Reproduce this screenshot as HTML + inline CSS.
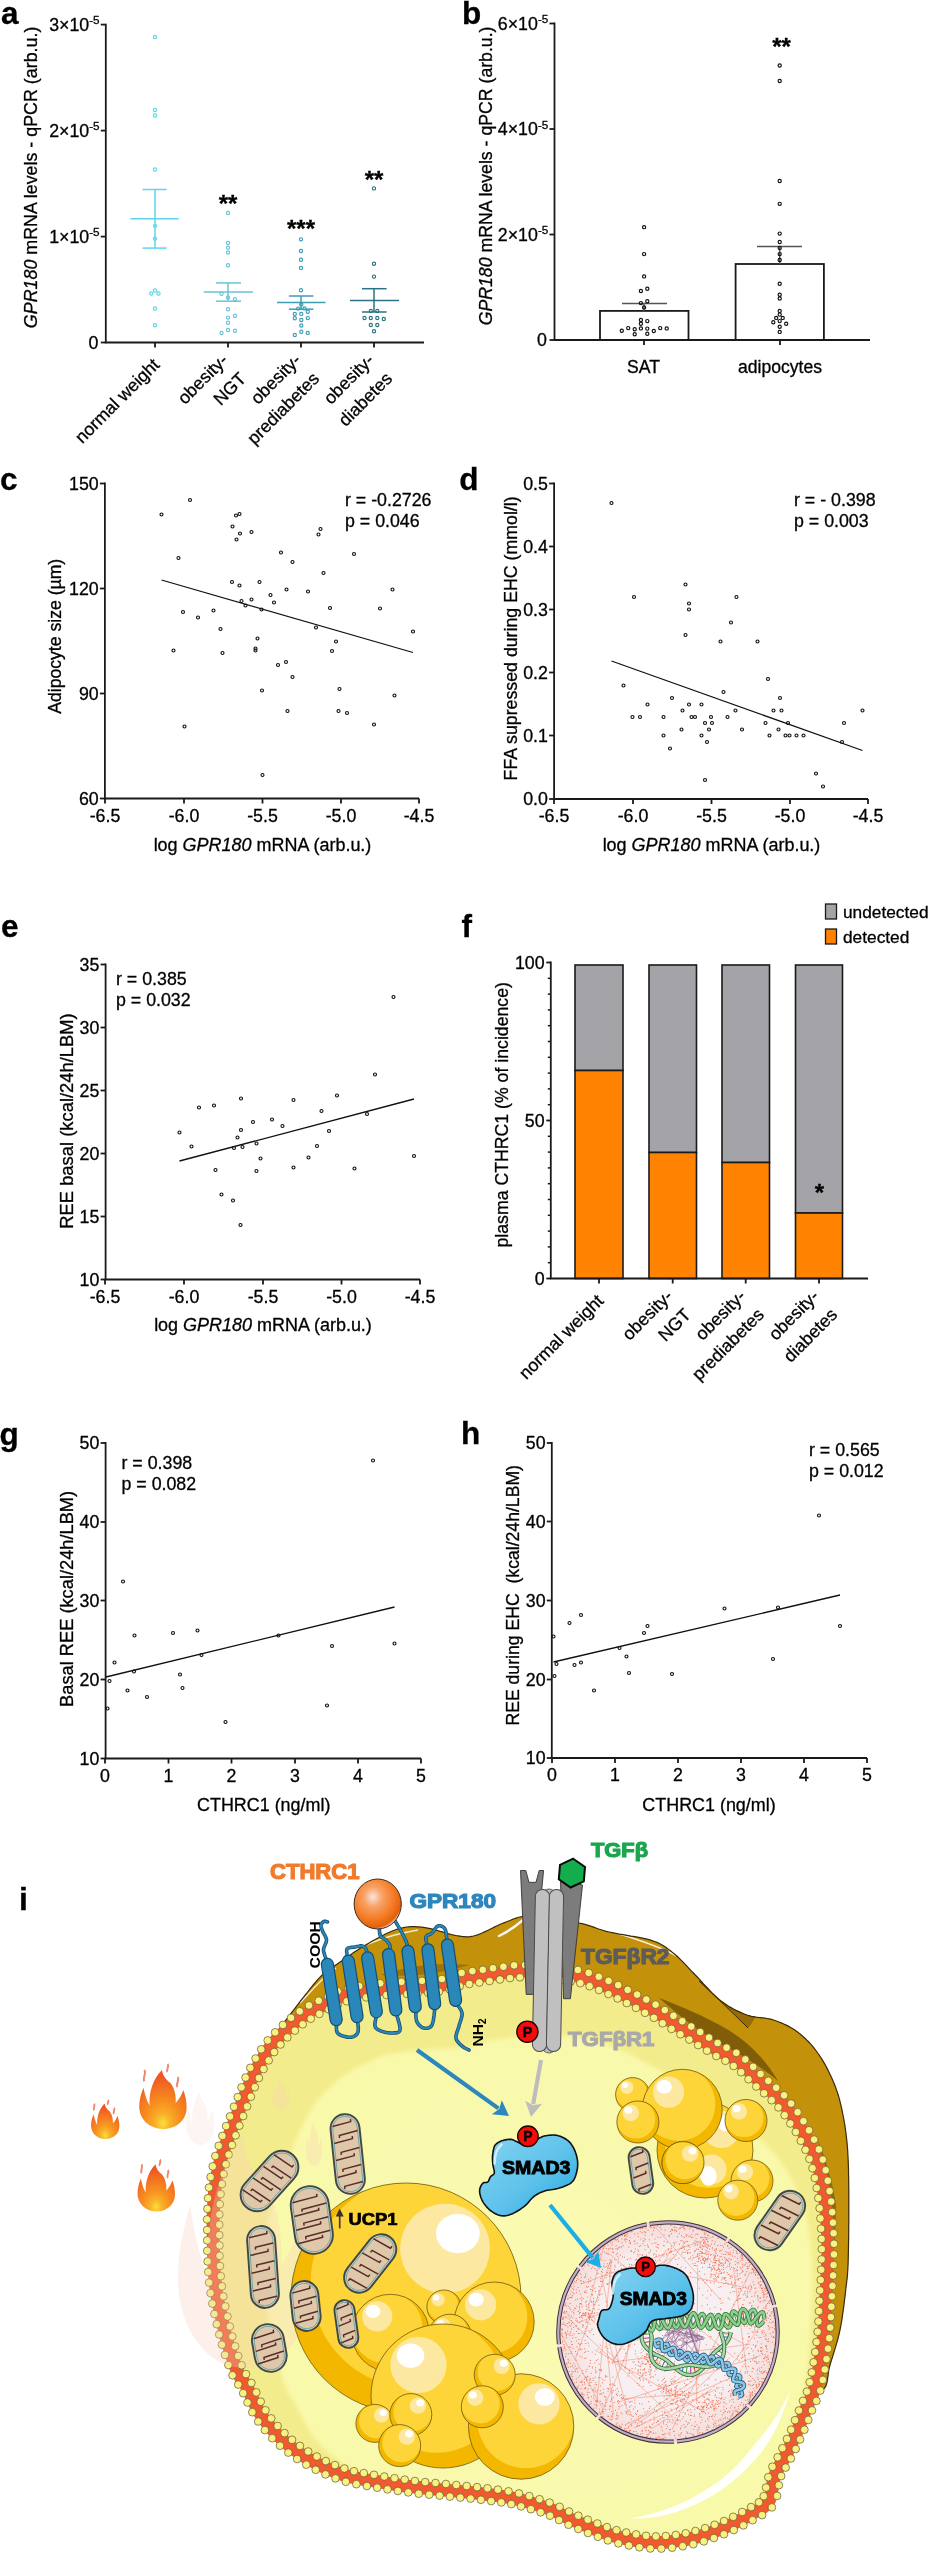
<!DOCTYPE html>
<html><head><meta charset="utf-8"><style>
html,body{margin:0;padding:0;background:#fff;}
svg{display:block;filter:blur(0.35px);}
svg text{font-family:"Liberation Sans", sans-serif;}
.ch text{stroke:#000;stroke-width:0.3px;}
</style></head><body>
<svg width="929" height="2556" viewBox="0 0 929 2556">
<defs>
<radialGradient id="cyto" cx="540" cy="2290" r="330" gradientUnits="userSpaceOnUse">
<stop offset="0" stop-color="#fafab2"/><stop offset="0.7" stop-color="#f9f9ac"/><stop offset="1" stop-color="#f9f9a8"/></radialGradient>
<radialGradient id="flg" cx="0.5" cy="0.9" r="0.8"><stop offset="0" stop-color="#f8e03a"/><stop offset="0.2" stop-color="#f9b02a"/><stop offset="0.45" stop-color="#f7901f"/><stop offset="0.8" stop-color="#f26c22"/><stop offset="1" stop-color="#ee5522"/></radialGradient>
<radialGradient id="ballg" cx="0.4" cy="0.36" r="0.66"><stop offset="0" stop-color="#fbe2dc"/><stop offset="0.3" stop-color="#f8a266"/><stop offset="0.7" stop-color="#f47820"/><stop offset="0.93" stop-color="#e0600c"/><stop offset="1" stop-color="#f6c8a0"/></radialGradient>
<radialGradient id="nucg" cx="0.5" cy="0.5" r="0.5"><stop offset="0" stop-color="#f8f3f5"/><stop offset="0.7" stop-color="#f7eef0"/><stop offset="1" stop-color="#f4dcd8"/></radialGradient>
<linearGradient id="smadg" x1="0" y1="0" x2="1" y2="1"><stop offset="0" stop-color="#84d3f1"/><stop offset="0.55" stop-color="#5ec2eb"/><stop offset="1" stop-color="#1fa5dc"/></linearGradient>
<radialGradient id="glow" cx="0.5" cy="0.5" r="0.5"><stop offset="0" stop-color="#f8c8a8" stop-opacity="0.35"/><stop offset="0.75" stop-color="#f8c8a8" stop-opacity="0.18"/><stop offset="1" stop-color="#f8c8a8" stop-opacity="0"/></radialGradient>
<linearGradient id="gry" x1="0" y1="0" x2="1" y2="0"><stop offset="0" stop-color="#a3a3a3"/><stop offset="0.45" stop-color="#d4d4d4"/><stop offset="1" stop-color="#a0a0a0"/></linearGradient>
<filter id="blur6" x="-20%" y="-20%" width="140%" height="140%"><feGaussianBlur stdDeviation="6"/></filter><filter id="blur2" x="-5%" y="-5%" width="110%" height="110%"><feGaussianBlur stdDeviation="2"/></filter>
</defs>
<g transform="translate(186,2092) scale(28,53)" opacity="0.2"><path d="M0.5,1 C0.2,1 0,0.82 0,0.62 C0,0.5 0.04,0.4 0.09,0.3 C0.12,0.42 0.16,0.52 0.22,0.6 C0.2,0.4 0.28,0.16 0.48,0 C0.5,0.1 0.56,0.16 0.66,0.22 C0.74,0.3 0.78,0.42 0.77,0.56 C0.84,0.5 0.9,0.42 0.93,0.34 C0.98,0.44 1,0.54 1,0.64 C1,0.84 0.8,1 0.5,1 Z" fill="#f7cdb8"/></g>
<g transform="translate(91,2103.6) scale(28.400000000000006,35.5)"><path d="M0.5,1 C0.2,1 0,0.82 0,0.62 C0,0.5 0.04,0.4 0.09,0.3 C0.12,0.42 0.16,0.52 0.22,0.6 C0.2,0.4 0.28,0.16 0.48,0 C0.5,0.1 0.56,0.16 0.66,0.22 C0.74,0.3 0.78,0.42 0.77,0.56 C0.84,0.5 0.9,0.42 0.93,0.34 C0.98,0.44 1,0.54 1,0.64 C1,0.84 0.8,1 0.5,1 Z" fill="url(#flg)"/><path d="M0.11,0.19 C0.06,0.13 0.16,0.07 0.11,0.0 M0.6,0.03 C0.56,-0.01 0.64,-0.05 0.6,-0.1 M0.81,0.29 C0.76,0.23 0.86,0.18 0.81,0.12" stroke="#e8603a" stroke-width="0.068" fill="none" opacity="0.75"/></g>
<g transform="translate(139.2,2070) scale(47.400000000000006,59)"><path d="M0.5,1 C0.2,1 0,0.82 0,0.62 C0,0.5 0.04,0.4 0.09,0.3 C0.12,0.42 0.16,0.52 0.22,0.6 C0.2,0.4 0.28,0.16 0.48,0 C0.5,0.1 0.56,0.16 0.66,0.22 C0.74,0.3 0.78,0.42 0.77,0.56 C0.84,0.5 0.9,0.42 0.93,0.34 C0.98,0.44 1,0.54 1,0.64 C1,0.84 0.8,1 0.5,1 Z" fill="url(#flg)"/><path d="M0.11,0.19 C0.06,0.13 0.16,0.07 0.11,0.0 M0.6,0.03 C0.56,-0.01 0.64,-0.05 0.6,-0.1 M0.81,0.29 C0.76,0.23 0.86,0.18 0.81,0.12" stroke="#e8603a" stroke-width="0.041" fill="none" opacity="0.75"/></g>
<g transform="translate(137.5,2164.3) scale(37.5,47.19999999999982)"><path d="M0.5,1 C0.2,1 0,0.82 0,0.62 C0,0.5 0.04,0.4 0.09,0.3 C0.12,0.42 0.16,0.52 0.22,0.6 C0.2,0.4 0.28,0.16 0.48,0 C0.5,0.1 0.56,0.16 0.66,0.22 C0.74,0.3 0.78,0.42 0.77,0.56 C0.84,0.5 0.9,0.42 0.93,0.34 C0.98,0.44 1,0.54 1,0.64 C1,0.84 0.8,1 0.5,1 Z" fill="url(#flg)"/><path d="M0.11,0.19 C0.06,0.13 0.16,0.07 0.11,0.0 M0.6,0.03 C0.56,-0.01 0.64,-0.05 0.6,-0.1 M0.81,0.29 C0.76,0.23 0.86,0.18 0.81,0.12" stroke="#e8603a" stroke-width="0.051" fill="none" opacity="0.75"/></g>
<clipPath id="brownclip"><path d="M262.0,2058.0 L262.4,2057.2 L262.9,2056.2 L263.5,2055.0 L264.1,2053.6 L264.8,2052.1 L265.6,2050.6 L266.3,2049.0 L267.1,2047.5 L267.9,2045.9 L268.6,2044.5 L269.3,2043.2 L270.0,2042.0 L270.6,2041.0 L271.1,2040.1 L271.6,2039.3 L272.1,2038.6 L272.6,2037.9 L273.1,2037.3 L273.6,2036.6 L274.2,2035.9 L274.7,2035.2 L275.4,2034.3 L276.1,2033.4 L276.9,2032.3 L277.8,2031.1 L278.7,2029.8 L279.8,2028.4 L280.9,2026.9 L282.0,2025.4 L283.1,2023.9 L284.3,2022.3 L285.5,2020.6 L286.8,2019.0 L288.0,2017.4 L289.2,2015.8 L290.4,2014.2 L291.6,2012.6 L292.8,2011.0 L294.1,2009.4 L295.3,2007.8 L296.6,2006.1 L297.8,2004.5 L299.1,2002.8 L300.4,2001.1 L301.7,1999.5 L303.0,1997.9 L304.2,1996.3 L305.5,1994.7 L306.8,1993.1 L308.0,1991.5 L309.3,1989.9 L310.6,1988.2 L311.9,1986.6 L313.2,1985.0 L314.5,1983.5 L315.8,1982.0 L317.0,1980.5 L318.2,1979.1 L319.4,1977.8 L320.6,1976.6 L321.7,1975.5 L322.6,1974.7 L323.4,1973.9 L324.2,1973.2 L324.9,1972.6 L325.7,1972.0 L326.5,1971.4 L327.5,1970.8 L328.5,1970.1 L329.8,1969.2 L331.3,1968.2 L333.0,1967.0 L335.0,1965.6 L337.3,1964.0 L339.7,1962.2 L342.4,1960.4 L345.2,1958.4 L348.1,1956.4 L351.0,1954.4 L354.0,1952.3 L357.0,1950.4 L359.9,1948.5 L362.8,1946.7 L365.6,1945.0 L368.3,1943.4 L371.1,1941.8 L373.9,1940.2 L376.7,1938.7 L379.5,1937.2 L382.2,1935.7 L385.0,1934.3 L387.7,1933.0 L390.4,1931.8 L393.0,1930.8 L395.5,1929.8 L398.0,1929.0 L400.4,1928.3 L402.6,1927.8 L404.7,1927.4 L406.8,1927.0 L408.8,1926.8 L410.9,1926.7 L412.9,1926.6 L414.9,1926.7 L417.0,1926.8 L419.1,1926.9 L421.3,1927.1 L423.7,1927.4 L426.2,1927.8 L428.9,1928.3 L431.6,1928.9 L434.5,1929.7 L437.3,1930.5 L440.2,1931.4 L443.1,1932.2 L445.9,1933.0 L448.7,1933.8 L451.3,1934.5 L453.7,1935.1 L456.0,1935.5 L458.0,1935.8 L459.9,1936.1 L461.5,1936.4 L463.1,1936.6 L464.5,1936.7 L465.9,1936.8 L467.3,1936.8 L468.7,1936.8 L470.2,1936.6 L471.8,1936.3 L473.5,1936.0 L475.4,1935.5 L477.5,1934.9 L479.7,1934.0 L482.1,1933.0 L484.5,1931.9 L487.0,1930.7 L489.6,1929.5 L492.1,1928.2 L494.7,1926.9 L497.3,1925.7 L499.7,1924.5 L502.2,1923.5 L504.5,1922.6 L506.7,1921.8 L508.7,1921.0 L510.6,1920.2 L512.4,1919.4 L514.2,1918.7 L516.0,1918.1 L517.9,1917.5 L519.9,1917.0 L522.1,1916.5 L524.4,1916.2 L527.1,1916.1 L530.0,1916.0 L533.3,1916.1 L537.0,1916.4 L541.0,1916.7 L545.3,1917.3 L549.7,1917.9 L554.2,1918.5 L558.7,1919.3 L563.2,1920.0 L567.5,1920.8 L571.7,1921.6 L575.5,1922.3 L579.0,1923.0 L582.1,1923.7 L584.9,1924.4 L587.5,1925.1 L589.9,1925.9 L592.2,1926.6 L594.4,1927.4 L596.5,1928.2 L598.7,1929.0 L601.0,1929.7 L603.5,1930.5 L606.1,1931.3 L609.0,1932.0 L612.2,1932.7 L615.7,1933.4 L619.3,1934.1 L623.2,1934.7 L627.1,1935.4 L631.0,1936.1 L634.9,1936.7 L638.8,1937.4 L642.4,1938.2 L645.9,1938.9 L649.1,1939.7 L652.0,1940.6 L654.6,1941.5 L656.9,1942.4 L658.9,1943.3 L660.8,1944.3 L662.6,1945.2 L664.2,1946.2 L665.8,1947.3 L667.3,1948.4 L668.9,1949.6 L670.4,1950.8 L672.1,1952.1 L673.8,1953.5 L675.6,1955.0 L677.4,1956.5 L679.1,1958.2 L680.8,1959.9 L682.6,1961.6 L684.3,1963.4 L686.1,1965.3 L687.8,1967.2 L689.6,1969.1 L691.5,1971.1 L693.4,1973.0 L695.3,1975.0 L697.3,1977.0 L699.3,1979.2 L701.4,1981.5 L703.5,1983.8 L705.7,1986.1 L707.9,1988.5 L710.1,1990.8 L712.3,1993.1 L714.5,1995.2 L716.7,1997.3 L718.8,1999.2 L721.0,2001.0 L723.2,2002.6 L725.3,2004.1 L727.5,2005.6 L729.6,2006.9 L731.8,2008.1 L733.9,2009.3 L736.1,2010.4 L738.3,2011.4 L740.5,2012.4 L742.6,2013.3 L744.8,2014.2 L747.0,2015.0 L749.2,2015.7 L751.4,2016.3 L753.7,2016.7 L755.9,2017.1 L758.2,2017.4 L760.5,2017.6 L762.7,2017.9 L765.0,2018.2 L767.2,2018.5 L769.4,2018.9 L771.5,2019.4 L773.6,2020.0 L775.7,2020.7 L777.7,2021.5 L779.7,2022.3 L781.8,2023.1 L783.7,2024.0 L785.7,2024.9 L787.6,2025.9 L789.5,2026.9 L791.4,2028.0 L793.3,2029.1 L795.1,2030.3 L796.9,2031.6 L798.7,2032.9 L800.4,2034.3 L802.1,2035.7 L803.8,2037.2 L805.5,2038.7 L807.1,2040.3 L808.7,2042.0 L810.3,2043.7 L811.8,2045.4 L813.3,2047.2 L814.8,2049.1 L816.3,2051.0 L817.7,2053.0 L819.2,2055.0 L820.6,2057.2 L822.0,2059.4 L823.3,2061.6 L824.7,2063.9 L826.0,2066.3 L827.2,2068.6 L828.4,2071.0 L829.6,2073.4 L830.7,2075.7 L831.8,2078.1 L832.8,2080.4 L833.8,2082.7 L834.7,2085.0 L835.6,2087.3 L836.4,2089.6 L837.2,2091.9 L838.0,2094.3 L838.7,2096.7 L839.4,2099.2 L840.1,2101.8 L840.7,2104.4 L841.4,2107.2 L842.0,2110.1 L842.6,2113.0 L843.2,2116.0 L843.8,2119.1 L844.3,2122.2 L844.9,2125.4 L845.3,2128.7 L845.8,2132.0 L846.2,2135.4 L846.6,2138.9 L847.0,2142.4 L847.3,2146.0 L847.6,2149.6 L847.8,2153.3 L848.0,2157.0 L848.2,2160.8 L848.3,2164.6 L848.5,2168.5 L848.5,2172.5 L848.6,2176.6 L848.7,2180.9 L848.7,2185.2 L848.8,2189.7 L848.8,2194.4 L848.8,2199.4 L848.8,2204.8 L848.8,2210.4 L848.8,2216.3 L848.8,2222.3 L848.7,2228.4 L848.7,2234.3 L848.6,2240.1 L848.5,2245.7 L848.4,2250.9 L848.3,2255.7 L848.2,2260.0 L848.1,2263.7 L847.9,2266.9 L847.8,2269.8 L847.6,2272.3 L847.5,2274.5 L847.3,2276.6 L847.1,2278.6 L846.8,2280.6 L846.6,2282.6 L846.3,2284.8 L846.0,2287.3 L845.7,2290.0 L845.4,2293.0 L845.0,2296.1 L844.6,2299.4 L844.2,2302.8 L843.8,2306.2 L843.3,2309.7 L842.8,2313.2 L842.3,2316.7 L841.8,2320.1 L841.2,2323.5 L840.6,2326.8 L840.0,2330.0 L839.3,2333.1 L838.6,2336.2 L837.8,2339.3 L836.9,2342.4 L836.0,2345.4 L835.1,2348.4 L834.2,2351.4 L833.3,2354.3 L832.5,2357.1 L831.6,2359.8 L830.8,2362.4 L830.0,2365.0 L829.3,2367.5 L828.8,2370.2 L828.4,2372.8 L828.1,2375.4 L827.7,2377.9 L827.4,2380.3 L826.9,2382.6 L826.4,2384.6 L825.6,2386.4 L824.7,2388.0 L823.5,2389.2 L822.0,2390.0 L820.4,2390.6 L818.7,2391.2 L817.0,2391.6 L815.3,2391.9 L813.3,2391.9 L811.1,2391.6 L808.7,2390.9 L805.9,2389.8 L802.6,2388.2 L799.0,2386.1 L794.8,2383.4 L790.0,2380.0 L784.9,2375.8 L779.6,2370.9 L774.2,2365.4 L768.4,2359.3 L762.2,2352.6 L755.5,2345.6 L748.2,2338.3 L740.3,2330.7 L731.6,2323.0 L722.0,2315.3 L711.5,2307.6 L700.0,2300.0 L687.2,2292.3 L673.0,2284.3 L657.7,2275.9 L641.5,2267.4 L624.5,2258.7 L606.9,2250.0 L588.9,2241.3 L570.7,2232.6 L552.6,2224.1 L534.6,2215.7 L517.0,2207.7 L500.0,2200.0 L482.7,2192.4 L464.4,2184.6 L445.3,2176.7 L425.9,2168.9 L406.5,2161.2 L387.5,2153.8 L369.2,2146.6 L351.9,2140.0 L335.9,2133.9 L321.8,2128.5 L309.7,2123.8 L300.0,2120.0 Z"/></clipPath>
<path d="M262.0,2058.0 L262.4,2057.2 L262.9,2056.2 L263.5,2055.0 L264.1,2053.6 L264.8,2052.1 L265.6,2050.6 L266.3,2049.0 L267.1,2047.5 L267.9,2045.9 L268.6,2044.5 L269.3,2043.2 L270.0,2042.0 L270.6,2041.0 L271.1,2040.1 L271.6,2039.3 L272.1,2038.6 L272.6,2037.9 L273.1,2037.3 L273.6,2036.6 L274.2,2035.9 L274.7,2035.2 L275.4,2034.3 L276.1,2033.4 L276.9,2032.3 L277.8,2031.1 L278.7,2029.8 L279.8,2028.4 L280.9,2026.9 L282.0,2025.4 L283.1,2023.9 L284.3,2022.3 L285.5,2020.6 L286.8,2019.0 L288.0,2017.4 L289.2,2015.8 L290.4,2014.2 L291.6,2012.6 L292.8,2011.0 L294.1,2009.4 L295.3,2007.8 L296.6,2006.1 L297.8,2004.5 L299.1,2002.8 L300.4,2001.1 L301.7,1999.5 L303.0,1997.9 L304.2,1996.3 L305.5,1994.7 L306.8,1993.1 L308.0,1991.5 L309.3,1989.9 L310.6,1988.2 L311.9,1986.6 L313.2,1985.0 L314.5,1983.5 L315.8,1982.0 L317.0,1980.5 L318.2,1979.1 L319.4,1977.8 L320.6,1976.6 L321.7,1975.5 L322.6,1974.7 L323.4,1973.9 L324.2,1973.2 L324.9,1972.6 L325.7,1972.0 L326.5,1971.4 L327.5,1970.8 L328.5,1970.1 L329.8,1969.2 L331.3,1968.2 L333.0,1967.0 L335.0,1965.6 L337.3,1964.0 L339.7,1962.2 L342.4,1960.4 L345.2,1958.4 L348.1,1956.4 L351.0,1954.4 L354.0,1952.3 L357.0,1950.4 L359.9,1948.5 L362.8,1946.7 L365.6,1945.0 L368.3,1943.4 L371.1,1941.8 L373.9,1940.2 L376.7,1938.7 L379.5,1937.2 L382.2,1935.7 L385.0,1934.3 L387.7,1933.0 L390.4,1931.8 L393.0,1930.8 L395.5,1929.8 L398.0,1929.0 L400.4,1928.3 L402.6,1927.8 L404.7,1927.4 L406.8,1927.0 L408.8,1926.8 L410.9,1926.7 L412.9,1926.6 L414.9,1926.7 L417.0,1926.8 L419.1,1926.9 L421.3,1927.1 L423.7,1927.4 L426.2,1927.8 L428.9,1928.3 L431.6,1928.9 L434.5,1929.7 L437.3,1930.5 L440.2,1931.4 L443.1,1932.2 L445.9,1933.0 L448.7,1933.8 L451.3,1934.5 L453.7,1935.1 L456.0,1935.5 L458.0,1935.8 L459.9,1936.1 L461.5,1936.4 L463.1,1936.6 L464.5,1936.7 L465.9,1936.8 L467.3,1936.8 L468.7,1936.8 L470.2,1936.6 L471.8,1936.3 L473.5,1936.0 L475.4,1935.5 L477.5,1934.9 L479.7,1934.0 L482.1,1933.0 L484.5,1931.9 L487.0,1930.7 L489.6,1929.5 L492.1,1928.2 L494.7,1926.9 L497.3,1925.7 L499.7,1924.5 L502.2,1923.5 L504.5,1922.6 L506.7,1921.8 L508.7,1921.0 L510.6,1920.2 L512.4,1919.4 L514.2,1918.7 L516.0,1918.1 L517.9,1917.5 L519.9,1917.0 L522.1,1916.5 L524.4,1916.2 L527.1,1916.1 L530.0,1916.0 L533.3,1916.1 L537.0,1916.4 L541.0,1916.7 L545.3,1917.3 L549.7,1917.9 L554.2,1918.5 L558.7,1919.3 L563.2,1920.0 L567.5,1920.8 L571.7,1921.6 L575.5,1922.3 L579.0,1923.0 L582.1,1923.7 L584.9,1924.4 L587.5,1925.1 L589.9,1925.9 L592.2,1926.6 L594.4,1927.4 L596.5,1928.2 L598.7,1929.0 L601.0,1929.7 L603.5,1930.5 L606.1,1931.3 L609.0,1932.0 L612.2,1932.7 L615.7,1933.4 L619.3,1934.1 L623.2,1934.7 L627.1,1935.4 L631.0,1936.1 L634.9,1936.7 L638.8,1937.4 L642.4,1938.2 L645.9,1938.9 L649.1,1939.7 L652.0,1940.6 L654.6,1941.5 L656.9,1942.4 L658.9,1943.3 L660.8,1944.3 L662.6,1945.2 L664.2,1946.2 L665.8,1947.3 L667.3,1948.4 L668.9,1949.6 L670.4,1950.8 L672.1,1952.1 L673.8,1953.5 L675.6,1955.0 L677.4,1956.5 L679.1,1958.2 L680.8,1959.9 L682.6,1961.6 L684.3,1963.4 L686.1,1965.3 L687.8,1967.2 L689.6,1969.1 L691.5,1971.1 L693.4,1973.0 L695.3,1975.0 L697.3,1977.0 L699.3,1979.2 L701.4,1981.5 L703.5,1983.8 L705.7,1986.1 L707.9,1988.5 L710.1,1990.8 L712.3,1993.1 L714.5,1995.2 L716.7,1997.3 L718.8,1999.2 L721.0,2001.0 L723.2,2002.6 L725.3,2004.1 L727.5,2005.6 L729.6,2006.9 L731.8,2008.1 L733.9,2009.3 L736.1,2010.4 L738.3,2011.4 L740.5,2012.4 L742.6,2013.3 L744.8,2014.2 L747.0,2015.0 L749.2,2015.7 L751.4,2016.3 L753.7,2016.7 L755.9,2017.1 L758.2,2017.4 L760.5,2017.6 L762.7,2017.9 L765.0,2018.2 L767.2,2018.5 L769.4,2018.9 L771.5,2019.4 L773.6,2020.0 L775.7,2020.7 L777.7,2021.5 L779.7,2022.3 L781.8,2023.1 L783.7,2024.0 L785.7,2024.9 L787.6,2025.9 L789.5,2026.9 L791.4,2028.0 L793.3,2029.1 L795.1,2030.3 L796.9,2031.6 L798.7,2032.9 L800.4,2034.3 L802.1,2035.7 L803.8,2037.2 L805.5,2038.7 L807.1,2040.3 L808.7,2042.0 L810.3,2043.7 L811.8,2045.4 L813.3,2047.2 L814.8,2049.1 L816.3,2051.0 L817.7,2053.0 L819.2,2055.0 L820.6,2057.2 L822.0,2059.4 L823.3,2061.6 L824.7,2063.9 L826.0,2066.3 L827.2,2068.6 L828.4,2071.0 L829.6,2073.4 L830.7,2075.7 L831.8,2078.1 L832.8,2080.4 L833.8,2082.7 L834.7,2085.0 L835.6,2087.3 L836.4,2089.6 L837.2,2091.9 L838.0,2094.3 L838.7,2096.7 L839.4,2099.2 L840.1,2101.8 L840.7,2104.4 L841.4,2107.2 L842.0,2110.1 L842.6,2113.0 L843.2,2116.0 L843.8,2119.1 L844.3,2122.2 L844.9,2125.4 L845.3,2128.7 L845.8,2132.0 L846.2,2135.4 L846.6,2138.9 L847.0,2142.4 L847.3,2146.0 L847.6,2149.6 L847.8,2153.3 L848.0,2157.0 L848.2,2160.8 L848.3,2164.6 L848.5,2168.5 L848.5,2172.5 L848.6,2176.6 L848.7,2180.9 L848.7,2185.2 L848.8,2189.7 L848.8,2194.4 L848.8,2199.4 L848.8,2204.8 L848.8,2210.4 L848.8,2216.3 L848.8,2222.3 L848.7,2228.4 L848.7,2234.3 L848.6,2240.1 L848.5,2245.7 L848.4,2250.9 L848.3,2255.7 L848.2,2260.0 L848.1,2263.7 L847.9,2266.9 L847.8,2269.8 L847.6,2272.3 L847.5,2274.5 L847.3,2276.6 L847.1,2278.6 L846.8,2280.6 L846.6,2282.6 L846.3,2284.8 L846.0,2287.3 L845.7,2290.0 L845.4,2293.0 L845.0,2296.1 L844.6,2299.4 L844.2,2302.8 L843.8,2306.2 L843.3,2309.7 L842.8,2313.2 L842.3,2316.7 L841.8,2320.1 L841.2,2323.5 L840.6,2326.8 L840.0,2330.0 L839.3,2333.1 L838.6,2336.2 L837.8,2339.3 L836.9,2342.4 L836.0,2345.4 L835.1,2348.4 L834.2,2351.4 L833.3,2354.3 L832.5,2357.1 L831.6,2359.8 L830.8,2362.4 L830.0,2365.0 L829.3,2367.5 L828.8,2370.2 L828.4,2372.8 L828.1,2375.4 L827.7,2377.9 L827.4,2380.3 L826.9,2382.6 L826.4,2384.6 L825.6,2386.4 L824.7,2388.0 L823.5,2389.2 L822.0,2390.0 L820.4,2390.6 L818.7,2391.2 L817.0,2391.6 L815.3,2391.9 L813.3,2391.9 L811.1,2391.6 L808.7,2390.9 L805.9,2389.8 L802.6,2388.2 L799.0,2386.1 L794.8,2383.4 L790.0,2380.0 L784.9,2375.8 L779.6,2370.9 L774.2,2365.4 L768.4,2359.3 L762.2,2352.6 L755.5,2345.6 L748.2,2338.3 L740.3,2330.7 L731.6,2323.0 L722.0,2315.3 L711.5,2307.6 L700.0,2300.0 L687.2,2292.3 L673.0,2284.3 L657.7,2275.9 L641.5,2267.4 L624.5,2258.7 L606.9,2250.0 L588.9,2241.3 L570.7,2232.6 L552.6,2224.1 L534.6,2215.7 L517.0,2207.7 L500.0,2200.0 L482.7,2192.4 L464.4,2184.6 L445.3,2176.7 L425.9,2168.9 L406.5,2161.2 L387.5,2153.8 L369.2,2146.6 L351.9,2140.0 L335.9,2133.9 L321.8,2128.5 L309.7,2123.8 L300.0,2120.0 Z" fill="#c4910a"/>
<g clip-path="url(#brownclip)">
<path d="M380,1975 C410,1965 440,1962 470,1965 C445,1972 415,1978 380,1975 Z" fill="#8f6508" opacity="0.7"/>
<path d="M659,1998 C680,2006 705,2016 730,2031 C750,2044 766,2060 778,2081 C760,2066 742,2055 722,2045 C700,2033 680,2016 659,1998 Z" fill="#6f5005" opacity="0.8"/>
<path d="M699,1981 C722,1990 742,2001 757,2013 C754,2020 751,2025 748,2028 C732,2012 715,1996 699,1981 Z" fill="#8a6208" opacity="0.75"/>
<path d="M699,1981 C715,1996 732,2012 748,2028" stroke="#3a2a05" stroke-width="1" fill="none"/>
<path d="M818,2140 C826,2160 832,2180 836,2205 C836,2230 834,2250 832,2265 C830,2240 828,2215 824,2190 C822,2170 820,2155 818,2140 Z" fill="#7d5806" opacity="0.7"/>
<path d="M300,2003 C312,1990 322,1978 336,1968" stroke="#fff" stroke-width="1.4" fill="none" opacity="0.85"/>
<path d="M605,1930 C620,1934 640,1940 660,1948 C668,1951 672,1953 676,1956" stroke="#fff" stroke-width="1.4" fill="none" opacity="0.85"/>
<path d="M368,1944 C385,1937 400,1933 418,1930" stroke="#fff" stroke-width="1.6" fill="none" opacity="0.8"/>
<path d="M499,1936 C507,1932 515,1927 523,1920" stroke="#f4f4f8" stroke-width="2.4" fill="none" stroke-linecap="round"/>
</g>
<path d="M262.0,2058.0 L262.4,2057.2 L262.9,2056.2 L263.5,2055.0 L264.1,2053.6 L264.8,2052.1 L265.6,2050.6 L266.3,2049.0 L267.1,2047.5 L267.9,2045.9 L268.6,2044.5 L269.3,2043.2 L270.0,2042.0 L270.6,2041.0 L271.1,2040.1 L271.6,2039.3 L272.1,2038.6 L272.6,2037.9 L273.1,2037.3 L273.6,2036.6 L274.2,2035.9 L274.7,2035.2 L275.4,2034.3 L276.1,2033.4 L276.9,2032.3 L277.8,2031.1 L278.7,2029.8 L279.8,2028.4 L280.9,2026.9 L282.0,2025.4 L283.1,2023.9 L284.3,2022.3 L285.5,2020.6 L286.8,2019.0 L288.0,2017.4 L289.2,2015.8 L290.4,2014.2 L291.6,2012.6 L292.8,2011.0 L294.1,2009.4 L295.3,2007.8 L296.6,2006.1 L297.8,2004.5 L299.1,2002.8 L300.4,2001.1 L301.7,1999.5 L303.0,1997.9 L304.2,1996.3 L305.5,1994.7 L306.8,1993.1 L308.0,1991.5 L309.3,1989.9 L310.6,1988.2 L311.9,1986.6 L313.2,1985.0 L314.5,1983.5 L315.8,1982.0 L317.0,1980.5 L318.2,1979.1 L319.4,1977.8 L320.6,1976.6 L321.7,1975.5 L322.6,1974.7 L323.4,1973.9 L324.2,1973.2 L324.9,1972.6 L325.7,1972.0 L326.5,1971.4 L327.5,1970.8 L328.5,1970.1 L329.8,1969.2 L331.3,1968.2 L333.0,1967.0 L335.0,1965.6 L337.3,1964.0 L339.7,1962.2 L342.4,1960.4 L345.2,1958.4 L348.1,1956.4 L351.0,1954.4 L354.0,1952.3 L357.0,1950.4 L359.9,1948.5 L362.8,1946.7 L365.6,1945.0 L368.3,1943.4 L371.1,1941.8 L373.9,1940.2 L376.7,1938.7 L379.5,1937.2 L382.2,1935.7 L385.0,1934.3 L387.7,1933.0 L390.4,1931.8 L393.0,1930.8 L395.5,1929.8 L398.0,1929.0 L400.4,1928.3 L402.6,1927.8 L404.7,1927.4 L406.8,1927.0 L408.8,1926.8 L410.9,1926.7 L412.9,1926.6 L414.9,1926.7 L417.0,1926.8 L419.1,1926.9 L421.3,1927.1 L423.7,1927.4 L426.2,1927.8 L428.9,1928.3 L431.6,1928.9 L434.5,1929.7 L437.3,1930.5 L440.2,1931.4 L443.1,1932.2 L445.9,1933.0 L448.7,1933.8 L451.3,1934.5 L453.7,1935.1 L456.0,1935.5 L458.0,1935.8 L459.9,1936.1 L461.5,1936.4 L463.1,1936.6 L464.5,1936.7 L465.9,1936.8 L467.3,1936.8 L468.7,1936.8 L470.2,1936.6 L471.8,1936.3 L473.5,1936.0 L475.4,1935.5 L477.5,1934.9 L479.7,1934.0 L482.1,1933.0 L484.5,1931.9 L487.0,1930.7 L489.6,1929.5 L492.1,1928.2 L494.7,1926.9 L497.3,1925.7 L499.7,1924.5 L502.2,1923.5 L504.5,1922.6 L506.7,1921.8 L508.7,1921.0 L510.6,1920.2 L512.4,1919.4 L514.2,1918.7 L516.0,1918.1 L517.9,1917.5 L519.9,1917.0 L522.1,1916.5 L524.4,1916.2 L527.1,1916.1 L530.0,1916.0 L533.3,1916.1 L537.0,1916.4 L541.0,1916.7 L545.3,1917.3 L549.7,1917.9 L554.2,1918.5 L558.7,1919.3 L563.2,1920.0 L567.5,1920.8 L571.7,1921.6 L575.5,1922.3 L579.0,1923.0 L582.1,1923.7 L584.9,1924.4 L587.5,1925.1 L589.9,1925.9 L592.2,1926.6 L594.4,1927.4 L596.5,1928.2 L598.7,1929.0 L601.0,1929.7 L603.5,1930.5 L606.1,1931.3 L609.0,1932.0 L612.2,1932.7 L615.7,1933.4 L619.3,1934.1 L623.2,1934.7 L627.1,1935.4 L631.0,1936.1 L634.9,1936.7 L638.8,1937.4 L642.4,1938.2 L645.9,1938.9 L649.1,1939.7 L652.0,1940.6 L654.6,1941.5 L656.9,1942.4 L658.9,1943.3 L660.8,1944.3 L662.6,1945.2 L664.2,1946.2 L665.8,1947.3 L667.3,1948.4 L668.9,1949.6 L670.4,1950.8 L672.1,1952.1 L673.8,1953.5 L675.6,1955.0 L677.4,1956.5 L679.1,1958.2 L680.8,1959.9 L682.6,1961.6 L684.3,1963.4 L686.1,1965.3 L687.8,1967.2 L689.6,1969.1 L691.5,1971.1 L693.4,1973.0 L695.3,1975.0 L697.3,1977.0 L699.3,1979.2 L701.4,1981.5 L703.5,1983.8 L705.7,1986.1 L707.9,1988.5 L710.1,1990.8 L712.3,1993.1 L714.5,1995.2 L716.7,1997.3 L718.8,1999.2 L721.0,2001.0 L723.2,2002.6 L725.3,2004.1 L727.5,2005.6 L729.6,2006.9 L731.8,2008.1 L733.9,2009.3 L736.1,2010.4 L738.3,2011.4 L740.5,2012.4 L742.6,2013.3 L744.8,2014.2 L747.0,2015.0 L749.2,2015.7 L751.4,2016.3 L753.7,2016.7 L755.9,2017.1 L758.2,2017.4 L760.5,2017.6 L762.7,2017.9 L765.0,2018.2 L767.2,2018.5 L769.4,2018.9 L771.5,2019.4 L773.6,2020.0 L775.7,2020.7 L777.7,2021.5 L779.7,2022.3 L781.8,2023.1 L783.7,2024.0 L785.7,2024.9 L787.6,2025.9 L789.5,2026.9 L791.4,2028.0 L793.3,2029.1 L795.1,2030.3 L796.9,2031.6 L798.7,2032.9 L800.4,2034.3 L802.1,2035.7 L803.8,2037.2 L805.5,2038.7 L807.1,2040.3 L808.7,2042.0 L810.3,2043.7 L811.8,2045.4 L813.3,2047.2 L814.8,2049.1 L816.3,2051.0 L817.7,2053.0 L819.2,2055.0 L820.6,2057.2 L822.0,2059.4 L823.3,2061.6 L824.7,2063.9 L826.0,2066.3 L827.2,2068.6 L828.4,2071.0 L829.6,2073.4 L830.7,2075.7 L831.8,2078.1 L832.8,2080.4 L833.8,2082.7 L834.7,2085.0 L835.6,2087.3 L836.4,2089.6 L837.2,2091.9 L838.0,2094.3 L838.7,2096.7 L839.4,2099.2 L840.1,2101.8 L840.7,2104.4 L841.4,2107.2 L842.0,2110.1 L842.6,2113.0 L843.2,2116.0 L843.8,2119.1 L844.3,2122.2 L844.9,2125.4 L845.3,2128.7 L845.8,2132.0 L846.2,2135.4 L846.6,2138.9 L847.0,2142.4 L847.3,2146.0 L847.6,2149.6 L847.8,2153.3 L848.0,2157.0 L848.2,2160.8 L848.3,2164.6 L848.5,2168.5 L848.5,2172.5 L848.6,2176.6 L848.7,2180.9 L848.7,2185.2 L848.8,2189.7 L848.8,2194.4 L848.8,2199.4 L848.8,2204.8 L848.8,2210.4 L848.8,2216.3 L848.8,2222.3 L848.7,2228.4 L848.7,2234.3 L848.6,2240.1 L848.5,2245.7 L848.4,2250.9 L848.3,2255.7 L848.2,2260.0 L848.1,2263.7 L847.9,2266.9 L847.8,2269.8 L847.6,2272.3 L847.5,2274.5 L847.3,2276.6 L847.1,2278.6 L846.8,2280.6 L846.6,2282.6 L846.3,2284.8 L846.0,2287.3 L845.7,2290.0 L845.4,2293.0 L845.0,2296.1 L844.6,2299.4 L844.2,2302.8 L843.8,2306.2 L843.3,2309.7 L842.8,2313.2 L842.3,2316.7 L841.8,2320.1 L841.2,2323.5 L840.6,2326.8 L840.0,2330.0 L839.3,2333.1 L838.6,2336.2 L837.8,2339.3 L836.9,2342.4 L836.0,2345.4 L835.1,2348.4 L834.2,2351.4 L833.3,2354.3 L832.5,2357.1 L831.6,2359.8 L830.8,2362.4 L830.0,2365.0 L829.3,2367.5 L828.8,2370.2 L828.4,2372.8 L828.1,2375.4 L827.7,2377.9 L827.4,2380.3 L826.9,2382.6 L826.4,2384.6 L825.6,2386.4 L824.7,2388.0 L823.5,2389.2 L822.0,2390.0 L820.4,2390.6 L818.7,2391.2 L817.0,2391.6 L815.3,2391.9 L813.3,2391.9 L811.1,2391.6 L808.7,2390.9 L805.9,2389.8 L802.6,2388.2 L799.0,2386.1 L794.8,2383.4 L790.0,2380.0 L784.9,2375.8 L779.6,2370.9 L774.2,2365.4 L768.4,2359.3 L762.2,2352.6 L755.5,2345.6 L748.2,2338.3 L740.3,2330.7 L731.6,2323.0 L722.0,2315.3 L711.5,2307.6 L700.0,2300.0 L687.2,2292.3 L673.0,2284.3 L657.7,2275.9 L641.5,2267.4 L624.5,2258.7 L606.9,2250.0 L588.9,2241.3 L570.7,2232.6 L552.6,2224.1 L534.6,2215.7 L517.0,2207.7 L500.0,2200.0 L482.7,2192.4 L464.4,2184.6 L445.3,2176.7 L425.9,2168.9 L406.5,2161.2 L387.5,2153.8 L369.2,2146.6 L351.9,2140.0 L335.9,2133.9 L321.8,2128.5 L309.7,2123.8 L300.0,2120.0 Z" fill="none" stroke="#3a2a05" stroke-width="1.2"/>
<path d="M251.2,2080.0 L251.8,2078.7 L252.4,2077.4 L252.9,2076.2 L253.5,2075.1 L254.0,2074.0 L254.5,2073.0 L255.0,2072.0 L255.5,2071.0 L256.0,2070.0 L256.5,2069.1 L257.1,2068.1 L257.6,2067.1 L258.2,2066.1 L258.7,2065.1 L259.4,2064.1 L260.0,2063.0 L260.7,2061.9 L261.3,2060.7 L262.0,2059.6 L262.7,2058.5 L263.4,2057.3 L264.1,2056.1 L264.8,2054.9 L265.6,2053.8 L266.3,2052.6 L267.1,2051.4 L267.9,2050.2 L268.7,2049.1 L269.6,2047.9 L270.5,2046.7 L271.4,2045.6 L272.3,2044.4 L273.3,2043.2 L274.3,2042.1 L275.3,2040.9 L276.4,2039.7 L277.5,2038.6 L278.7,2037.4 L279.8,2036.2 L281.0,2035.0 L282.2,2033.9 L283.4,2032.7 L284.5,2031.6 L285.7,2030.5 L286.9,2029.4 L288.1,2028.3 L289.3,2027.3 L290.4,2026.3 L291.5,2025.3 L292.7,2024.3 L293.8,2023.4 L295.0,2022.5 L296.1,2021.5 L297.3,2020.6 L298.4,2019.7 L299.5,2018.9 L300.7,2018.0 L301.8,2017.2 L303.0,2016.4 L304.1,2015.6 L305.2,2014.9 L306.3,2014.1 L307.4,2013.4 L308.5,2012.7 L309.6,2012.0 L310.6,2011.4 L311.7,2010.8 L312.7,2010.3 L313.7,2009.8 L314.7,2009.3 L315.7,2008.8 L316.7,2008.3 L317.7,2007.8 L318.7,2007.4 L319.7,2006.9 L320.8,2006.5 L321.8,2006.0 L322.8,2005.5 L323.9,2005.0 L325.0,2004.5 L326.1,2004.0 L327.2,2003.4 L328.3,2002.8 L329.4,2002.2 L330.5,2001.6 L331.6,2001.0 L332.8,2000.4 L333.9,1999.8 L335.1,1999.2 L336.2,1998.7 L337.4,1998.1 L338.6,1997.5 L339.9,1997.0 L341.1,1996.5 L342.4,1996.0 L343.7,1995.6 L345.0,1995.2 L346.4,1994.8 L347.8,1994.4 L349.3,1994.1 L350.7,1993.8 L352.2,1993.5 L353.7,1993.2 L355.2,1992.9 L356.8,1992.6 L358.3,1992.4 L359.8,1992.1 L361.4,1991.9 L362.9,1991.7 L364.4,1991.4 L365.9,1991.2 L367.4,1991.0 L368.9,1990.8 L370.4,1990.6 L371.8,1990.4 L373.3,1990.2 L374.8,1990.0 L376.3,1989.8 L377.7,1989.7 L379.2,1989.5 L380.7,1989.4 L382.1,1989.2 L383.6,1989.1 L385.1,1989.0 L386.6,1988.9 L388.0,1988.7 L389.5,1988.6 L391.0,1988.5 L392.5,1988.4 L393.9,1988.3 L395.4,1988.2 L396.8,1988.2 L398.2,1988.1 L399.7,1988.0 L401.1,1988.0 L402.6,1987.9 L404.0,1987.9 L405.5,1987.8 L407.0,1987.8 L408.4,1987.7 L410.0,1987.7 L411.5,1987.6 L413.1,1987.5 L414.7,1987.4 L416.4,1987.3 L418.1,1987.2 L419.9,1987.1 L421.7,1987.0 L423.5,1986.9 L425.4,1986.8 L427.3,1986.6 L429.1,1986.5 L431.0,1986.4 L432.9,1986.2 L434.7,1986.1 L436.5,1985.9 L438.2,1985.7 L439.9,1985.5 L441.5,1985.3 L443.0,1985.0 L444.4,1984.7 L445.8,1984.4 L447.1,1984.1 L448.3,1983.7 L449.5,1983.3 L450.6,1982.9 L451.7,1982.5 L452.8,1982.1 L453.9,1981.6 L454.9,1981.2 L456.0,1980.8 L457.1,1980.4 L458.3,1980.0 L459.5,1979.7 L460.7,1979.3 L462.0,1979.0 L463.4,1978.7 L464.7,1978.4 L466.2,1978.2 L467.6,1977.9 L469.1,1977.7 L470.6,1977.5 L472.1,1977.3 L473.6,1977.1 L475.1,1976.9 L476.7,1976.7 L478.2,1976.5 L479.8,1976.3 L481.3,1976.1 L482.8,1975.9 L484.3,1975.7 L485.8,1975.5 L487.3,1975.3 L488.8,1975.0 L490.4,1974.8 L491.9,1974.6 L493.5,1974.3 L495.1,1974.1 L496.6,1973.8 L498.2,1973.6 L499.7,1973.4 L501.2,1973.1 L502.7,1972.9 L504.2,1972.7 L505.6,1972.5 L506.9,1972.3 L508.2,1972.2 L509.4,1972.0 L510.5,1971.9 L511.5,1971.7 L512.5,1971.6 L513.3,1971.5 L514.1,1971.4 L514.9,1971.3 L515.6,1971.2 L516.3,1971.1 L517.0,1971.1 L517.8,1971.0 L518.6,1971.0 L519.4,1970.9 L520.3,1970.9 L521.3,1970.9 L522.4,1971.0 L523.6,1971.0 L524.9,1971.1 L526.3,1971.1 L527.8,1971.3 L529.3,1971.4 L531.0,1971.5 L532.6,1971.7 L534.3,1971.9 L536.1,1972.0 L537.8,1972.2 L539.6,1972.4 L541.4,1972.6 L543.1,1972.8 L544.9,1973.0 L546.6,1973.2 L548.3,1973.3 L550.0,1973.5 L551.7,1973.6 L553.3,1973.8 L555.1,1973.9 L556.8,1974.0 L558.5,1974.1 L560.2,1974.3 L562.0,1974.4 L563.7,1974.5 L565.4,1974.6 L567.1,1974.8 L568.7,1974.9 L570.3,1975.0 L571.8,1975.2 L573.3,1975.4 L574.7,1975.6 L576.1,1975.8 L577.4,1976.0 L578.6,1976.3 L579.7,1976.5 L580.7,1976.7 L581.7,1977.0 L582.7,1977.3 L583.6,1977.5 L584.5,1977.8 L585.4,1978.1 L586.3,1978.4 L587.2,1978.8 L588.1,1979.1 L589.1,1979.5 L590.1,1979.9 L591.2,1980.3 L592.3,1980.7 L593.5,1981.2 L594.7,1981.6 L596.0,1982.1 L597.3,1982.6 L598.6,1983.2 L600.0,1983.7 L601.3,1984.3 L602.7,1984.9 L604.1,1985.5 L605.5,1986.1 L606.9,1986.7 L608.3,1987.3 L609.7,1987.9 L611.1,1988.6 L612.4,1989.2 L613.8,1989.8 L615.1,1990.4 L616.5,1991.1 L617.8,1991.7 L619.2,1992.4 L620.5,1993.0 L621.9,1993.7 L623.2,1994.4 L624.5,1995.0 L625.9,1995.7 L627.2,1996.4 L628.6,1997.1 L629.9,1997.8 L631.3,1998.5 L632.6,1999.2 L634.0,1999.9 L635.3,2000.6 L636.7,2001.3 L638.0,2002.0 L639.4,2002.8 L640.8,2003.5 L642.3,2004.3 L643.7,2005.0 L645.1,2005.8 L646.5,2006.6 L647.9,2007.3 L649.2,2008.1 L650.6,2008.8 L651.9,2009.6 L653.2,2010.3 L654.5,2011.0 L655.7,2011.7 L656.9,2012.4 L658.0,2013.1 L659.1,2013.7 L660.1,2014.3 L661.0,2014.9 L662.0,2015.5 L662.9,2016.1 L663.7,2016.7 L664.6,2017.3 L665.5,2017.9 L666.4,2018.5 L667.2,2019.0 L668.2,2019.7 L669.1,2020.3 L670.1,2020.9 L671.2,2021.6 L672.3,2022.3 L673.5,2023.0 L674.7,2023.8 L676.0,2024.5 L677.2,2025.3 L678.6,2026.1 L679.9,2026.9 L681.3,2027.7 L682.7,2028.5 L684.1,2029.4 L685.5,2030.2 L686.9,2031.0 L688.3,2031.9 L689.7,2032.7 L691.1,2033.5 L692.4,2034.4 L693.8,2035.2 L695.1,2036.0 L696.5,2036.9 L697.8,2037.7 L699.2,2038.6 L700.5,2039.4 L701.9,2040.3 L703.2,2041.2 L704.5,2042.0 L705.9,2042.9 L707.2,2043.7 L708.6,2044.6 L709.9,2045.4 L711.3,2046.3 L712.6,2047.1 L714.0,2047.9 L715.3,2048.7 L716.6,2049.5 L718.0,2050.2 L719.3,2050.9 L720.7,2051.6 L722.1,2052.3 L723.4,2052.9 L724.8,2053.6 L726.1,2054.2 L727.5,2054.9 L728.8,2055.6 L730.2,2056.3 L731.5,2057.0 L732.9,2057.8 L734.2,2058.7 L735.6,2059.6 L736.9,2060.5 L738.2,2061.5 L739.6,2062.6 L740.9,2063.7 L742.2,2064.8 L743.5,2066.0 L744.8,2067.2 L746.1,2068.4 L747.4,2069.6 L748.7,2070.9 L750.0,2072.2 L751.3,2073.5 L752.7,2074.8 L754.0,2076.1 L755.4,2077.4 L756.7,2078.7 L758.1,2080.0 L759.5,2081.3 L760.9,2082.5 L762.4,2083.8 L763.9,2085.1 L765.4,2086.4 L766.9,2087.6 L768.4,2088.9 L769.9,2090.2 L771.4,2091.5 L772.9,2092.9 L774.3,2094.2 L775.8,2095.6 L777.2,2097.0 L778.7,2098.4 L780.0,2099.9 L781.4,2101.4 L782.7,2102.9 L784.0,2104.5 L785.3,2106.1 L786.6,2107.7 L787.9,2109.3 L789.1,2111.0 L790.4,2112.7 L791.6,2114.4 L792.8,2116.1 L794.0,2117.8 L795.2,2119.6 L796.3,2121.3 L797.5,2123.1 L798.6,2124.9 L799.7,2126.7 L800.8,2128.5 L801.9,2130.3 L803.0,2132.2 L804.1,2134.0 L805.1,2135.9 L806.2,2137.8 L807.2,2139.7 L808.3,2141.6 L809.3,2143.5 L810.3,2145.5 L811.2,2147.4 L812.2,2149.4 L813.1,2151.4 L813.9,2153.4 L814.8,2155.4 L815.6,2157.4 L816.3,2159.5 L817.0,2161.6 L817.7,2163.7 L818.3,2165.9 L818.9,2168.1 L819.4,2170.3 L820.0,2172.6 L820.5,2174.8 L820.9,2177.1 L821.4,2179.3 L821.8,2181.6 L822.2,2183.8 L822.6,2186.0 L823.0,2188.2 L823.3,2190.3 L823.7,2192.4 L824.0,2194.4 L824.3,2196.4 L824.6,2198.3 L824.9,2200.2 L825.1,2202.1 L825.3,2203.9 L825.5,2205.7 L825.7,2207.5 L825.9,2209.3 L826.0,2211.0 L826.2,2212.8 L826.3,2214.5 L826.4,2216.3 L826.5,2218.0 L826.7,2219.8 L826.8,2221.6 L826.9,2223.4 L827.0,2225.2 L827.1,2226.9 L827.2,2228.7 L827.4,2230.3 L827.5,2232.0 L827.5,2233.7 L827.6,2235.4 L827.7,2237.1 L827.8,2238.8 L827.8,2240.6 L827.9,2242.4 L827.9,2244.3 L827.9,2246.2 L827.9,2248.2 L827.9,2250.3 L827.9,2252.5 L827.9,2254.8 L827.8,2257.2 L827.7,2259.6 L827.6,2262.2 L827.5,2264.8 L827.4,2267.4 L827.3,2270.1 L827.1,2272.8 L827.0,2275.6 L826.9,2278.4 L826.7,2281.2 L826.5,2284.0 L826.4,2286.8 L826.2,2289.6 L826.1,2292.4 L825.9,2295.2 L825.7,2298.0 L825.6,2300.7 L825.5,2303.5 L825.3,2306.3 L825.2,2309.1 L825.1,2312.0 L824.9,2314.8 L824.8,2317.6 L824.6,2320.5 L824.4,2323.3 L824.2,2326.2 L824.0,2329.0 L823.8,2331.9 L823.5,2334.7 L823.2,2337.6 L822.9,2340.4 L822.6,2343.3 L822.2,2346.2 L821.8,2349.2 L821.4,2352.2 L820.9,2355.3 L820.4,2358.3 L820.0,2361.4 L819.5,2364.4 L819.0,2367.4 L818.5,2370.3 L817.9,2373.1 L817.4,2375.9 L816.9,2378.5 L816.3,2381.0 L815.8,2383.4 L815.3,2385.6 L814.8,2387.6 L814.2,2389.5 L813.7,2391.2 L813.1,2392.8 L812.6,2394.3 L812.0,2395.7 L811.5,2397.1 L810.9,2398.3 L810.3,2399.5 L809.7,2400.7 L809.2,2401.9 L808.6,2403.1 L808.0,2404.3 L807.4,2405.5 L806.9,2406.8 L806.3,2408.2 L805.7,2409.6 L805.2,2411.0 L804.6,2412.4 L804.1,2413.8 L803.5,2415.3 L803.0,2416.7 L802.4,2418.1 L801.9,2419.5 L801.3,2420.9 L800.8,2422.3 L800.2,2423.7 L799.7,2425.2 L799.1,2426.6 L798.5,2428.0 L797.9,2429.4 L797.3,2430.8 L796.7,2432.2 L796.1,2433.6 L795.4,2435.0 L794.8,2436.5 L794.2,2437.9 L793.5,2439.3 L792.8,2440.7 L792.2,2442.1 L791.5,2443.5 L790.8,2444.9 L790.2,2446.3 L789.5,2447.8 L788.8,2449.2 L788.1,2450.6 L787.4,2452.0 L786.7,2453.4 L786.0,2454.8 L785.2,2456.2 L784.5,2457.6 L783.7,2459.0 L782.9,2460.4 L782.0,2461.7 L781.2,2463.1 L780.4,2464.5 L779.6,2465.9 L778.8,2467.3 L778.1,2468.7 L777.3,2470.1 L776.6,2471.6 L775.9,2473.0 L775.3,2474.5 L774.7,2476.0 L774.2,2477.5 L773.7,2479.2 L773.4,2480.8 L773.0,2482.5 L772.8,2484.3 L772.5,2486.0 L772.3,2487.7 L772.0,2489.5 L771.8,2491.2 L771.5,2492.9 L771.2,2494.6 L770.8,2496.2 L770.4,2497.7 L769.8,2499.2 L769.2,2500.5 L768.5,2501.8 L767.7,2503.0 L766.8,2504.1 L765.8,2505.1 L764.7,2506.0 L763.6,2506.9 L762.5,2507.7 L761.3,2508.5 L760.0,2509.3 L758.7,2510.0 L757.4,2510.7 L756.1,2511.4 L754.8,2512.1 L753.5,2512.7 L752.2,2513.4 L750.9,2514.2 L749.6,2514.9 L748.3,2515.7 L747.1,2516.4 L745.8,2517.1 L744.5,2517.9 L743.2,2518.6 L741.9,2519.3 L740.6,2520.0 L739.2,2520.7 L737.9,2521.4 L736.5,2522.0 L735.2,2522.7 L733.8,2523.4 L732.3,2524.0 L730.9,2524.7 L729.5,2525.4 L728.0,2526.0 L726.5,2526.6 L725.0,2527.3 L723.4,2527.9 L721.8,2528.6 L720.1,2529.2 L718.5,2529.9 L716.8,2530.5 L715.1,2531.1 L713.5,2531.7 L711.8,2532.3 L710.1,2532.9 L708.5,2533.5 L706.9,2534.0 L705.3,2534.5 L703.7,2535.0 L702.2,2535.5 L700.7,2535.9 L699.3,2536.4 L697.9,2536.8 L696.5,2537.1 L695.1,2537.5 L693.7,2537.8 L692.4,2538.2 L691.1,2538.5 L689.7,2538.8 L688.4,2539.0 L687.0,2539.3 L685.7,2539.6 L684.3,2539.8 L682.9,2540.0 L681.5,2540.3 L680.0,2540.5 L678.5,2540.7 L677.0,2540.9 L675.5,2541.1 L673.9,2541.4 L672.3,2541.5 L670.8,2541.7 L669.2,2541.9 L667.6,2542.1 L666.0,2542.2 L664.4,2542.3 L662.7,2542.4 L661.1,2542.5 L659.5,2542.6 L658.0,2542.6 L656.4,2542.6 L654.8,2542.6 L653.2,2542.6 L651.7,2542.5 L650.1,2542.4 L648.5,2542.3 L646.9,2542.1 L645.4,2541.9 L643.8,2541.7 L642.2,2541.5 L640.7,2541.3 L639.1,2541.1 L637.6,2540.8 L636.0,2540.6 L634.5,2540.3 L633.0,2540.0 L631.5,2539.8 L630.0,2539.5 L628.6,2539.2 L627.2,2539.0 L625.8,2538.7 L624.5,2538.5 L623.2,2538.2 L621.9,2537.9 L620.7,2537.6 L619.4,2537.3 L618.1,2537.0 L616.7,2536.7 L615.3,2536.3 L613.9,2535.9 L612.4,2535.4 L610.8,2534.9 L609.2,2534.4 L607.4,2533.8 L605.5,2533.1 L603.5,2532.4 L601.3,2531.6 L599.1,2530.8 L596.8,2529.9 L594.4,2528.9 L592.0,2528.0 L589.5,2527.0 L587.1,2526.0 L584.7,2525.0 L582.3,2524.0 L580.0,2523.1 L577.8,2522.1 L575.7,2521.3 L573.7,2520.4 L571.8,2519.6 L570.1,2518.8 L568.5,2518.1 L567.0,2517.4 L565.7,2516.7 L564.4,2516.1 L563.2,2515.4 L562.0,2514.8 L560.8,2514.2 L559.7,2513.5 L558.5,2512.9 L557.3,2512.3 L556.0,2511.7 L554.7,2511.1 L553.2,2510.5 L551.7,2509.8 L550.0,2509.2 L548.2,2508.5 L546.3,2507.9 L544.3,2507.2 L542.3,2506.5 L540.2,2505.8 L538.0,2505.1 L535.8,2504.4 L533.6,2503.7 L531.3,2503.0 L529.1,2502.3 L526.8,2501.7 L524.5,2501.0 L522.2,2500.4 L520.0,2499.8 L517.8,2499.3 L515.6,2498.8 L513.4,2498.3 L511.3,2497.9 L509.1,2497.5 L507.0,2497.1 L504.8,2496.8 L502.7,2496.4 L500.5,2496.1 L498.4,2495.8 L496.2,2495.5 L494.0,2495.3 L491.9,2495.0 L489.7,2494.7 L487.6,2494.5 L485.4,2494.2 L483.3,2494.0 L481.1,2493.7 L478.9,2493.4 L476.8,2493.2 L474.6,2492.9 L472.5,2492.7 L470.3,2492.5 L468.2,2492.3 L466.0,2492.1 L463.9,2491.8 L461.8,2491.6 L459.6,2491.4 L457.5,2491.2 L455.3,2491.0 L453.2,2490.8 L451.0,2490.6 L448.9,2490.4 L446.7,2490.2 L444.5,2490.0 L442.4,2489.8 L440.2,2489.6 L438.1,2489.4 L435.9,2489.2 L433.8,2489.0 L431.6,2488.8 L429.4,2488.6 L427.3,2488.4 L425.1,2488.2 L423.0,2488.0 L420.8,2487.8 L418.7,2487.5 L416.5,2487.3 L414.4,2487.1 L412.2,2486.8 L410.0,2486.5 L407.9,2486.2 L405.7,2486.0 L403.6,2485.7 L401.4,2485.4 L399.3,2485.1 L397.1,2484.7 L395.0,2484.4 L392.9,2484.1 L390.7,2483.8 L388.6,2483.4 L386.4,2483.1 L384.3,2482.7 L382.1,2482.3 L380.0,2482.0 L377.8,2481.6 L375.6,2481.2 L373.5,2480.9 L371.3,2480.5 L369.2,2480.2 L367.0,2479.9 L364.9,2479.5 L362.7,2479.2 L360.6,2478.8 L358.4,2478.4 L356.2,2478.0 L354.1,2477.5 L351.9,2477.1 L349.8,2476.6 L347.6,2476.0 L345.5,2475.4 L343.3,2474.7 L341.1,2474.0 L338.9,2473.2 L336.7,2472.4 L334.5,2471.5 L332.3,2470.7 L330.1,2469.7 L327.9,2468.8 L325.7,2467.8 L323.5,2466.8 L321.3,2465.8 L319.1,2464.7 L317.0,2463.6 L314.9,2462.5 L312.9,2461.4 L310.9,2460.3 L308.9,2459.2 L307.0,2458.1 L305.1,2456.9 L303.2,2455.7 L301.4,2454.5 L299.5,2453.3 L297.7,2452.0 L296.0,2450.7 L294.2,2449.4 L292.5,2448.1 L290.8,2446.8 L289.2,2445.5 L287.5,2444.1 L285.9,2442.8 L284.4,2441.4 L282.8,2440.0 L281.3,2438.6 L279.8,2437.2 L278.3,2435.8 L276.9,2434.3 L275.5,2432.9 L274.1,2431.4 L272.8,2429.9 L271.4,2428.4 L270.1,2426.9 L268.9,2425.4 L267.6,2423.9 L266.4,2422.3 L265.2,2420.8 L264.0,2419.2 L262.9,2417.6 L261.8,2416.0 L260.7,2414.4 L259.6,2412.7 L258.6,2411.0 L257.6,2409.3 L256.7,2407.4 L255.7,2405.6 L254.8,2403.7 L253.9,2401.9 L253.1,2400.0 L252.2,2398.2 L251.4,2396.4 L250.6,2394.6 L249.9,2392.9 L249.1,2391.3 L248.3,2389.7 L247.6,2388.3 L246.9,2386.9 L246.2,2385.7 L245.5,2384.6 L244.9,2383.6 L244.3,2382.7 L243.7,2381.9 L243.2,2381.1 L242.6,2380.4 L242.1,2379.7 L241.6,2379.0 L241.1,2378.3 L240.6,2377.5 L240.1,2376.7 L239.5,2375.9 L239.0,2374.9 L238.5,2373.8 L237.9,2372.6 L237.3,2371.3 L236.7,2369.9 L236.1,2368.4 L235.5,2366.8 L234.9,2365.2 L234.3,2363.5 L233.7,2361.8 L233.1,2360.1 L232.5,2358.3 L231.9,2356.5 L231.3,2354.7 L230.7,2352.9 L230.2,2351.2 L229.6,2349.4 L229.1,2347.7 L228.6,2346.0 L228.1,2344.3 L227.6,2342.7 L227.2,2341.0 L226.7,2339.3 L226.3,2337.7 L225.8,2336.0 L225.4,2334.4 L225.0,2332.7 L224.6,2331.0 L224.2,2329.4 L223.8,2327.7 L223.4,2326.1 L223.0,2324.4 L222.7,2322.7 L222.3,2321.1 L221.9,2319.4 L221.5,2317.7 L221.2,2316.1 L220.8,2314.4 L220.4,2312.8 L220.1,2311.1 L219.7,2309.4 L219.3,2307.8 L219.0,2306.1 L218.7,2304.4 L218.3,2302.8 L218.0,2301.1 L217.7,2299.5 L217.4,2297.8 L217.1,2296.1 L216.9,2294.5 L216.6,2292.8 L216.4,2291.1 L216.1,2289.5 L215.9,2287.8 L215.7,2286.2 L215.5,2284.5 L215.3,2282.8 L215.1,2281.2 L215.0,2279.5 L214.8,2277.8 L214.6,2276.2 L214.5,2274.5 L214.4,2272.8 L214.2,2271.2 L214.1,2269.5 L214.0,2267.9 L213.9,2266.2 L213.8,2264.5 L213.7,2262.9 L213.6,2261.2 L213.6,2259.5 L213.5,2257.9 L213.5,2256.2 L213.5,2254.6 L213.4,2252.9 L213.4,2251.2 L213.4,2249.6 L213.4,2247.9 L213.4,2246.2 L213.3,2244.6 L213.3,2242.9 L213.3,2241.3 L213.3,2239.6 L213.3,2237.9 L213.3,2236.3 L213.2,2234.6 L213.2,2232.9 L213.2,2231.3 L213.2,2229.6 L213.2,2228.0 L213.1,2226.3 L213.1,2224.6 L213.1,2223.0 L213.1,2221.3 L213.1,2219.7 L213.2,2218.0 L213.2,2216.3 L213.2,2214.7 L213.3,2213.0 L213.4,2211.3 L213.4,2209.7 L213.5,2208.0 L213.6,2206.3 L213.7,2204.7 L213.8,2203.0 L213.9,2201.4 L214.0,2199.7 L214.1,2198.0 L214.2,2196.4 L214.4,2194.7 L214.5,2193.1 L214.7,2191.4 L214.9,2189.7 L215.1,2188.1 L215.3,2186.4 L215.5,2184.7 L215.8,2183.1 L216.0,2181.4 L216.3,2179.8 L216.6,2178.1 L216.9,2176.4 L217.2,2174.8 L217.5,2173.1 L217.8,2171.4 L218.2,2169.8 L218.5,2168.1 L218.9,2166.5 L219.3,2164.8 L219.7,2163.1 L220.2,2161.5 L220.6,2159.8 L221.1,2158.1 L221.6,2156.5 L222.1,2154.8 L222.6,2153.2 L223.2,2151.5 L223.7,2149.8 L224.3,2148.2 L224.9,2146.5 L225.5,2144.8 L226.1,2143.2 L226.8,2141.5 L227.4,2139.8 L228.0,2138.2 L228.6,2136.5 L229.3,2134.9 L229.9,2133.2 L230.5,2131.5 L231.2,2129.9 L231.8,2128.2 L232.5,2126.5 L233.1,2124.9 L233.8,2123.2 L234.4,2121.6 L235.1,2119.9 L235.8,2118.2 L236.5,2116.6 L237.1,2114.9 L237.8,2113.2 L238.5,2111.6 L239.2,2109.9 L239.8,2108.3 L240.5,2106.6 L241.2,2104.9 L241.8,2103.2 L242.5,2101.5 L243.2,2099.7 L243.9,2098.0 L244.6,2096.2 L245.3,2094.4 L246.0,2092.7 L246.6,2091.0 L247.3,2089.3 L248.0,2087.6 L248.7,2086.0 L249.3,2084.4 L250.0,2082.9 L250.6,2081.4 Z" fill="#f3ec8c"/>
<path d="M299.5,2131.2 L300.0,2130.0 L300.5,2128.9 L301.0,2127.8 L301.5,2126.8 L301.9,2125.8 L302.4,2124.9 L302.8,2124.0 L303.3,2123.1 L303.7,2122.3 L304.2,2121.4 L304.7,2120.6 L305.2,2119.7 L305.7,2118.8 L306.2,2117.9 L306.7,2117.0 L307.3,2116.0 L307.9,2115.0 L308.5,2114.0 L309.1,2113.0 L309.7,2112.0 L310.3,2110.9 L311.0,2109.9 L311.6,2108.9 L312.3,2107.8 L312.9,2106.8 L313.6,2105.7 L314.3,2104.7 L315.1,2103.6 L315.8,2102.6 L316.6,2101.5 L317.4,2100.5 L318.2,2099.5 L319.1,2098.4 L320.0,2097.4 L320.9,2096.4 L321.9,2095.3 L322.9,2094.3 L323.9,2093.2 L324.9,2092.2 L326.0,2091.1 L327.0,2090.1 L328.1,2089.1 L329.1,2088.1 L330.2,2087.1 L331.3,2086.1 L332.3,2085.2 L333.3,2084.3 L334.4,2083.4 L335.4,2082.5 L336.4,2081.6 L337.4,2080.8 L338.4,2079.9 L339.4,2079.1 L340.5,2078.3 L341.5,2077.5 L342.5,2076.8 L343.5,2076.0 L344.5,2075.3 L345.5,2074.5 L346.5,2073.8 L347.5,2073.2 L348.5,2072.5 L349.5,2071.9 L350.5,2071.3 L351.4,2070.7 L352.4,2070.1 L353.3,2069.6 L354.2,2069.1 L355.1,2068.6 L356.0,2068.2 L356.9,2067.8 L357.8,2067.3 L358.7,2066.9 L359.6,2066.5 L360.5,2066.1 L361.4,2065.7 L362.3,2065.3 L363.2,2064.9 L364.2,2064.4 L365.1,2064.0 L366.1,2063.5 L367.1,2063.0 L368.1,2062.5 L369.1,2061.9 L370.1,2061.4 L371.1,2060.9 L372.1,2060.3 L373.1,2059.8 L374.1,2059.3 L375.1,2058.8 L376.2,2058.2 L377.3,2057.8 L378.4,2057.3 L379.5,2056.8 L380.6,2056.4 L381.8,2056.0 L383.0,2055.7 L384.2,2055.3 L385.5,2055.0 L386.8,2054.7 L388.1,2054.4 L389.4,2054.1 L390.7,2053.9 L392.1,2053.6 L393.4,2053.4 L394.8,2053.2 L396.2,2053.0 L397.5,2052.7 L398.9,2052.5 L400.2,2052.3 L401.6,2052.1 L402.9,2051.9 L404.2,2051.7 L405.5,2051.6 L406.8,2051.4 L408.1,2051.2 L409.5,2051.1 L410.8,2050.9 L412.1,2050.8 L413.4,2050.6 L414.7,2050.5 L416.0,2050.4 L417.3,2050.3 L418.6,2050.1 L419.9,2050.0 L421.3,2049.9 L422.6,2049.8 L423.9,2049.7 L425.2,2049.6 L426.5,2049.5 L427.8,2049.5 L429.1,2049.4 L430.3,2049.4 L431.6,2049.3 L432.9,2049.3 L434.2,2049.2 L435.5,2049.2 L436.8,2049.1 L438.1,2049.1 L439.4,2049.0 L440.8,2049.0 L442.1,2048.9 L443.6,2048.8 L445.0,2048.7 L446.5,2048.6 L448.0,2048.5 L449.6,2048.5 L451.2,2048.4 L452.8,2048.3 L454.5,2048.2 L456.2,2048.1 L457.8,2047.9 L459.5,2047.8 L461.2,2047.7 L462.8,2047.5 L464.4,2047.4 L465.9,2047.2 L467.4,2047.0 L468.8,2046.8 L470.2,2046.6 L471.4,2046.4 L472.7,2046.1 L473.8,2045.8 L474.9,2045.4 L475.9,2045.1 L476.9,2044.7 L477.9,2044.4 L478.9,2044.0 L479.8,2043.6 L480.8,2043.2 L481.8,2042.9 L482.7,2042.5 L483.8,2042.2 L484.8,2041.8 L485.9,2041.5 L487.1,2041.3 L488.3,2041.0 L489.5,2040.8 L490.8,2040.5 L492.1,2040.3 L493.4,2040.1 L494.7,2039.9 L496.1,2039.7 L497.4,2039.6 L498.8,2039.4 L500.1,2039.2 L501.5,2039.0 L502.9,2038.9 L504.2,2038.7 L505.6,2038.5 L506.9,2038.3 L508.3,2038.1 L509.6,2037.9 L511.0,2037.7 L512.3,2037.5 L513.7,2037.3 L515.1,2037.1 L516.5,2036.9 L517.9,2036.7 L519.3,2036.4 L520.7,2036.2 L522.0,2036.0 L523.3,2035.8 L524.6,2035.7 L525.8,2035.5 L527.0,2035.3 L528.2,2035.2 L529.3,2035.0 L530.3,2034.9 L531.2,2034.8 L532.0,2034.7 L532.8,2034.6 L533.5,2034.5 L534.1,2034.4 L534.8,2034.3 L535.4,2034.3 L536.1,2034.2 L536.7,2034.1 L537.4,2034.1 L538.2,2034.1 L539.0,2034.1 L539.9,2034.1 L540.8,2034.1 L541.9,2034.1 L543.1,2034.2 L544.3,2034.3 L545.6,2034.4 L547.0,2034.5 L548.5,2034.6 L549.9,2034.8 L551.4,2034.9 L553.0,2035.1 L554.6,2035.2 L556.1,2035.4 L557.7,2035.6 L559.3,2035.7 L560.9,2035.9 L562.4,2036.1 L563.9,2036.2 L565.4,2036.4 L566.9,2036.5 L568.4,2036.6 L569.9,2036.7 L571.4,2036.8 L573.0,2036.9 L574.5,2037.0 L576.1,2037.1 L577.6,2037.3 L579.1,2037.4 L580.6,2037.5 L582.0,2037.6 L583.4,2037.7 L584.8,2037.9 L586.1,2038.0 L587.4,2038.2 L588.6,2038.4 L589.8,2038.6 L590.8,2038.8 L591.8,2039.0 L592.7,2039.3 L593.6,2039.5 L594.5,2039.7 L595.3,2040.0 L596.1,2040.2 L596.9,2040.5 L597.7,2040.8 L598.5,2041.1 L599.3,2041.4 L600.2,2041.7 L601.1,2042.0 L602.0,2042.4 L603.0,2042.8 L604.1,2043.2 L605.2,2043.6 L606.3,2044.0 L607.5,2044.5 L608.7,2045.0 L609.9,2045.5 L611.1,2046.0 L612.3,2046.5 L613.6,2047.0 L614.8,2047.6 L616.0,2048.1 L617.3,2048.7 L618.5,2049.2 L619.8,2049.8 L621.0,2050.3 L622.2,2050.9 L623.4,2051.4 L624.6,2052.0 L625.8,2052.6 L627.0,2053.1 L628.2,2053.7 L629.4,2054.3 L630.5,2054.9 L631.7,2055.5 L632.9,2056.1 L634.1,2056.7 L635.3,2057.4 L636.5,2058.0 L637.7,2058.6 L638.9,2059.2 L640.1,2059.9 L641.3,2060.5 L642.5,2061.1 L643.8,2061.8 L645.0,2062.4 L646.2,2063.1 L647.5,2063.8 L648.8,2064.4 L650.0,2065.1 L651.3,2065.8 L652.5,2066.5 L653.7,2067.1 L654.9,2067.8 L656.1,2068.5 L657.3,2069.1 L658.4,2069.7 L659.5,2070.4 L660.5,2071.0 L661.5,2071.6 L662.5,2072.2 L663.4,2072.7 L664.2,2073.2 L665.0,2073.8 L665.8,2074.3 L666.6,2074.8 L667.4,2075.3 L668.2,2075.8 L669.0,2076.4 L669.7,2076.9 L670.6,2077.4 L671.4,2078.0 L672.3,2078.6 L673.3,2079.2 L674.2,2079.8 L675.3,2080.4 L676.4,2081.1 L677.5,2081.8 L678.6,2082.5 L679.8,2083.2 L681.0,2083.9 L682.2,2084.6 L683.5,2085.3 L684.7,2086.1 L686.0,2086.8 L687.2,2087.6 L688.5,2088.3 L689.7,2089.1 L691.0,2089.8 L692.2,2090.5 L693.4,2091.3 L694.6,2092.0 L695.8,2092.8 L697.0,2093.5 L698.2,2094.3 L699.4,2095.0 L700.6,2095.8 L701.7,2096.6 L702.9,2097.3 L704.1,2098.1 L705.3,2098.9 L706.5,2099.6 L707.7,2100.4 L708.9,2101.1 L710.1,2101.9 L711.3,2102.6 L712.5,2103.3 L713.7,2104.0 L714.9,2104.6 L716.1,2105.3 L717.3,2105.9 L718.5,2106.5 L719.7,2107.0 L720.9,2107.6 L722.1,2108.2 L723.4,2108.8 L724.6,2109.4 L725.8,2110.1 L727.0,2110.7 L728.2,2111.4 L729.4,2112.2 L730.5,2113.0 L731.7,2113.8 L732.9,2114.7 L734.1,2115.6 L735.3,2116.6 L736.4,2117.6 L737.6,2118.7 L738.8,2119.7 L739.9,2120.8 L741.1,2121.9 L742.2,2123.1 L743.4,2124.2 L744.6,2125.4 L745.8,2126.5 L747.0,2127.7 L748.2,2128.9 L749.4,2130.0 L750.6,2131.2 L751.9,2132.3 L753.1,2133.4 L754.4,2134.5 L755.7,2135.7 L757.1,2136.8 L758.4,2137.9 L759.7,2139.1 L761.1,2140.3 L762.4,2141.4 L763.7,2142.6 L765.1,2143.8 L766.4,2145.0 L767.6,2146.3 L768.9,2147.6 L770.1,2148.9 L771.3,2150.2 L772.5,2151.6 L773.7,2152.9 L774.8,2154.4 L776.0,2155.8 L777.1,2157.2 L778.2,2158.7 L779.3,2160.2 L780.4,2161.7 L781.5,2163.2 L782.5,2164.8 L783.6,2166.4 L784.6,2167.9 L785.6,2169.5 L786.6,2171.1 L787.6,2172.7 L788.6,2174.3 L789.6,2175.9 L790.5,2177.6 L791.5,2179.2 L792.5,2180.9 L793.4,2182.6 L794.3,2184.3 L795.3,2186.0 L796.2,2187.7 L797.0,2189.4 L797.9,2191.2 L798.7,2192.9 L799.5,2194.7 L800.3,2196.5 L801.0,2198.3 L801.7,2200.1 L802.4,2201.9 L803.0,2203.8 L803.6,2205.7 L804.2,2207.6 L804.7,2209.5 L805.2,2211.5 L805.7,2213.5 L806.1,2215.5 L806.5,2217.5 L806.9,2219.6 L807.3,2221.6 L807.7,2223.5 L808.0,2225.5 L808.3,2227.4 L808.7,2229.3 L809.0,2231.2 L809.3,2233.0 L809.5,2234.7 L809.8,2236.4 L810.0,2238.1 L810.2,2239.8 L810.4,2241.4 L810.6,2243.0 L810.8,2244.6 L810.9,2246.2 L811.1,2247.8 L811.2,2249.3 L811.3,2250.9 L811.4,2252.4 L811.5,2254.0 L811.6,2255.6 L811.7,2257.2 L811.8,2258.8 L811.9,2260.4 L812.1,2261.9 L812.2,2263.5 L812.2,2265.0 L812.3,2266.5 L812.4,2267.9 L812.5,2269.4 L812.6,2271.0 L812.6,2272.5 L812.7,2274.1 L812.7,2275.7 L812.7,2277.3 L812.8,2279.1 L812.8,2280.9 L812.8,2282.7 L812.7,2284.7 L812.7,2286.7 L812.6,2288.8 L812.6,2291.0 L812.5,2293.3 L812.4,2295.6 L812.3,2297.9 L812.2,2300.3 L812.1,2302.8 L811.9,2305.2 L811.8,2307.7 L811.7,2310.2 L811.5,2312.7 L811.4,2315.2 L811.2,2317.7 L811.1,2320.2 L811.0,2322.7 L810.8,2325.1 L810.7,2327.6 L810.6,2330.1 L810.4,2332.6 L810.3,2335.1 L810.2,2337.6 L810.1,2340.1 L809.9,2342.7 L809.8,2345.2 L809.6,2347.7 L809.4,2350.3 L809.3,2352.8 L809.0,2355.3 L808.8,2357.9 L808.6,2360.4 L808.3,2362.9 L808.0,2365.5 L807.6,2368.1 L807.3,2370.7 L806.9,2373.4 L806.5,2376.2 L806.1,2378.9 L805.7,2381.6 L805.2,2384.3 L804.8,2386.9 L804.3,2389.5 L803.9,2392.0 L803.4,2394.5 L802.9,2396.8 L802.5,2399.1 L802.0,2401.2 L801.5,2403.1 L801.1,2404.9 L800.6,2406.6 L800.1,2408.2 L799.6,2409.6 L799.1,2410.9 L798.6,2412.1 L798.1,2413.3 L797.6,2414.4 L797.1,2415.5 L796.6,2416.6 L796.1,2417.6 L795.5,2418.7 L795.0,2419.8 L794.5,2420.9 L794.0,2422.0 L793.5,2423.2 L793.0,2424.5 L792.5,2425.8 L792.0,2427.0 L791.5,2428.3 L791.1,2429.5 L790.6,2430.8 L790.1,2432.0 L789.6,2433.3 L789.1,2434.6 L788.6,2435.8 L788.1,2437.1 L787.6,2438.3 L787.1,2439.6 L786.6,2440.8 L786.0,2442.1 L785.5,2443.4 L784.9,2444.6 L784.4,2445.9 L783.8,2447.1 L783.3,2448.4 L782.7,2449.6 L782.1,2450.9 L781.5,2452.2 L780.9,2453.4 L780.4,2454.7 L779.8,2455.9 L779.2,2457.2 L778.5,2458.4 L777.9,2459.7 L777.3,2461.0 L776.7,2462.2 L776.1,2463.5 L775.4,2464.7 L774.8,2466.0 L774.1,2467.2 L773.4,2468.4 L772.6,2469.7 L771.9,2470.9 L771.2,2472.1 L770.5,2473.4 L769.8,2474.6 L769.1,2475.8 L768.4,2477.1 L767.7,2478.4 L767.1,2479.6 L766.5,2480.9 L765.9,2482.3 L765.4,2483.6 L764.9,2485.0 L764.5,2486.4 L764.2,2487.9 L763.9,2489.4 L763.7,2490.9 L763.4,2492.5 L763.2,2494.0 L763.0,2495.6 L762.8,2497.1 L762.5,2498.6 L762.3,2500.1 L761.9,2501.5 L761.5,2502.9 L761.1,2504.2 L760.5,2505.4 L759.9,2506.6 L759.1,2507.6 L758.3,2508.6 L757.4,2509.5 L756.5,2510.3 L755.5,2511.1 L754.5,2511.8 L753.4,2512.5 L752.3,2513.2 L751.2,2513.8 L750.0,2514.5 L748.9,2515.1 L747.7,2515.7 L746.5,2516.3 L745.3,2516.9 L744.2,2517.6 L743.0,2518.2 L741.9,2518.9 L740.8,2519.5 L739.6,2520.2 L738.5,2520.8 L737.3,2521.5 L736.2,2522.1 L735.0,2522.7 L733.8,2523.4 L732.6,2524.0 L731.4,2524.6 L730.2,2525.2 L728.9,2525.8 L727.7,2526.4 L726.4,2526.9 L725.1,2527.5 L723.8,2528.1 L722.5,2528.7 L721.1,2529.2 L719.7,2529.8 L718.3,2530.4 L716.8,2531.0 L715.3,2531.5 L713.9,2532.1 L712.4,2532.7 L710.9,2533.2 L709.4,2533.7 L707.9,2534.2 L706.5,2534.7 L705.0,2535.2 L703.6,2535.7 L702.2,2536.1 L700.9,2536.5 L699.5,2536.9 L698.3,2537.3 L697.0,2537.7 L695.8,2538.0 L694.5,2538.3 L693.3,2538.6 L692.1,2538.9 L690.9,2539.2 L689.8,2539.4 L688.6,2539.7 L687.4,2539.9 L686.2,2540.2 L684.9,2540.4 L683.7,2540.6 L682.4,2540.8 L681.1,2541.0 L679.8,2541.2 L678.4,2541.4 L677.1,2541.6 L675.7,2541.8 L674.3,2541.9 L672.9,2542.1 L671.5,2542.2 L670.0,2542.4 L668.6,2542.5 L667.2,2542.6 L665.7,2542.7 L664.3,2542.8 L662.9,2542.8 L661.5,2542.9 L660.1,2542.9 L658.7,2542.9 L657.3,2542.8 L655.9,2542.8 L654.5,2542.7 L653.1,2542.6 L651.7,2542.4 L650.3,2542.3 L648.9,2542.1 L647.5,2541.9 L646.1,2541.7 L644.7,2541.5 L643.3,2541.3 L642.0,2541.1 L640.6,2540.8 L639.3,2540.6 L637.9,2540.3 L636.6,2540.1 L635.3,2539.9 L634.1,2539.6 L632.9,2539.4 L631.7,2539.2 L630.6,2538.9 L629.4,2538.7 L628.3,2538.5 L627.1,2538.2 L626.0,2537.9 L624.8,2537.6 L623.6,2537.3 L622.3,2536.9 L620.9,2536.5 L619.5,2536.0 L618.1,2535.6 L616.5,2535.0 L614.8,2534.4 L613.0,2533.8 L611.1,2533.1 L609.1,2532.3 L607.0,2531.5 L604.9,2530.7 L602.8,2529.8 L600.6,2529.0 L598.4,2528.1 L596.3,2527.2 L594.2,2526.3 L592.1,2525.5 L590.1,2524.7 L588.3,2523.9 L586.5,2523.1 L584.8,2522.4 L583.3,2521.7 L581.9,2521.1 L580.6,2520.4 L579.4,2519.8 L578.2,2519.3 L577.1,2518.7 L576.1,2518.1 L575.0,2517.6 L574.0,2517.0 L573.0,2516.5 L571.9,2515.9 L570.8,2515.4 L569.6,2514.8 L568.3,2514.3 L566.9,2513.7 L565.4,2513.1 L563.8,2512.6 L562.1,2511.9 L560.4,2511.3 L558.5,2510.7 L556.7,2510.1 L554.7,2509.5 L552.8,2508.8 L550.8,2508.2 L548.8,2507.6 L546.8,2507.0 L544.7,2506.4 L542.7,2505.9 L540.7,2505.3 L538.7,2504.8 L536.7,2504.3 L534.8,2503.9 L532.9,2503.5 L530.9,2503.1 L529.0,2502.7 L527.1,2502.4 L525.2,2502.1 L523.3,2501.8 L521.4,2501.5 L519.4,2501.2 L517.5,2501.0 L515.6,2500.7 L513.7,2500.5 L511.8,2500.3 L509.8,2500.0 L507.9,2499.8 L506.0,2499.6 L504.1,2499.3 L502.2,2499.1 L500.2,2498.9 L498.3,2498.7 L496.4,2498.5 L494.5,2498.3 L492.6,2498.1 L490.7,2497.9 L488.8,2497.7 L486.9,2497.5 L484.9,2497.3 L483.0,2497.1 L481.1,2497.0 L479.2,2496.8 L477.3,2496.6 L475.4,2496.4 L473.5,2496.2 L471.5,2496.0 L469.6,2495.9 L467.7,2495.7 L465.8,2495.5 L463.9,2495.3 L462.0,2495.2 L460.0,2495.0 L458.1,2494.8 L456.2,2494.6 L454.3,2494.5 L452.3,2494.3 L450.4,2494.1 L448.5,2493.9 L446.6,2493.7 L444.7,2493.4 L442.8,2493.2 L440.8,2493.0 L438.9,2492.7 L437.0,2492.5 L435.1,2492.2 L433.2,2491.9 L431.3,2491.7 L429.4,2491.4 L427.5,2491.1 L425.5,2490.8 L423.6,2490.5 L421.7,2490.2 L419.8,2489.9 L417.9,2489.6 L416.0,2489.2 L414.1,2488.9 L412.1,2488.6 L410.2,2488.2 L408.3,2487.9 L406.4,2487.6 L404.5,2487.3 L402.6,2487.0 L400.6,2486.7 L398.7,2486.4 L396.8,2486.1 L394.9,2485.7 L392.9,2485.4 L391.0,2485.0 L389.1,2484.5 L387.2,2484.1 L385.3,2483.6 L383.4,2483.0 L381.4,2482.4 L379.5,2481.8 L377.6,2481.1 L375.6,2480.4 L373.6,2479.6 L371.7,2478.8 L369.7,2478.0 L367.7,2477.2 L365.7,2476.3 L363.8,2475.4 L361.9,2474.5 L359.9,2473.5 L358.0,2472.6 L356.2,2471.6 L354.4,2470.6 L352.6,2469.6 L350.8,2468.6 L349.1,2467.6 L347.4,2466.6 L345.8,2465.5 L344.1,2464.4 L342.5,2463.4 L340.9,2462.2 L339.3,2461.1 L337.8,2460.0 L336.2,2458.8 L334.7,2457.6 L333.3,2456.4 L331.8,2455.2 L330.4,2454.0 L329.0,2452.8 L327.6,2451.5 L326.3,2450.3 L324.9,2449.1 L323.6,2447.8 L322.3,2446.5 L321.1,2445.2 L319.9,2443.9 L318.7,2442.6 L317.5,2441.3 L316.3,2439.9 L315.2,2438.6 L314.1,2437.2 L313.0,2435.8 L311.9,2434.4 L310.9,2433.0 L309.9,2431.6 L308.9,2430.2 L307.9,2428.8 L307.0,2427.3 L306.1,2425.8 L305.2,2424.2 L304.3,2422.6 L303.5,2420.9 L302.7,2419.3 L301.9,2417.6 L301.1,2416.0 L300.4,2414.3 L299.7,2412.7 L299.0,2411.2 L298.3,2409.7 L297.6,2408.2 L296.9,2406.8 L296.3,2405.5 L295.6,2404.3 L295.0,2403.2 L294.4,2402.2 L293.9,2401.3 L293.3,2400.5 L292.8,2399.8 L292.3,2399.1 L291.9,2398.5 L291.4,2397.9 L290.9,2397.3 L290.5,2396.6 L290.0,2396.0 L289.6,2395.2 L289.1,2394.5 L288.6,2393.6 L288.1,2392.6 L287.6,2391.6 L287.1,2390.4 L286.6,2389.1 L286.1,2387.8 L285.5,2386.4 L285.0,2385.0 L284.4,2383.5 L283.9,2382.0 L283.4,2380.4 L282.8,2378.8 L282.3,2377.2 L281.8,2375.7 L281.3,2374.1 L280.8,2372.5 L280.3,2370.9 L279.8,2369.4 L279.4,2367.9 L278.9,2366.4 L278.5,2364.9 L278.1,2363.5 L277.7,2362.0 L277.3,2360.5 L276.9,2359.0 L276.5,2357.5 L276.1,2356.1 L275.8,2354.6 L275.4,2353.1 L275.1,2351.6 L274.7,2350.1 L274.4,2348.7 L274.1,2347.2 L273.7,2345.7 L273.4,2344.2 L273.1,2342.7 L272.7,2341.3 L272.4,2339.8 L272.1,2338.3 L271.7,2336.8 L271.4,2335.3 L271.1,2333.9 L270.8,2332.4 L270.5,2330.9 L270.2,2329.4 L269.9,2327.9 L269.7,2326.5 L269.4,2325.0 L269.1,2323.5 L268.9,2322.0 L268.7,2320.5 L268.5,2319.1 L268.3,2317.6 L268.1,2316.1 L267.9,2314.6 L267.7,2313.1 L267.5,2311.7 L267.4,2310.2 L267.2,2308.7 L267.1,2307.2 L266.9,2305.7 L266.8,2304.3 L266.7,2302.8 L266.6,2301.3 L266.5,2299.8 L266.4,2298.3 L266.3,2296.9 L266.2,2295.4 L266.1,2293.9 L266.0,2292.4 L266.0,2290.9 L265.9,2289.5 L265.9,2288.0 L265.9,2286.5 L265.9,2285.0 L265.8,2283.6 L265.8,2282.1 L265.8,2280.6 L265.8,2279.1 L265.8,2277.6 L265.8,2276.2 L265.8,2274.7 L265.7,2273.2 L265.7,2271.7 L265.7,2270.2 L265.7,2268.8 L265.7,2267.3 L265.6,2265.8 L265.6,2264.3 L265.6,2262.8 L265.6,2261.4 L265.6,2259.9 L265.6,2258.4 L265.6,2256.9 L265.6,2255.4 L265.6,2254.0 L265.6,2252.5 L265.7,2251.0 L265.7,2249.5 L265.8,2248.0 L265.9,2246.6 L265.9,2245.1 L266.0,2243.6 L266.1,2242.1 L266.1,2240.6 L266.2,2239.2 L266.3,2237.7 L266.4,2236.2 L266.6,2234.7 L266.7,2233.2 L266.8,2231.8 L267.0,2230.3 L267.1,2228.8 L267.3,2227.3 L267.5,2225.8 L267.7,2224.4 L267.9,2222.9 L268.2,2221.4 L268.4,2219.9 L268.7,2218.4 L268.9,2217.0 L269.2,2215.5 L269.5,2214.0 L269.8,2212.5 L270.1,2211.0 L270.4,2209.6 L270.7,2208.1 L271.1,2206.6 L271.5,2205.1 L271.8,2203.7 L272.2,2202.2 L272.7,2200.7 L273.1,2199.2 L273.5,2197.7 L274.0,2196.3 L274.5,2194.8 L275.0,2193.3 L275.5,2191.8 L276.1,2190.3 L276.6,2188.9 L277.2,2187.4 L277.7,2185.9 L278.3,2184.4 L278.8,2182.9 L279.4,2181.5 L280.0,2180.0 L280.5,2178.5 L281.1,2177.0 L281.6,2175.5 L282.2,2174.1 L282.8,2172.6 L283.4,2171.1 L284.0,2169.6 L284.6,2168.1 L285.2,2166.7 L285.7,2165.2 L286.3,2163.7 L287.0,2162.2 L287.6,2160.7 L288.2,2159.3 L288.8,2157.8 L289.4,2156.3 L289.9,2154.8 L290.5,2153.3 L291.1,2151.8 L291.7,2150.3 L292.4,2148.7 L293.0,2147.1 L293.6,2145.6 L294.2,2144.0 L294.8,2142.5 L295.4,2140.9 L296.0,2139.4 L296.6,2137.9 L297.2,2136.5 L297.8,2135.1 L298.4,2133.7 L298.9,2132.4 Z" fill="url(#cyto)" filter="url(#blur2)"/>
<path d="M251.2,2080.0 L251.8,2078.7 L252.4,2077.4 L252.9,2076.2 L253.5,2075.1 L254.0,2074.0 L254.5,2073.0 L255.0,2072.0 L255.5,2071.0 L256.0,2070.0 L256.5,2069.1 L257.1,2068.1 L257.6,2067.1 L258.2,2066.1 L258.7,2065.1 L259.4,2064.1 L260.0,2063.0 L260.7,2061.9 L261.3,2060.7 L262.0,2059.6 L262.7,2058.5 L263.4,2057.3 L264.1,2056.1 L264.8,2054.9 L265.6,2053.8 L266.3,2052.6 L267.1,2051.4 L267.9,2050.2 L268.7,2049.1 L269.6,2047.9 L270.5,2046.7 L271.4,2045.6 L272.3,2044.4 L273.3,2043.2 L274.3,2042.1 L275.3,2040.9 L276.4,2039.7 L277.5,2038.6 L278.7,2037.4 L279.8,2036.2 L281.0,2035.0 L282.2,2033.9 L283.4,2032.7 L284.5,2031.6 L285.7,2030.5 L286.9,2029.4 L288.1,2028.3 L289.3,2027.3 L290.4,2026.3 L291.5,2025.3 L292.7,2024.3 L293.8,2023.4 L295.0,2022.5 L296.1,2021.5 L297.3,2020.6 L298.4,2019.7 L299.5,2018.9 L300.7,2018.0 L301.8,2017.2 L303.0,2016.4 L304.1,2015.6 L305.2,2014.9 L306.3,2014.1 L307.4,2013.4 L308.5,2012.7 L309.6,2012.0 L310.6,2011.4 L311.7,2010.8 L312.7,2010.3 L313.7,2009.8 L314.7,2009.3 L315.7,2008.8 L316.7,2008.3 L317.7,2007.8 L318.7,2007.4 L319.7,2006.9 L320.8,2006.5 L321.8,2006.0 L322.8,2005.5 L323.9,2005.0 L325.0,2004.5 L326.1,2004.0 L327.2,2003.4 L328.3,2002.8 L329.4,2002.2 L330.5,2001.6 L331.6,2001.0 L332.8,2000.4 L333.9,1999.8 L335.1,1999.2 L336.2,1998.7 L337.4,1998.1 L338.6,1997.5 L339.9,1997.0 L341.1,1996.5 L342.4,1996.0 L343.7,1995.6 L345.0,1995.2 L346.4,1994.8 L347.8,1994.4 L349.3,1994.1 L350.7,1993.8 L352.2,1993.5 L353.7,1993.2 L355.2,1992.9 L356.8,1992.6 L358.3,1992.4 L359.8,1992.1 L361.4,1991.9 L362.9,1991.7 L364.4,1991.4 L365.9,1991.2 L367.4,1991.0 L368.9,1990.8 L370.4,1990.6 L371.8,1990.4 L373.3,1990.2 L374.8,1990.0 L376.3,1989.8 L377.7,1989.7 L379.2,1989.5 L380.7,1989.4 L382.1,1989.2 L383.6,1989.1 L385.1,1989.0 L386.6,1988.9 L388.0,1988.7 L389.5,1988.6 L391.0,1988.5 L392.5,1988.4 L393.9,1988.3 L395.4,1988.2 L396.8,1988.2 L398.2,1988.1 L399.7,1988.0 L401.1,1988.0 L402.6,1987.9 L404.0,1987.9 L405.5,1987.8 L407.0,1987.8 L408.4,1987.7 L410.0,1987.7 L411.5,1987.6 L413.1,1987.5 L414.7,1987.4 L416.4,1987.3 L418.1,1987.2 L419.9,1987.1 L421.7,1987.0 L423.5,1986.9 L425.4,1986.8 L427.3,1986.6 L429.1,1986.5 L431.0,1986.4 L432.9,1986.2 L434.7,1986.1 L436.5,1985.9 L438.2,1985.7 L439.9,1985.5 L441.5,1985.3 L443.0,1985.0 L444.4,1984.7 L445.8,1984.4 L447.1,1984.1 L448.3,1983.7 L449.5,1983.3 L450.6,1982.9 L451.7,1982.5 L452.8,1982.1 L453.9,1981.6 L454.9,1981.2 L456.0,1980.8 L457.1,1980.4 L458.3,1980.0 L459.5,1979.7 L460.7,1979.3 L462.0,1979.0 L463.4,1978.7 L464.7,1978.4 L466.2,1978.2 L467.6,1977.9 L469.1,1977.7 L470.6,1977.5 L472.1,1977.3 L473.6,1977.1 L475.1,1976.9 L476.7,1976.7 L478.2,1976.5 L479.8,1976.3 L481.3,1976.1 L482.8,1975.9 L484.3,1975.7 L485.8,1975.5 L487.3,1975.3 L488.8,1975.0 L490.4,1974.8 L491.9,1974.6 L493.5,1974.3 L495.1,1974.1 L496.6,1973.8 L498.2,1973.6 L499.7,1973.4 L501.2,1973.1 L502.7,1972.9 L504.2,1972.7 L505.6,1972.5 L506.9,1972.3 L508.2,1972.2 L509.4,1972.0 L510.5,1971.9 L511.5,1971.7 L512.5,1971.6 L513.3,1971.5 L514.1,1971.4 L514.9,1971.3 L515.6,1971.2 L516.3,1971.1 L517.0,1971.1 L517.8,1971.0 L518.6,1971.0 L519.4,1970.9 L520.3,1970.9 L521.3,1970.9 L522.4,1971.0 L523.6,1971.0 L524.9,1971.1 L526.3,1971.1 L527.8,1971.3 L529.3,1971.4 L531.0,1971.5 L532.6,1971.7 L534.3,1971.9 L536.1,1972.0 L537.8,1972.2 L539.6,1972.4 L541.4,1972.6 L543.1,1972.8 L544.9,1973.0 L546.6,1973.2 L548.3,1973.3 L550.0,1973.5 L551.7,1973.6 L553.3,1973.8 L555.1,1973.9 L556.8,1974.0 L558.5,1974.1 L560.2,1974.3 L562.0,1974.4 L563.7,1974.5 L565.4,1974.6 L567.1,1974.8 L568.7,1974.9 L570.3,1975.0 L571.8,1975.2 L573.3,1975.4 L574.7,1975.6 L576.1,1975.8 L577.4,1976.0 L578.6,1976.3 L579.7,1976.5 L580.7,1976.7 L581.7,1977.0 L582.7,1977.3 L583.6,1977.5 L584.5,1977.8 L585.4,1978.1 L586.3,1978.4 L587.2,1978.8 L588.1,1979.1 L589.1,1979.5 L590.1,1979.9 L591.2,1980.3 L592.3,1980.7 L593.5,1981.2 L594.7,1981.6 L596.0,1982.1 L597.3,1982.6 L598.6,1983.2 L600.0,1983.7 L601.3,1984.3 L602.7,1984.9 L604.1,1985.5 L605.5,1986.1 L606.9,1986.7 L608.3,1987.3 L609.7,1987.9 L611.1,1988.6 L612.4,1989.2 L613.8,1989.8 L615.1,1990.4 L616.5,1991.1 L617.8,1991.7 L619.2,1992.4 L620.5,1993.0 L621.9,1993.7 L623.2,1994.4 L624.5,1995.0 L625.9,1995.7 L627.2,1996.4 L628.6,1997.1 L629.9,1997.8 L631.3,1998.5 L632.6,1999.2 L634.0,1999.9 L635.3,2000.6 L636.7,2001.3 L638.0,2002.0 L639.4,2002.8 L640.8,2003.5 L642.3,2004.3 L643.7,2005.0 L645.1,2005.8 L646.5,2006.6 L647.9,2007.3 L649.2,2008.1 L650.6,2008.8 L651.9,2009.6 L653.2,2010.3 L654.5,2011.0 L655.7,2011.7 L656.9,2012.4 L658.0,2013.1 L659.1,2013.7 L660.1,2014.3 L661.0,2014.9 L662.0,2015.5 L662.9,2016.1 L663.7,2016.7 L664.6,2017.3 L665.5,2017.9 L666.4,2018.5 L667.2,2019.0 L668.2,2019.7 L669.1,2020.3 L670.1,2020.9 L671.2,2021.6 L672.3,2022.3 L673.5,2023.0 L674.7,2023.8 L676.0,2024.5 L677.2,2025.3 L678.6,2026.1 L679.9,2026.9 L681.3,2027.7 L682.7,2028.5 L684.1,2029.4 L685.5,2030.2 L686.9,2031.0 L688.3,2031.9 L689.7,2032.7 L691.1,2033.5 L692.4,2034.4 L693.8,2035.2 L695.1,2036.0 L696.5,2036.9 L697.8,2037.7 L699.2,2038.6 L700.5,2039.4 L701.9,2040.3 L703.2,2041.2 L704.5,2042.0 L705.9,2042.9 L707.2,2043.7 L708.6,2044.6 L709.9,2045.4 L711.3,2046.3 L712.6,2047.1 L714.0,2047.9 L715.3,2048.7 L716.6,2049.5 L718.0,2050.2 L719.3,2050.9 L720.7,2051.6 L722.1,2052.3 L723.4,2052.9 L724.8,2053.6 L726.1,2054.2 L727.5,2054.9 L728.8,2055.6 L730.2,2056.3 L731.5,2057.0 L732.9,2057.8 L734.2,2058.7 L735.6,2059.6 L736.9,2060.5 L738.2,2061.5 L739.6,2062.6 L740.9,2063.7 L742.2,2064.8 L743.5,2066.0 L744.8,2067.2 L746.1,2068.4 L747.4,2069.6 L748.7,2070.9 L750.0,2072.2 L751.3,2073.5 L752.7,2074.8 L754.0,2076.1 L755.4,2077.4 L756.7,2078.7 L758.1,2080.0 L759.5,2081.3 L760.9,2082.5 L762.4,2083.8 L763.9,2085.1 L765.4,2086.4 L766.9,2087.6 L768.4,2088.9 L769.9,2090.2 L771.4,2091.5 L772.9,2092.9 L774.3,2094.2 L775.8,2095.6 L777.2,2097.0 L778.7,2098.4 L780.0,2099.9 L781.4,2101.4 L782.7,2102.9 L784.0,2104.5 L785.3,2106.1 L786.6,2107.7 L787.9,2109.3 L789.1,2111.0 L790.4,2112.7 L791.6,2114.4 L792.8,2116.1 L794.0,2117.8 L795.2,2119.6 L796.3,2121.3 L797.5,2123.1 L798.6,2124.9 L799.7,2126.7 L800.8,2128.5 L801.9,2130.3 L803.0,2132.2 L804.1,2134.0 L805.1,2135.9 L806.2,2137.8 L807.2,2139.7 L808.3,2141.6 L809.3,2143.5 L810.3,2145.5 L811.2,2147.4 L812.2,2149.4 L813.1,2151.4 L813.9,2153.4 L814.8,2155.4 L815.6,2157.4 L816.3,2159.5 L817.0,2161.6 L817.7,2163.7 L818.3,2165.9 L818.9,2168.1 L819.4,2170.3 L820.0,2172.6 L820.5,2174.8 L820.9,2177.1 L821.4,2179.3 L821.8,2181.6 L822.2,2183.8 L822.6,2186.0 L823.0,2188.2 L823.3,2190.3 L823.7,2192.4 L824.0,2194.4 L824.3,2196.4 L824.6,2198.3 L824.9,2200.2 L825.1,2202.1 L825.3,2203.9 L825.5,2205.7 L825.7,2207.5 L825.9,2209.3 L826.0,2211.0 L826.2,2212.8 L826.3,2214.5 L826.4,2216.3 L826.5,2218.0 L826.7,2219.8 L826.8,2221.6 L826.9,2223.4 L827.0,2225.2 L827.1,2226.9 L827.2,2228.7 L827.4,2230.3 L827.5,2232.0 L827.5,2233.7 L827.6,2235.4 L827.7,2237.1 L827.8,2238.8 L827.8,2240.6 L827.9,2242.4 L827.9,2244.3 L827.9,2246.2 L827.9,2248.2 L827.9,2250.3 L827.9,2252.5 L827.9,2254.8 L827.8,2257.2 L827.7,2259.6 L827.6,2262.2 L827.5,2264.8 L827.4,2267.4 L827.3,2270.1 L827.1,2272.8 L827.0,2275.6 L826.9,2278.4 L826.7,2281.2 L826.5,2284.0 L826.4,2286.8 L826.2,2289.6 L826.1,2292.4 L825.9,2295.2 L825.7,2298.0 L825.6,2300.7 L825.5,2303.5 L825.3,2306.3 L825.2,2309.1 L825.1,2312.0 L824.9,2314.8 L824.8,2317.6 L824.6,2320.5 L824.4,2323.3 L824.2,2326.2 L824.0,2329.0 L823.8,2331.9 L823.5,2334.7 L823.2,2337.6 L822.9,2340.4 L822.6,2343.3 L822.2,2346.2 L821.8,2349.2 L821.4,2352.2 L820.9,2355.3 L820.4,2358.3 L820.0,2361.4 L819.5,2364.4 L819.0,2367.4 L818.5,2370.3 L817.9,2373.1 L817.4,2375.9 L816.9,2378.5 L816.3,2381.0 L815.8,2383.4 L815.3,2385.6 L814.8,2387.6 L814.2,2389.5 L813.7,2391.2 L813.1,2392.8 L812.6,2394.3 L812.0,2395.7 L811.5,2397.1 L810.9,2398.3 L810.3,2399.5 L809.7,2400.7 L809.2,2401.9 L808.6,2403.1 L808.0,2404.3 L807.4,2405.5 L806.9,2406.8 L806.3,2408.2 L805.7,2409.6 L805.2,2411.0 L804.6,2412.4 L804.1,2413.8 L803.5,2415.3 L803.0,2416.7 L802.4,2418.1 L801.9,2419.5 L801.3,2420.9 L800.8,2422.3 L800.2,2423.7 L799.7,2425.2 L799.1,2426.6 L798.5,2428.0 L797.9,2429.4 L797.3,2430.8 L796.7,2432.2 L796.1,2433.6 L795.4,2435.0 L794.8,2436.5 L794.2,2437.9 L793.5,2439.3 L792.8,2440.7 L792.2,2442.1 L791.5,2443.5 L790.8,2444.9 L790.2,2446.3 L789.5,2447.8 L788.8,2449.2 L788.1,2450.6 L787.4,2452.0 L786.7,2453.4 L786.0,2454.8 L785.2,2456.2 L784.5,2457.6 L783.7,2459.0 L782.9,2460.4 L782.0,2461.7 L781.2,2463.1 L780.4,2464.5 L779.6,2465.9 L778.8,2467.3 L778.1,2468.7 L777.3,2470.1 L776.6,2471.6 L775.9,2473.0 L775.3,2474.5 L774.7,2476.0 L774.2,2477.5 L773.7,2479.2 L773.4,2480.8 L773.0,2482.5 L772.8,2484.3 L772.5,2486.0 L772.3,2487.7 L772.0,2489.5 L771.8,2491.2 L771.5,2492.9 L771.2,2494.6 L770.8,2496.2 L770.4,2497.7 L769.8,2499.2 L769.2,2500.5 L768.5,2501.8 L767.7,2503.0 L766.8,2504.1 L765.8,2505.1 L764.7,2506.0 L763.6,2506.9 L762.5,2507.7 L761.3,2508.5 L760.0,2509.3 L758.7,2510.0 L757.4,2510.7 L756.1,2511.4 L754.8,2512.1 L753.5,2512.7 L752.2,2513.4 L750.9,2514.2 L749.6,2514.9 L748.3,2515.7 L747.1,2516.4 L745.8,2517.1 L744.5,2517.9 L743.2,2518.6 L741.9,2519.3 L740.6,2520.0 L739.2,2520.7 L737.9,2521.4 L736.5,2522.0 L735.2,2522.7 L733.8,2523.4 L732.3,2524.0 L730.9,2524.7 L729.5,2525.4 L728.0,2526.0 L726.5,2526.6 L725.0,2527.3 L723.4,2527.9 L721.8,2528.6 L720.1,2529.2 L718.5,2529.9 L716.8,2530.5 L715.1,2531.1 L713.5,2531.7 L711.8,2532.3 L710.1,2532.9 L708.5,2533.5 L706.9,2534.0 L705.3,2534.5 L703.7,2535.0 L702.2,2535.5 L700.7,2535.9 L699.3,2536.4 L697.9,2536.8 L696.5,2537.1 L695.1,2537.5 L693.7,2537.8 L692.4,2538.2 L691.1,2538.5 L689.7,2538.8 L688.4,2539.0 L687.0,2539.3 L685.7,2539.6 L684.3,2539.8 L682.9,2540.0 L681.5,2540.3 L680.0,2540.5 L678.5,2540.7 L677.0,2540.9 L675.5,2541.1 L673.9,2541.4 L672.3,2541.5 L670.8,2541.7 L669.2,2541.9 L667.6,2542.1 L666.0,2542.2 L664.4,2542.3 L662.7,2542.4 L661.1,2542.5 L659.5,2542.6 L658.0,2542.6 L656.4,2542.6 L654.8,2542.6 L653.2,2542.6 L651.7,2542.5 L650.1,2542.4 L648.5,2542.3 L646.9,2542.1 L645.4,2541.9 L643.8,2541.7 L642.2,2541.5 L640.7,2541.3 L639.1,2541.1 L637.6,2540.8 L636.0,2540.6 L634.5,2540.3 L633.0,2540.0 L631.5,2539.8 L630.0,2539.5 L628.6,2539.2 L627.2,2539.0 L625.8,2538.7 L624.5,2538.5 L623.2,2538.2 L621.9,2537.9 L620.7,2537.6 L619.4,2537.3 L618.1,2537.0 L616.7,2536.7 L615.3,2536.3 L613.9,2535.9 L612.4,2535.4 L610.8,2534.9 L609.2,2534.4 L607.4,2533.8 L605.5,2533.1 L603.5,2532.4 L601.3,2531.6 L599.1,2530.8 L596.8,2529.9 L594.4,2528.9 L592.0,2528.0 L589.5,2527.0 L587.1,2526.0 L584.7,2525.0 L582.3,2524.0 L580.0,2523.1 L577.8,2522.1 L575.7,2521.3 L573.7,2520.4 L571.8,2519.6 L570.1,2518.8 L568.5,2518.1 L567.0,2517.4 L565.7,2516.7 L564.4,2516.1 L563.2,2515.4 L562.0,2514.8 L560.8,2514.2 L559.7,2513.5 L558.5,2512.9 L557.3,2512.3 L556.0,2511.7 L554.7,2511.1 L553.2,2510.5 L551.7,2509.8 L550.0,2509.2 L548.2,2508.5 L546.3,2507.9 L544.3,2507.2 L542.3,2506.5 L540.2,2505.8 L538.0,2505.1 L535.8,2504.4 L533.6,2503.7 L531.3,2503.0 L529.1,2502.3 L526.8,2501.7 L524.5,2501.0 L522.2,2500.4 L520.0,2499.8 L517.8,2499.3 L515.6,2498.8 L513.4,2498.3 L511.3,2497.9 L509.1,2497.5 L507.0,2497.1 L504.8,2496.8 L502.7,2496.4 L500.5,2496.1 L498.4,2495.8 L496.2,2495.5 L494.0,2495.3 L491.9,2495.0 L489.7,2494.7 L487.6,2494.5 L485.4,2494.2 L483.3,2494.0 L481.1,2493.7 L478.9,2493.4 L476.8,2493.2 L474.6,2492.9 L472.5,2492.7 L470.3,2492.5 L468.2,2492.3 L466.0,2492.1 L463.9,2491.8 L461.8,2491.6 L459.6,2491.4 L457.5,2491.2 L455.3,2491.0 L453.2,2490.8 L451.0,2490.6 L448.9,2490.4 L446.7,2490.2 L444.5,2490.0 L442.4,2489.8 L440.2,2489.6 L438.1,2489.4 L435.9,2489.2 L433.8,2489.0 L431.6,2488.8 L429.4,2488.6 L427.3,2488.4 L425.1,2488.2 L423.0,2488.0 L420.8,2487.8 L418.7,2487.5 L416.5,2487.3 L414.4,2487.1 L412.2,2486.8 L410.0,2486.5 L407.9,2486.2 L405.7,2486.0 L403.6,2485.7 L401.4,2485.4 L399.3,2485.1 L397.1,2484.7 L395.0,2484.4 L392.9,2484.1 L390.7,2483.8 L388.6,2483.4 L386.4,2483.1 L384.3,2482.7 L382.1,2482.3 L380.0,2482.0 L377.8,2481.6 L375.6,2481.2 L373.5,2480.9 L371.3,2480.5 L369.2,2480.2 L367.0,2479.9 L364.9,2479.5 L362.7,2479.2 L360.6,2478.8 L358.4,2478.4 L356.2,2478.0 L354.1,2477.5 L351.9,2477.1 L349.8,2476.6 L347.6,2476.0 L345.5,2475.4 L343.3,2474.7 L341.1,2474.0 L338.9,2473.2 L336.7,2472.4 L334.5,2471.5 L332.3,2470.7 L330.1,2469.7 L327.9,2468.8 L325.7,2467.8 L323.5,2466.8 L321.3,2465.8 L319.1,2464.7 L317.0,2463.6 L314.9,2462.5 L312.9,2461.4 L310.9,2460.3 L308.9,2459.2 L307.0,2458.1 L305.1,2456.9 L303.2,2455.7 L301.4,2454.5 L299.5,2453.3 L297.7,2452.0 L296.0,2450.7 L294.2,2449.4 L292.5,2448.1 L290.8,2446.8 L289.2,2445.5 L287.5,2444.1 L285.9,2442.8 L284.4,2441.4 L282.8,2440.0 L281.3,2438.6 L279.8,2437.2 L278.3,2435.8 L276.9,2434.3 L275.5,2432.9 L274.1,2431.4 L272.8,2429.9 L271.4,2428.4 L270.1,2426.9 L268.9,2425.4 L267.6,2423.9 L266.4,2422.3 L265.2,2420.8 L264.0,2419.2 L262.9,2417.6 L261.8,2416.0 L260.7,2414.4 L259.6,2412.7 L258.6,2411.0 L257.6,2409.3 L256.7,2407.4 L255.7,2405.6 L254.8,2403.7 L253.9,2401.9 L253.1,2400.0 L252.2,2398.2 L251.4,2396.4 L250.6,2394.6 L249.9,2392.9 L249.1,2391.3 L248.3,2389.7 L247.6,2388.3 L246.9,2386.9 L246.2,2385.7 L245.5,2384.6 L244.9,2383.6 L244.3,2382.7 L243.7,2381.9 L243.2,2381.1 L242.6,2380.4 L242.1,2379.7 L241.6,2379.0 L241.1,2378.3 L240.6,2377.5 L240.1,2376.7 L239.5,2375.9 L239.0,2374.9 L238.5,2373.8 L237.9,2372.6 L237.3,2371.3 L236.7,2369.9 L236.1,2368.4 L235.5,2366.8 L234.9,2365.2 L234.3,2363.5 L233.7,2361.8 L233.1,2360.1 L232.5,2358.3 L231.9,2356.5 L231.3,2354.7 L230.7,2352.9 L230.2,2351.2 L229.6,2349.4 L229.1,2347.7 L228.6,2346.0 L228.1,2344.3 L227.6,2342.7 L227.2,2341.0 L226.7,2339.3 L226.3,2337.7 L225.8,2336.0 L225.4,2334.4 L225.0,2332.7 L224.6,2331.0 L224.2,2329.4 L223.8,2327.7 L223.4,2326.1 L223.0,2324.4 L222.7,2322.7 L222.3,2321.1 L221.9,2319.4 L221.5,2317.7 L221.2,2316.1 L220.8,2314.4 L220.4,2312.8 L220.1,2311.1 L219.7,2309.4 L219.3,2307.8 L219.0,2306.1 L218.7,2304.4 L218.3,2302.8 L218.0,2301.1 L217.7,2299.5 L217.4,2297.8 L217.1,2296.1 L216.9,2294.5 L216.6,2292.8 L216.4,2291.1 L216.1,2289.5 L215.9,2287.8 L215.7,2286.2 L215.5,2284.5 L215.3,2282.8 L215.1,2281.2 L215.0,2279.5 L214.8,2277.8 L214.6,2276.2 L214.5,2274.5 L214.4,2272.8 L214.2,2271.2 L214.1,2269.5 L214.0,2267.9 L213.9,2266.2 L213.8,2264.5 L213.7,2262.9 L213.6,2261.2 L213.6,2259.5 L213.5,2257.9 L213.5,2256.2 L213.5,2254.6 L213.4,2252.9 L213.4,2251.2 L213.4,2249.6 L213.4,2247.9 L213.4,2246.2 L213.3,2244.6 L213.3,2242.9 L213.3,2241.3 L213.3,2239.6 L213.3,2237.9 L213.3,2236.3 L213.2,2234.6 L213.2,2232.9 L213.2,2231.3 L213.2,2229.6 L213.2,2228.0 L213.1,2226.3 L213.1,2224.6 L213.1,2223.0 L213.1,2221.3 L213.1,2219.7 L213.2,2218.0 L213.2,2216.3 L213.2,2214.7 L213.3,2213.0 L213.4,2211.3 L213.4,2209.7 L213.5,2208.0 L213.6,2206.3 L213.7,2204.7 L213.8,2203.0 L213.9,2201.4 L214.0,2199.7 L214.1,2198.0 L214.2,2196.4 L214.4,2194.7 L214.5,2193.1 L214.7,2191.4 L214.9,2189.7 L215.1,2188.1 L215.3,2186.4 L215.5,2184.7 L215.8,2183.1 L216.0,2181.4 L216.3,2179.8 L216.6,2178.1 L216.9,2176.4 L217.2,2174.8 L217.5,2173.1 L217.8,2171.4 L218.2,2169.8 L218.5,2168.1 L218.9,2166.5 L219.3,2164.8 L219.7,2163.1 L220.2,2161.5 L220.6,2159.8 L221.1,2158.1 L221.6,2156.5 L222.1,2154.8 L222.6,2153.2 L223.2,2151.5 L223.7,2149.8 L224.3,2148.2 L224.9,2146.5 L225.5,2144.8 L226.1,2143.2 L226.8,2141.5 L227.4,2139.8 L228.0,2138.2 L228.6,2136.5 L229.3,2134.9 L229.9,2133.2 L230.5,2131.5 L231.2,2129.9 L231.8,2128.2 L232.5,2126.5 L233.1,2124.9 L233.8,2123.2 L234.4,2121.6 L235.1,2119.9 L235.8,2118.2 L236.5,2116.6 L237.1,2114.9 L237.8,2113.2 L238.5,2111.6 L239.2,2109.9 L239.8,2108.3 L240.5,2106.6 L241.2,2104.9 L241.8,2103.2 L242.5,2101.5 L243.2,2099.7 L243.9,2098.0 L244.6,2096.2 L245.3,2094.4 L246.0,2092.7 L246.6,2091.0 L247.3,2089.3 L248.0,2087.6 L248.7,2086.0 L249.3,2084.4 L250.0,2082.9 L250.6,2081.4 Z" fill="none" stroke="#f3592e" stroke-width="13" stroke-linejoin="round"/>
<g fill="#faf17e" stroke="#5e5838" stroke-width="0.7"><circle cx="245.6" cy="2077.5" r="3.85"/><circle cx="250.3" cy="2067.8" r="3.85"/><circle cx="255.6" cy="2058.5" r="3.85"/><circle cx="261.2" cy="2049.3" r="3.85"/><circle cx="267.7" cy="2040.4" r="3.85"/><circle cx="275.1" cy="2032.3" r="3.85"/><circle cx="282.9" cy="2024.9" r="3.85"/><circle cx="291.0" cy="2017.8" r="3.85"/><circle cx="299.7" cy="2011.3" r="3.85"/><circle cx="309.0" cy="2005.4" r="3.85"/><circle cx="318.7" cy="2000.7" r="3.85"/><circle cx="327.9" cy="1996.1" r="3.85"/><circle cx="337.7" cy="1991.3" r="3.85"/><circle cx="348.5" cy="1988.0" r="3.85"/><circle cx="359.2" cy="1986.1" r="3.85"/><circle cx="369.7" cy="1984.5" r="3.85"/><circle cx="380.2" cy="1983.3" r="3.85"/><circle cx="390.8" cy="1982.4" r="3.85"/><circle cx="401.3" cy="1981.9" r="3.85"/><circle cx="411.7" cy="1981.5" r="3.85"/><circle cx="422.0" cy="1980.8" r="3.85"/><circle cx="432.2" cy="1980.2" r="3.85"/><circle cx="441.9" cy="1979.0" r="3.85"/><circle cx="451.3" cy="1976.1" r="3.85"/><circle cx="461.6" cy="1972.9" r="3.85"/><circle cx="472.4" cy="1971.1" r="3.85"/><circle cx="482.8" cy="1969.8" r="3.85"/><circle cx="493.0" cy="1968.2" r="3.85"/><circle cx="503.4" cy="1966.7" r="3.85"/><circle cx="514.1" cy="1965.3" r="3.85"/><circle cx="525.1" cy="1965.0" r="3.85"/><circle cx="535.9" cy="1965.9" r="3.85"/><circle cx="546.3" cy="1967.0" r="3.85"/><circle cx="556.5" cy="1967.9" r="3.85"/><circle cx="567.0" cy="1968.6" r="3.85"/><circle cx="577.9" cy="1969.9" r="3.85"/><circle cx="588.7" cy="1972.8" r="3.85"/><circle cx="598.8" cy="1976.7" r="3.85"/><circle cx="608.6" cy="1980.8" r="3.85"/><circle cx="618.2" cy="1985.1" r="3.85"/><circle cx="627.7" cy="1989.8" r="3.85"/><circle cx="637.1" cy="1994.6" r="3.85"/><circle cx="646.3" cy="1999.5" r="3.85"/><circle cx="655.6" cy="2004.6" r="3.85"/><circle cx="664.8" cy="2010.1" r="3.85"/><circle cx="673.5" cy="2015.8" r="3.85"/><circle cx="682.3" cy="2021.2" r="3.85"/><circle cx="691.2" cy="2026.5" r="3.85"/><circle cx="700.2" cy="2032.0" r="3.85"/><circle cx="709.0" cy="2037.6" r="3.85"/><circle cx="717.6" cy="2043.0" r="3.85"/><circle cx="726.6" cy="2047.7" r="3.85"/><circle cx="736.3" cy="2052.8" r="3.85"/><circle cx="745.3" cy="2059.4" r="3.85"/><circle cx="753.2" cy="2066.8" r="3.85"/><circle cx="760.6" cy="2074.0" r="3.85"/><circle cx="768.3" cy="2080.8" r="3.85"/><circle cx="776.2" cy="2087.7" r="3.85"/><circle cx="784.1" cy="2095.3" r="3.85"/><circle cx="791.1" cy="2103.6" r="3.85"/><circle cx="797.6" cy="2112.2" r="3.85"/><circle cx="803.5" cy="2121.2" r="3.85"/><circle cx="809.0" cy="2130.3" r="3.85"/><circle cx="814.1" cy="2139.6" r="3.85"/><circle cx="818.9" cy="2149.4" r="3.85"/><circle cx="822.8" cy="2159.6" r="3.85"/><circle cx="825.7" cy="2170.2" r="3.85"/><circle cx="827.8" cy="2180.7" r="3.85"/><circle cx="829.6" cy="2191.1" r="3.85"/><circle cx="831.2" cy="2201.6" r="3.85"/><circle cx="832.2" cy="2212.2" r="3.85"/><circle cx="833.0" cy="2222.7" r="3.85"/><circle cx="833.6" cy="2233.2" r="3.85"/><circle cx="834.0" cy="2243.8" r="3.85"/><circle cx="834.0" cy="2254.4" r="3.85"/><circle cx="833.6" cy="2265.0" r="3.85"/><circle cx="833.1" cy="2275.5" r="3.85"/><circle cx="832.5" cy="2285.9" r="3.85"/><circle cx="832.0" cy="2296.3" r="3.85"/><circle cx="831.4" cy="2306.7" r="3.85"/><circle cx="830.9" cy="2317.1" r="3.85"/><circle cx="830.2" cy="2327.6" r="3.85"/><circle cx="829.3" cy="2338.2" r="3.85"/><circle cx="828.0" cy="2348.7" r="3.85"/><circle cx="826.5" cy="2359.1" r="3.85"/><circle cx="824.8" cy="2369.5" r="3.85"/><circle cx="822.8" cy="2379.9" r="3.85"/><circle cx="820.3" cy="2390.6" r="3.85"/><circle cx="816.4" cy="2400.9" r="3.85"/><circle cx="812.0" cy="2410.4" r="3.85"/><circle cx="808.3" cy="2419.9" r="3.85"/><circle cx="804.4" cy="2429.7" r="3.85"/><circle cx="800.1" cy="2439.4" r="3.85"/><circle cx="795.7" cy="2449.0" r="3.85"/><circle cx="790.9" cy="2458.5" r="3.85"/><circle cx="785.7" cy="2467.6" r="3.85"/><circle cx="781.2" cy="2476.1" r="3.85"/><circle cx="778.8" cy="2485.2" r="3.85"/><circle cx="777.1" cy="2495.9" r="3.85"/><circle cx="771.9" cy="2507.4" r="3.85"/><circle cx="762.1" cy="2515.1" r="3.85"/><circle cx="752.6" cy="2520.2" r="3.85"/><circle cx="743.4" cy="2525.4" r="3.85"/><circle cx="733.8" cy="2530.1" r="3.85"/><circle cx="723.9" cy="2534.3" r="3.85"/><circle cx="713.9" cy="2538.0" r="3.85"/><circle cx="703.8" cy="2541.4" r="3.85"/><circle cx="693.3" cy="2544.2" r="3.85"/><circle cx="682.7" cy="2546.2" r="3.85"/><circle cx="672.1" cy="2547.7" r="3.85"/><circle cx="661.3" cy="2548.6" r="3.85"/><circle cx="650.3" cy="2548.5" r="3.85"/><circle cx="639.4" cy="2547.3" r="3.85"/><circle cx="628.9" cy="2545.5" r="3.85"/><circle cx="618.4" cy="2543.4" r="3.85"/><circle cx="607.9" cy="2540.4" r="3.85"/><circle cx="597.9" cy="2536.8" r="3.85"/><circle cx="588.0" cy="2533.0" r="3.85"/><circle cx="578.3" cy="2529.0" r="3.85"/><circle cx="568.5" cy="2524.8" r="3.85"/><circle cx="559.1" cy="2520.1" r="3.85"/><circle cx="550.0" cy="2515.7" r="3.85"/><circle cx="540.6" cy="2512.3" r="3.85"/><circle cx="530.9" cy="2509.2" r="3.85"/><circle cx="521.1" cy="2506.4" r="3.85"/><circle cx="511.3" cy="2504.1" r="3.85"/><circle cx="501.3" cy="2502.4" r="3.85"/><circle cx="491.2" cy="2501.1" r="3.85"/><circle cx="480.9" cy="2499.8" r="3.85"/><circle cx="470.6" cy="2498.6" r="3.85"/><circle cx="460.3" cy="2497.6" r="3.85"/><circle cx="449.9" cy="2496.6" r="3.85"/><circle cx="439.6" cy="2495.6" r="3.85"/><circle cx="429.2" cy="2494.7" r="3.85"/><circle cx="418.7" cy="2493.7" r="3.85"/><circle cx="408.3" cy="2492.4" r="3.85"/><circle cx="397.9" cy="2491.0" r="3.85"/><circle cx="387.5" cy="2489.4" r="3.85"/><circle cx="377.2" cy="2487.7" r="3.85"/><circle cx="366.9" cy="2486.0" r="3.85"/><circle cx="356.4" cy="2484.2" r="3.85"/><circle cx="345.8" cy="2481.8" r="3.85"/><circle cx="335.5" cy="2478.4" r="3.85"/><circle cx="325.5" cy="2474.4" r="3.85"/><circle cx="315.7" cy="2469.8" r="3.85"/><circle cx="306.3" cy="2464.7" r="3.85"/><circle cx="297.1" cy="2459.0" r="3.85"/><circle cx="288.3" cy="2452.6" r="3.85"/><circle cx="280.0" cy="2445.7" r="3.85"/><circle cx="272.2" cy="2438.2" r="3.85"/><circle cx="264.9" cy="2430.1" r="3.85"/><circle cx="258.2" cy="2421.5" r="3.85"/><circle cx="252.3" cy="2412.2" r="3.85"/><circle cx="247.5" cy="2402.5" r="3.85"/><circle cx="243.2" cy="2393.2" r="3.85"/><circle cx="238.2" cy="2384.6" r="3.85"/><circle cx="232.5" cy="2375.3" r="3.85"/><circle cx="228.4" cy="2365.0" r="3.85"/><circle cx="225.0" cy="2354.9" r="3.85"/><circle cx="221.9" cy="2344.7" r="3.85"/><circle cx="219.2" cy="2334.5" r="3.85"/><circle cx="216.7" cy="2324.2" r="3.85"/><circle cx="214.4" cy="2314.0" r="3.85"/><circle cx="212.3" cy="2303.6" r="3.85"/><circle cx="210.5" cy="2293.1" r="3.85"/><circle cx="209.1" cy="2282.6" r="3.85"/><circle cx="208.2" cy="2272.0" r="3.85"/><circle cx="207.6" cy="2261.4" r="3.85"/><circle cx="207.3" cy="2250.8" r="3.85"/><circle cx="207.2" cy="2240.4" r="3.85"/><circle cx="207.1" cy="2230.0" r="3.85"/><circle cx="207.0" cy="2219.4" r="3.85"/><circle cx="207.4" cy="2208.8" r="3.85"/><circle cx="208.0" cy="2198.2" r="3.85"/><circle cx="209.0" cy="2187.6" r="3.85"/><circle cx="210.6" cy="2177.0" r="3.85"/><circle cx="212.7" cy="2166.4" r="3.85"/><circle cx="215.3" cy="2156.0" r="3.85"/><circle cx="218.7" cy="2145.8" r="3.85"/><circle cx="222.4" cy="2135.9" r="3.85"/><circle cx="226.1" cy="2126.1" r="3.85"/><circle cx="230.0" cy="2116.4" r="3.85"/><circle cx="233.9" cy="2106.7" r="3.85"/><circle cx="237.7" cy="2097.1" r="3.85"/><circle cx="241.5" cy="2087.3" r="3.85"/><circle cx="258.9" cy="2078.0" r="3.85"/><circle cx="263.6" cy="2069.0" r="3.85"/><circle cx="268.7" cy="2060.4" r="3.85"/><circle cx="274.2" cy="2052.1" r="3.85"/><circle cx="280.5" cy="2044.5" r="3.85"/><circle cx="287.4" cy="2037.4" r="3.85"/><circle cx="294.9" cy="2030.6" r="3.85"/><circle cx="302.7" cy="2024.3" r="3.85"/><circle cx="310.8" cy="2018.7" r="3.85"/><circle cx="319.4" cy="2013.9" r="3.85"/><circle cx="328.7" cy="2009.4" r="3.85"/><circle cx="337.8" cy="2004.8" r="3.85"/><circle cx="346.8" cy="2001.3" r="3.85"/><circle cx="356.3" cy="1999.0" r="3.85"/><circle cx="366.2" cy="1997.4" r="3.85"/><circle cx="376.4" cy="1996.0" r="3.85"/><circle cx="386.5" cy="1995.0" r="3.85"/><circle cx="396.8" cy="1994.3" r="3.85"/><circle cx="407.1" cy="1993.9" r="3.85"/><circle cx="417.6" cy="1993.3" r="3.85"/><circle cx="428.1" cy="1992.7" r="3.85"/><circle cx="438.9" cy="1991.6" r="3.85"/><circle cx="449.7" cy="1989.4" r="3.85"/><circle cx="459.7" cy="1986.2" r="3.85"/><circle cx="469.3" cy="1984.0" r="3.85"/><circle cx="479.3" cy="1982.5" r="3.85"/><circle cx="489.6" cy="1981.1" r="3.85"/><circle cx="499.9" cy="1979.5" r="3.85"/><circle cx="510.0" cy="1978.1" r="3.85"/><circle cx="519.9" cy="1977.3" r="3.85"/><circle cx="529.7" cy="1977.6" r="3.85"/><circle cx="539.9" cy="1978.6" r="3.85"/><circle cx="550.3" cy="1979.6" r="3.85"/><circle cx="560.7" cy="1980.4" r="3.85"/><circle cx="570.7" cy="1981.4" r="3.85"/><circle cx="580.3" cy="1983.2" r="3.85"/><circle cx="589.6" cy="1986.2" r="3.85"/><circle cx="599.0" cy="1990.0" r="3.85"/><circle cx="608.4" cy="1994.1" r="3.85"/><circle cx="617.6" cy="1998.4" r="3.85"/><circle cx="626.8" cy="2003.1" r="3.85"/><circle cx="636.0" cy="2007.9" r="3.85"/><circle cx="645.0" cy="2012.8" r="3.85"/><circle cx="653.9" cy="2017.8" r="3.85"/><circle cx="662.6" cy="2023.3" r="3.85"/><circle cx="671.5" cy="2028.9" r="3.85"/><circle cx="680.4" cy="2034.3" r="3.85"/><circle cx="689.3" cy="2039.6" r="3.85"/><circle cx="698.1" cy="2045.1" r="3.85"/><circle cx="707.0" cy="2050.7" r="3.85"/><circle cx="716.3" cy="2056.0" r="3.85"/><circle cx="725.4" cy="2060.8" r="3.85"/><circle cx="733.6" cy="2066.0" r="3.85"/><circle cx="741.1" cy="2072.2" r="3.85"/><circle cx="748.5" cy="2079.3" r="3.85"/><circle cx="756.3" cy="2086.5" r="3.85"/><circle cx="764.1" cy="2093.3" r="3.85"/><circle cx="771.6" cy="2100.2" r="3.85"/><circle cx="778.4" cy="2107.4" r="3.85"/><circle cx="784.6" cy="2115.2" r="3.85"/><circle cx="790.3" cy="2123.5" r="3.85"/><circle cx="795.8" cy="2132.0" r="3.85"/><circle cx="800.8" cy="2140.8" r="3.85"/><circle cx="805.5" cy="2149.8" r="3.85"/><circle cx="809.4" cy="2158.9" r="3.85"/><circle cx="812.5" cy="2168.2" r="3.85"/><circle cx="814.8" cy="2178.0" r="3.85"/><circle cx="816.7" cy="2188.0" r="3.85"/><circle cx="818.3" cy="2198.1" r="3.85"/><circle cx="819.6" cy="2208.2" r="3.85"/><circle cx="820.4" cy="2218.4" r="3.85"/><circle cx="821.1" cy="2228.7" r="3.85"/><circle cx="821.6" cy="2238.9" r="3.85"/><circle cx="821.8" cy="2249.1" r="3.85"/><circle cx="821.6" cy="2259.4" r="3.85"/><circle cx="821.2" cy="2269.7" r="3.85"/><circle cx="820.7" cy="2280.0" r="3.85"/><circle cx="820.1" cy="2290.4" r="3.85"/><circle cx="819.5" cy="2300.8" r="3.85"/><circle cx="819.0" cy="2311.2" r="3.85"/><circle cx="818.4" cy="2321.5" r="3.85"/><circle cx="817.6" cy="2331.8" r="3.85"/><circle cx="816.5" cy="2342.0" r="3.85"/><circle cx="815.2" cy="2352.1" r="3.85"/><circle cx="813.6" cy="2362.3" r="3.85"/><circle cx="811.8" cy="2372.4" r="3.85"/><circle cx="809.7" cy="2382.2" r="3.85"/><circle cx="806.9" cy="2391.6" r="3.85"/><circle cx="803.0" cy="2400.9" r="3.85"/><circle cx="798.9" cy="2410.5" r="3.85"/><circle cx="795.0" cy="2420.2" r="3.85"/><circle cx="791.1" cy="2429.7" r="3.85"/><circle cx="786.9" cy="2439.0" r="3.85"/><circle cx="782.4" cy="2448.2" r="3.85"/><circle cx="777.6" cy="2457.3" r="3.85"/><circle cx="772.4" cy="2466.7" r="3.85"/><circle cx="768.3" cy="2477.2" r="3.85"/><circle cx="766.1" cy="2487.6" r="3.85"/><circle cx="763.7" cy="2496.2" r="3.85"/><circle cx="758.9" cy="2502.3" r="3.85"/><circle cx="751.1" cy="2507.1" r="3.85"/><circle cx="742.2" cy="2512.0" r="3.85"/><circle cx="733.2" cy="2516.8" r="3.85"/><circle cx="724.1" cy="2521.0" r="3.85"/><circle cx="714.6" cy="2524.8" r="3.85"/><circle cx="705.1" cy="2528.1" r="3.85"/><circle cx="695.4" cy="2531.0" r="3.85"/><circle cx="685.7" cy="2533.3" r="3.85"/><circle cx="675.8" cy="2534.9" r="3.85"/><circle cx="665.8" cy="2536.0" r="3.85"/><circle cx="655.9" cy="2536.4" r="3.85"/><circle cx="646.1" cy="2535.8" r="3.85"/><circle cx="636.1" cy="2534.4" r="3.85"/><circle cx="626.2" cy="2532.5" r="3.85"/><circle cx="616.5" cy="2530.2" r="3.85"/><circle cx="606.9" cy="2527.1" r="3.85"/><circle cx="597.4" cy="2523.5" r="3.85"/><circle cx="587.8" cy="2519.7" r="3.85"/><circle cx="578.3" cy="2515.7" r="3.85"/><circle cx="569.0" cy="2511.5" r="3.85"/><circle cx="559.6" cy="2506.8" r="3.85"/><circle cx="549.6" cy="2502.6" r="3.85"/><circle cx="539.5" cy="2499.2" r="3.85"/><circle cx="529.3" cy="2496.1" r="3.85"/><circle cx="519.0" cy="2493.4" r="3.85"/><circle cx="508.5" cy="2491.3" r="3.85"/><circle cx="497.9" cy="2489.6" r="3.85"/><circle cx="487.5" cy="2488.3" r="3.85"/><circle cx="477.1" cy="2487.1" r="3.85"/><circle cx="466.7" cy="2486.0" r="3.85"/><circle cx="456.3" cy="2485.0" r="3.85"/><circle cx="445.9" cy="2484.0" r="3.85"/><circle cx="435.5" cy="2483.0" r="3.85"/><circle cx="425.2" cy="2482.1" r="3.85"/><circle cx="414.9" cy="2481.0" r="3.85"/><circle cx="404.7" cy="2479.6" r="3.85"/><circle cx="394.5" cy="2478.2" r="3.85"/><circle cx="384.3" cy="2476.5" r="3.85"/><circle cx="374.0" cy="2474.8" r="3.85"/><circle cx="363.8" cy="2473.1" r="3.85"/><circle cx="354.0" cy="2471.2" r="3.85"/><circle cx="344.4" cy="2468.5" r="3.85"/><circle cx="335.0" cy="2465.1" r="3.85"/><circle cx="325.8" cy="2461.1" r="3.85"/><circle cx="316.8" cy="2456.5" r="3.85"/><circle cx="308.2" cy="2451.5" r="3.85"/><circle cx="299.9" cy="2445.9" r="3.85"/><circle cx="292.0" cy="2439.8" r="3.85"/><circle cx="284.5" cy="2433.1" r="3.85"/><circle cx="277.6" cy="2426.0" r="3.85"/><circle cx="271.2" cy="2418.4" r="3.85"/><circle cx="265.5" cy="2410.3" r="3.85"/><circle cx="260.7" cy="2401.7" r="3.85"/><circle cx="256.3" cy="2392.4" r="3.85"/><circle cx="251.4" cy="2382.9" r="3.85"/><circle cx="246.0" cy="2374.1" r="3.85"/><circle cx="241.6" cy="2365.3" r="3.85"/><circle cx="238.2" cy="2356.0" r="3.85"/><circle cx="235.1" cy="2346.3" r="3.85"/><circle cx="232.3" cy="2336.5" r="3.85"/><circle cx="229.8" cy="2326.5" r="3.85"/><circle cx="227.5" cy="2316.5" r="3.85"/><circle cx="225.3" cy="2306.4" r="3.85"/><circle cx="223.4" cy="2296.4" r="3.85"/><circle cx="221.9" cy="2286.3" r="3.85"/><circle cx="220.8" cy="2276.2" r="3.85"/><circle cx="220.0" cy="2266.0" r="3.85"/><circle cx="219.6" cy="2255.8" r="3.85"/><circle cx="219.5" cy="2245.4" r="3.85"/><circle cx="219.3" cy="2235.1" r="3.85"/><circle cx="219.3" cy="2224.7" r="3.85"/><circle cx="219.4" cy="2214.5" r="3.85"/><circle cx="219.8" cy="2204.2" r="3.85"/><circle cx="220.6" cy="2194.1" r="3.85"/><circle cx="221.9" cy="2184.1" r="3.85"/><circle cx="223.6" cy="2174.1" r="3.85"/><circle cx="225.8" cy="2164.3" r="3.85"/><circle cx="228.6" cy="2154.6" r="3.85"/><circle cx="232.0" cy="2145.0" r="3.85"/><circle cx="235.6" cy="2135.4" r="3.85"/><circle cx="239.4" cy="2125.7" r="3.85"/><circle cx="243.2" cy="2116.1" r="3.85"/><circle cx="247.1" cy="2106.4" r="3.85"/><circle cx="250.9" cy="2096.7" r="3.85"/><circle cx="254.8" cy="2087.2" r="3.85"/></g>
<g transform="translate(178,2135) scale(134,233)" opacity="0.3"><path d="M0.5,1 C0.2,1 0,0.82 0,0.62 C0,0.5 0.04,0.4 0.09,0.3 C0.12,0.42 0.16,0.52 0.22,0.6 C0.2,0.4 0.28,0.16 0.48,0 C0.5,0.1 0.56,0.16 0.66,0.22 C0.74,0.3 0.78,0.42 0.77,0.56 C0.84,0.5 0.9,0.42 0.93,0.34 C0.98,0.44 1,0.54 1,0.64 C1,0.84 0.8,1 0.5,1 Z" fill="#f7cdb8"/></g>
<g transform="translate(272,2078) scale(18,32)" opacity="0.3"><path d="M0.5,1 C0.2,1 0,0.82 0,0.62 C0,0.5 0.04,0.4 0.09,0.3 C0.12,0.42 0.16,0.52 0.22,0.6 C0.2,0.4 0.28,0.16 0.48,0 C0.5,0.1 0.56,0.16 0.66,0.22 C0.74,0.3 0.78,0.42 0.77,0.56 C0.84,0.5 0.9,0.42 0.93,0.34 C0.98,0.44 1,0.54 1,0.64 C1,0.84 0.8,1 0.5,1 Z" fill="#f7cdb8"/></g>
<g transform="translate(306,2122) scale(16,44)" opacity="0.3"><path d="M0.5,1 C0.2,1 0,0.82 0,0.62 C0,0.5 0.04,0.4 0.09,0.3 C0.12,0.42 0.16,0.52 0.22,0.6 C0.2,0.4 0.28,0.16 0.48,0 C0.5,0.1 0.56,0.16 0.66,0.22 C0.74,0.3 0.78,0.42 0.77,0.56 C0.84,0.5 0.9,0.42 0.93,0.34 C0.98,0.44 1,0.54 1,0.64 C1,0.84 0.8,1 0.5,1 Z" fill="#f7cdb8"/></g>
<path d="M791,2389 C782,2420 770,2445 752,2463 C730,2488 700,2506 666,2515 C652,2518 640,2519 629,2518.5 C645,2516 660,2512 672,2507 C705,2494 732,2474 750,2450 C768,2430 782,2410 791,2389 Z" fill="#ffffff" opacity="0.95"/>
<clipPath id="c4060_22980"><circle cx="406" cy="2298" r="115"/></clipPath>
<circle cx="406" cy="2298" r="115" fill="#f3b700"/>
<g clip-path="url(#c4060_22980)"><circle cx="416.4" cy="2283.1" r="105.8" fill="#fdd539"/>
<circle cx="445.1" cy="2248.6" r="44.9" fill="#fde8a2"/>
<ellipse cx="457.8" cy="2233.6" rx="21.9" ry="19.6" fill="#ffffff"/>
</g>
<circle cx="406" cy="2298" r="115" fill="none" stroke="#6f5a12" stroke-width="0.8"/>
<clipPath id="c3904_23330"><circle cx="390.4" cy="2333" r="38.7"/></clipPath>
<circle cx="390.4" cy="2333" r="38.7" fill="#f3b700"/>
<g clip-path="url(#c3904_23330)"><circle cx="386.9" cy="2328.0" r="35.6" fill="#fdd539"/>
<circle cx="377.2" cy="2316.4" r="15.1" fill="#fde8a2"/>
<ellipse cx="373.0" cy="2311.3" rx="7.4" ry="6.6" fill="#ffffff"/>
</g>
<circle cx="390.4" cy="2333" r="38.7" fill="none" stroke="#6f5a12" stroke-width="0.8"/>
<clipPath id="c4439_23070"><circle cx="443.9" cy="2307" r="17"/></clipPath>
<circle cx="443.9" cy="2307" r="17" fill="#f3b700"/>
<g clip-path="url(#c4439_23070)"><circle cx="442.4" cy="2304.8" r="15.6" fill="#fdd539"/>
<circle cx="438.1" cy="2299.7" r="6.6" fill="#fde8a2"/>
<ellipse cx="436.2" cy="2297.5" rx="3.2" ry="2.9" fill="#ffffff"/>
</g>
<circle cx="443.9" cy="2307" r="17" fill="none" stroke="#6f5a12" stroke-width="0.8"/>
<clipPath id="c4942_23220"><circle cx="494.2" cy="2322" r="40"/></clipPath>
<circle cx="494.2" cy="2322" r="40" fill="#f3b700"/>
<g clip-path="url(#c4942_23220)"><circle cx="490.6" cy="2316.8" r="36.8" fill="#fdd539"/>
<circle cx="480.6" cy="2304.8" r="15.6" fill="#fde8a2"/>
<ellipse cx="476.2" cy="2299.6" rx="7.6" ry="6.8" fill="#ffffff"/>
</g>
<circle cx="494.2" cy="2322" r="40" fill="none" stroke="#6f5a12" stroke-width="0.8"/>
<clipPath id="c4498_23355"><circle cx="449.8" cy="2335.5" r="21.3"/></clipPath>
<circle cx="449.8" cy="2335.5" r="21.3" fill="#f3b700"/>
<g clip-path="url(#c4498_23355)"><circle cx="447.9" cy="2332.7" r="19.6" fill="#fdd539"/>
<circle cx="442.6" cy="2326.3" r="8.3" fill="#fde8a2"/>
<ellipse cx="440.2" cy="2323.6" rx="4.0" ry="3.6" fill="#ffffff"/>
</g>
<circle cx="449.8" cy="2335.5" r="21.3" fill="none" stroke="#6f5a12" stroke-width="0.8"/>
<clipPath id="c4430_23960"><circle cx="443" cy="2396" r="72"/></clipPath>
<circle cx="443" cy="2396" r="72" fill="#f3b700"/>
<g clip-path="url(#c4430_23960)"><circle cx="436.5" cy="2386.6" r="66.2" fill="#fdd539"/>
<circle cx="418.5" cy="2365.0" r="28.1" fill="#fde8a2"/>
<ellipse cx="410.6" cy="2355.7" rx="13.7" ry="12.2" fill="#ffffff"/>
</g>
<circle cx="443" cy="2396" r="72" fill="none" stroke="#6f5a12" stroke-width="0.8"/>
<clipPath id="c5211_24265"><circle cx="521.1" cy="2426.5" r="52.7"/></clipPath>
<circle cx="521.1" cy="2426.5" r="52.7" fill="#f3b700"/>
<g clip-path="url(#c5211_24265)"><circle cx="525.8" cy="2419.6" r="48.5" fill="#fdd539"/>
<circle cx="539.0" cy="2403.8" r="20.6" fill="#fde8a2"/>
<ellipse cx="544.8" cy="2397.0" rx="10.0" ry="9.0" fill="#ffffff"/>
</g>
<circle cx="521.1" cy="2426.5" r="52.7" fill="none" stroke="#6f5a12" stroke-width="0.8"/>
<clipPath id="c4947_23748"><circle cx="494.7" cy="2374.8" r="20.5"/></clipPath>
<circle cx="494.7" cy="2374.8" r="20.5" fill="#f3b700"/>
<g clip-path="url(#c4947_23748)"><circle cx="496.5" cy="2372.1" r="18.9" fill="#fdd539"/>
<circle cx="501.7" cy="2366.0" r="8.0" fill="#fde8a2"/>
<ellipse cx="503.9" cy="2363.3" rx="3.9" ry="3.5" fill="#ffffff"/>
</g>
<circle cx="494.7" cy="2374.8" r="20.5" fill="none" stroke="#6f5a12" stroke-width="0.8"/>
<clipPath id="c4823_24068"><circle cx="482.3" cy="2406.8" r="21"/></clipPath>
<circle cx="482.3" cy="2406.8" r="21" fill="#f3b700"/>
<g clip-path="url(#c4823_24068)"><circle cx="480.4" cy="2404.1" r="19.3" fill="#fdd539"/>
<circle cx="475.2" cy="2397.8" r="8.2" fill="#fde8a2"/>
<ellipse cx="472.9" cy="2395.0" rx="4.0" ry="3.6" fill="#ffffff"/>
</g>
<circle cx="482.3" cy="2406.8" r="21" fill="none" stroke="#6f5a12" stroke-width="0.8"/>
<clipPath id="c3749_24234"><circle cx="374.9" cy="2423.4" r="19"/></clipPath>
<circle cx="374.9" cy="2423.4" r="19" fill="#f3b700"/>
<g clip-path="url(#c3749_24234)"><circle cx="376.6" cy="2420.9" r="17.5" fill="#fdd539"/>
<circle cx="381.4" cy="2415.2" r="7.4" fill="#fde8a2"/>
<ellipse cx="383.4" cy="2412.8" rx="3.6" ry="3.2" fill="#ffffff"/>
</g>
<circle cx="374.9" cy="2423.4" r="19" fill="none" stroke="#6f5a12" stroke-width="0.8"/>
<clipPath id="c4108_24146"><circle cx="410.8" cy="2414.6" r="21"/></clipPath>
<circle cx="410.8" cy="2414.6" r="21" fill="#f3b700"/>
<g clip-path="url(#c4108_24146)"><circle cx="412.7" cy="2411.9" r="19.3" fill="#fdd539"/>
<circle cx="417.9" cy="2405.6" r="8.2" fill="#fde8a2"/>
<ellipse cx="420.2" cy="2402.8" rx="4.0" ry="3.6" fill="#ffffff"/>
</g>
<circle cx="410.8" cy="2414.6" r="21" fill="none" stroke="#6f5a12" stroke-width="0.8"/>
<clipPath id="c3997_24456"><circle cx="399.7" cy="2445.6" r="21"/></clipPath>
<circle cx="399.7" cy="2445.6" r="21" fill="#f3b700"/>
<g clip-path="url(#c3997_24456)"><circle cx="401.6" cy="2442.9" r="19.3" fill="#fdd539"/>
<circle cx="406.8" cy="2436.6" r="8.2" fill="#fde8a2"/>
<ellipse cx="409.1" cy="2433.8" rx="4.0" ry="3.6" fill="#ffffff"/>
</g>
<circle cx="399.7" cy="2445.6" r="21" fill="none" stroke="#6f5a12" stroke-width="0.8"/>
<clipPath id="c7050_21500"><circle cx="705" cy="2150" r="48"/></clipPath>
<circle cx="705" cy="2150" r="48" fill="#f3b700"/>
<g clip-path="url(#c7050_21500)"><circle cx="709.3" cy="2143.8" r="44.2" fill="#fdd539"/>
<circle cx="721.3" cy="2129.4" r="18.7" fill="#fde8a2"/>
<ellipse cx="726.6" cy="2123.1" rx="9.1" ry="8.2" fill="#ffffff"/>
</g>
<circle cx="705" cy="2150" r="48" fill="none" stroke="#6f5a12" stroke-width="0.8"/>
<clipPath id="c6326_20946"><circle cx="632.6" cy="2094.6" r="17"/></clipPath>
<circle cx="632.6" cy="2094.6" r="17" fill="#f3b700"/>
<g clip-path="url(#c6326_20946)"><circle cx="631.1" cy="2092.4" r="15.6" fill="#fdd539"/>
<circle cx="626.8" cy="2087.3" r="6.6" fill="#fde8a2"/>
<ellipse cx="625.0" cy="2085.1" rx="3.2" ry="2.9" fill="#ffffff"/>
</g>
<circle cx="632.6" cy="2094.6" r="17" fill="none" stroke="#6f5a12" stroke-width="0.8"/>
<clipPath id="c6822_21093"><circle cx="682.2" cy="2109.3" r="40"/></clipPath>
<circle cx="682.2" cy="2109.3" r="40" fill="#f3b700"/>
<g clip-path="url(#c6822_21093)"><circle cx="678.6" cy="2104.1" r="36.8" fill="#fdd539"/>
<circle cx="668.6" cy="2092.1" r="15.6" fill="#fde8a2"/>
<ellipse cx="664.2" cy="2086.9" rx="7.6" ry="6.8" fill="#ffffff"/>
</g>
<circle cx="682.2" cy="2109.3" r="40" fill="none" stroke="#6f5a12" stroke-width="0.8"/>
<clipPath id="c6379_21220"><circle cx="637.9" cy="2122" r="21"/></clipPath>
<circle cx="637.9" cy="2122" r="21" fill="#f3b700"/>
<g clip-path="url(#c6379_21220)"><circle cx="636.0" cy="2119.3" r="19.3" fill="#fdd539"/>
<circle cx="630.8" cy="2113.0" r="8.2" fill="#fde8a2"/>
<ellipse cx="628.4" cy="2110.2" rx="4.0" ry="3.6" fill="#ffffff"/>
</g>
<circle cx="637.9" cy="2122" r="21" fill="none" stroke="#6f5a12" stroke-width="0.8"/>
<clipPath id="c7460_21205"><circle cx="746" cy="2120.5" r="21"/></clipPath>
<circle cx="746" cy="2120.5" r="21" fill="#f3b700"/>
<g clip-path="url(#c7460_21205)"><circle cx="744.1" cy="2117.8" r="19.3" fill="#fdd539"/>
<circle cx="738.9" cy="2111.5" r="8.2" fill="#fde8a2"/>
<ellipse cx="736.5" cy="2108.7" rx="4.0" ry="3.6" fill="#ffffff"/>
</g>
<circle cx="746" cy="2120.5" r="21" fill="none" stroke="#6f5a12" stroke-width="0.8"/>
<clipPath id="c6830_21626"><circle cx="683" cy="2162.6" r="21"/></clipPath>
<circle cx="683" cy="2162.6" r="21" fill="#f3b700"/>
<g clip-path="url(#c6830_21626)"><circle cx="684.9" cy="2159.9" r="19.3" fill="#fdd539"/>
<circle cx="690.1" cy="2153.6" r="8.2" fill="#fde8a2"/>
<ellipse cx="692.5" cy="2150.8" rx="4.0" ry="3.6" fill="#ffffff"/>
</g>
<circle cx="683" cy="2162.6" r="21" fill="none" stroke="#6f5a12" stroke-width="0.8"/>
<clipPath id="c7520_21810"><circle cx="752" cy="2181" r="21"/></clipPath>
<circle cx="752" cy="2181" r="21" fill="#f3b700"/>
<g clip-path="url(#c7520_21810)"><circle cx="750.1" cy="2178.3" r="19.3" fill="#fdd539"/>
<circle cx="744.9" cy="2172.0" r="8.2" fill="#fde8a2"/>
<ellipse cx="742.5" cy="2169.2" rx="4.0" ry="3.6" fill="#ffffff"/>
</g>
<circle cx="752" cy="2181" r="21" fill="none" stroke="#6f5a12" stroke-width="0.8"/>
<clipPath id="c7378_22002"><circle cx="737.8" cy="2200.2" r="20"/></clipPath>
<circle cx="737.8" cy="2200.2" r="20" fill="#f3b700"/>
<g clip-path="url(#c7378_22002)"><circle cx="736.0" cy="2197.6" r="18.4" fill="#fdd539"/>
<circle cx="731.0" cy="2191.6" r="7.8" fill="#fde8a2"/>
<ellipse cx="728.8" cy="2189.0" rx="3.8" ry="3.4" fill="#ffffff"/>
</g>
<circle cx="737.8" cy="2200.2" r="20" fill="none" stroke="#6f5a12" stroke-width="0.8"/>
<circle cx="711.5" cy="2169.5" r="15" fill="#fde8a2"/><ellipse cx="708.6" cy="2176" rx="8" ry="10" fill="#fff"/>
<clipPath id="c6830_21626"><circle cx="683" cy="2162.6" r="21"/></clipPath>
<circle cx="683" cy="2162.6" r="21" fill="#f3b700"/>
<g clip-path="url(#c6830_21626)"><circle cx="684.9" cy="2159.9" r="19.3" fill="#fdd539"/>
<circle cx="690.1" cy="2153.6" r="8.2" fill="#fde8a2"/>
<ellipse cx="692.5" cy="2150.8" rx="4.0" ry="3.6" fill="#ffffff"/>
</g>
<circle cx="683" cy="2162.6" r="21" fill="none" stroke="#6f5a12" stroke-width="0.8"/>
<g transform="translate(347.7,2154) rotate(-6)">
<rect x="-14.5" y="-40.0" width="29.0" height="80.0" rx="14.5" ry="14.5" fill="#dfc8aa" stroke="#404848" stroke-width="1.9"/>
<rect x="-12.3" y="-37.8" width="24.6" height="75.6" rx="12.3" ry="12.3" fill="none" stroke="#64a9a7" stroke-width="0.9"/>
<path d="M-12.3,-28.9 L6.4,-31.9 L6.4,-34.4 M12.3,-22.3 L-6.4,-19.3 L-6.4,-16.8 M-12.3,-11.8 L6.4,-14.8 L6.4,-17.3 M12.3,-5.3 L-6.4,-2.3 L-6.4,0.2 M-12.3,5.3 L6.4,2.3 L6.4,-0.2 M12.3,11.8 L-6.4,14.8 L-6.4,17.3 M-12.3,22.3 L6.4,19.3 L6.4,16.8 M12.3,28.9 L-6.4,31.9 L-6.4,34.4 " stroke="#5a2c2c" stroke-width="1.5" fill="none" stroke-linejoin="round"/>
</g>
<g transform="translate(269.5,2181) rotate(42)">
<rect x="-16.5" y="-35.0" width="33.0" height="70.0" rx="16.5" ry="16.5" fill="#dfc8aa" stroke="#404848" stroke-width="1.9"/>
<rect x="-14.3" y="-32.8" width="28.6" height="65.6" rx="14.3" ry="14.3" fill="none" stroke="#64a9a7" stroke-width="0.9"/>
<path d="M-14.3,-22.5 L7.3,-25.5 L7.3,-28.0 M14.3,-16.6 L-7.3,-13.6 L-7.3,-11.1 M-14.3,-6.8 L7.3,-9.8 L7.3,-12.3 M14.3,-1.0 L-7.3,2.0 L-7.3,4.5 M-14.3,8.8 L7.3,5.8 L7.3,3.3 M14.3,14.6 L-7.3,17.6 L-7.3,20.1 M-14.3,24.5 L7.3,21.5 L7.3,19.0 " stroke="#5a2c2c" stroke-width="1.5" fill="none" stroke-linejoin="round"/>
</g>
<g transform="translate(311.8,2220) rotate(-8)">
<rect x="-19.0" y="-34.0" width="38.0" height="68.0" rx="19.0" ry="19.0" fill="#dfc8aa" stroke="#404848" stroke-width="1.9"/>
<rect x="-16.8" y="-31.8" width="33.6" height="63.6" rx="16.8" ry="16.8" fill="none" stroke="#64a9a7" stroke-width="0.9"/>
<path d="M-16.8,-19.7 L8.4,-22.7 L8.4,-25.2 M16.8,-14.8 L-8.4,-11.8 L-8.4,-9.3 M-16.8,-5.9 L8.4,-8.9 L8.4,-11.4 M16.8,-1.0 L-8.4,2.0 L-8.4,4.5 M-16.8,7.9 L8.4,4.9 L8.4,2.4 M16.8,12.8 L-8.4,15.8 L-8.4,18.3 M-16.8,21.7 L8.4,18.7 L8.4,16.2 " stroke="#5a2c2c" stroke-width="1.5" fill="none" stroke-linejoin="round"/>
</g>
<g transform="translate(263,2267) rotate(-4)">
<rect x="-14.0" y="-41.0" width="28.0" height="82.0" rx="14.0" ry="14.0" fill="#dfc8aa" stroke="#404848" stroke-width="1.9"/>
<rect x="-11.8" y="-38.8" width="23.6" height="77.6" rx="11.8" ry="11.8" fill="none" stroke="#64a9a7" stroke-width="0.9"/>
<path d="M-11.8,-30.2 L6.2,-33.2 L6.2,-35.7 M11.8,-23.3 L-6.2,-20.3 L-6.2,-17.8 M-11.8,-12.4 L6.2,-15.4 L6.2,-17.9 M11.8,-5.5 L-6.2,-2.5 L-6.2,0.0 M-11.8,5.5 L6.2,2.5 L6.2,-0.0 M11.8,12.4 L-6.2,15.4 L-6.2,17.9 M-11.8,23.3 L6.2,20.3 L6.2,17.8 M11.8,30.2 L-6.2,33.2 L-6.2,35.7 " stroke="#5a2c2c" stroke-width="1.5" fill="none" stroke-linejoin="round"/>
</g>
<g transform="translate(370.2,2263.5) rotate(38)">
<rect x="-15.0" y="-33.0" width="30.0" height="66.0" rx="15.0" ry="15.0" fill="#dfc8aa" stroke="#404848" stroke-width="1.9"/>
<rect x="-12.8" y="-30.8" width="25.6" height="61.6" rx="12.8" ry="12.8" fill="none" stroke="#64a9a7" stroke-width="0.9"/>
<path d="M-12.8,-21.5 L6.6,-24.5 L6.6,-27.0 M12.8,-14.5 L-6.6,-11.5 L-6.6,-9.0 M-12.8,-3.5 L6.6,-6.5 L6.6,-9.0 M12.8,3.5 L-6.6,6.5 L-6.6,9.0 M-12.8,14.5 L6.6,11.5 L6.6,9.0 M12.8,21.5 L-6.6,24.5 L-6.6,27.0 " stroke="#5a2c2c" stroke-width="1.5" fill="none" stroke-linejoin="round"/>
</g>
<g transform="translate(305.5,2306) rotate(-6)">
<rect x="-14.0" y="-25.0" width="28.0" height="50.0" rx="14.0" ry="14.0" fill="#dfc8aa" stroke="#404848" stroke-width="1.9"/>
<rect x="-11.8" y="-22.8" width="23.6" height="45.6" rx="11.8" ry="11.8" fill="none" stroke="#64a9a7" stroke-width="0.9"/>
<path d="M-11.8,-14.2 L6.2,-17.2 L6.2,-19.7 M11.8,-8.6 L-6.2,-5.6 L-6.2,-3.1 M-11.8,1.0 L6.2,-2.0 L6.2,-4.5 M11.8,6.6 L-6.2,9.6 L-6.2,12.1 M-11.8,16.2 L6.2,13.2 L6.2,10.7 " stroke="#5a2c2c" stroke-width="1.5" fill="none" stroke-linejoin="round"/>
</g>
<g transform="translate(346.4,2324) rotate(-8)">
<rect x="-10.0" y="-24.0" width="20.0" height="48.0" rx="10.0" ry="10.0" fill="#dfc8aa" stroke="#404848" stroke-width="1.9"/>
<rect x="-7.8" y="-21.8" width="15.6" height="43.6" rx="7.8" ry="7.8" fill="none" stroke="#64a9a7" stroke-width="0.9"/>
<path d="M-7.8,-16.0 L4.4,-19.0 L4.4,-21.5 M7.8,-9.5 L-4.4,-6.5 L-4.4,-4.0 M-7.8,1.0 L4.4,-2.0 L4.4,-4.5 M7.8,7.5 L-4.4,10.5 L-4.4,13.0 M-7.8,18.0 L4.4,15.0 L4.4,12.5 " stroke="#5a2c2c" stroke-width="1.5" fill="none" stroke-linejoin="round"/>
</g>
<g transform="translate(269.3,2348) rotate(-10)">
<rect x="-16.0" y="-24.0" width="32.0" height="48.0" rx="16.0" ry="16.0" fill="#dfc8aa" stroke="#404848" stroke-width="1.9"/>
<rect x="-13.8" y="-21.8" width="27.6" height="43.6" rx="13.8" ry="13.8" fill="none" stroke="#64a9a7" stroke-width="0.9"/>
<path d="M-13.8,-11.8 L7.0,-14.8 L7.0,-17.3 M13.8,-7.4 L-7.0,-4.4 L-7.0,-1.9 M-13.8,1.0 L7.0,-2.0 L7.0,-4.5 M13.8,5.4 L-7.0,8.4 L-7.0,10.9 M-13.8,13.8 L7.0,10.8 L7.0,8.3 " stroke="#5a2c2c" stroke-width="1.5" fill="none" stroke-linejoin="round"/>
</g>
<g transform="translate(640.9,2170.5) rotate(-8)">
<rect x="-10.5" y="-23.5" width="21.0" height="47.0" rx="10.5" ry="10.5" fill="#dfc8aa" stroke="#404848" stroke-width="1.9"/>
<rect x="-8.3" y="-21.3" width="16.6" height="42.6" rx="8.3" ry="8.3" fill="none" stroke="#64a9a7" stroke-width="0.9"/>
<path d="M-8.3,-15.1 L4.6,-18.1 L4.6,-20.6 M8.3,-6.4 L-4.6,-3.4 L-4.6,-0.9 M-8.3,6.4 L4.6,3.4 L4.6,0.9 M8.3,15.1 L-4.6,18.1 L-4.6,20.6 " stroke="#5a2c2c" stroke-width="1.5" fill="none" stroke-linejoin="round"/>
</g>
<g transform="translate(779.8,2220.5) rotate(35)">
<rect x="-15.0" y="-33.0" width="30.0" height="66.0" rx="15.0" ry="15.0" fill="#dfc8aa" stroke="#404848" stroke-width="1.9"/>
<rect x="-12.8" y="-30.8" width="25.6" height="61.6" rx="12.8" ry="12.8" fill="none" stroke="#64a9a7" stroke-width="0.9"/>
<path d="M-12.8,-21.5 L6.6,-24.5 L6.6,-27.0 M12.8,-14.5 L-6.6,-11.5 L-6.6,-9.0 M-12.8,-3.5 L6.6,-6.5 L6.6,-9.0 M12.8,3.5 L-6.6,6.5 L-6.6,9.0 M-12.8,14.5 L6.6,11.5 L6.6,9.0 M12.8,21.5 L-6.6,24.5 L-6.6,27.0 " stroke="#5a2c2c" stroke-width="1.5" fill="none" stroke-linejoin="round"/>
</g>
<circle cx="668" cy="2332" r="111.5" fill="url(#nucg)"/>
<path d="M627.8,2412.4 L609.7,2344.1 M610.7,2318.9 L666.9,2249.7 M725.8,2345.9 L660.0,2392.0 M612.6,2360.4 L682.0,2266.0 M608.1,2270.3 L743.6,2343.8 M767.6,2317.0 L728.7,2368.7 M712.3,2388.6 L651.2,2429.1 M705.6,2412.9 L594.9,2350.1 M611.8,2314.6 L633.5,2275.1 M637.4,2266.6 L741.6,2286.6 M574.8,2360.2 L611.0,2259.3 M671.1,2415.2 L567.4,2317.7 M654.2,2225.8 L721.6,2301.0 M612.5,2363.4 L670.4,2250.7 M760.9,2355.4 L618.7,2402.2 M733.4,2267.0 L746.4,2369.4 M580.5,2284.0 L713.2,2236.9 M609.8,2341.5 L685.9,2241.2 M608.5,2253.1 L733.9,2357.5 M625.1,2369.4 L640.5,2256.9 M697.0,2383.2 L637.9,2423.2 M720.4,2387.4 L634.5,2427.7 M741.9,2373.0 L625.1,2424.6 M697.7,2268.2 L696.6,2404.0 M601.1,2414.1 L662.3,2268.6 M698.4,2392.8 L622.1,2399.0 M620.6,2302.3 L676.9,2254.8 M596.0,2409.4 L611.7,2259.4 M577.2,2323.1 L688.7,2277.2 M750.0,2272.1 L672.1,2429.5 M620.3,2370.3 L601.2,2273.2 M729.7,2357.4 L695.7,2390.0 M638.1,2379.1 L607.2,2350.8 M713.9,2366.0 L629.0,2425.8 M616.0,2286.7 L671.2,2258.1 M602.1,2407.5 L560.2,2332.8 M609.1,2344.8 L654.9,2272.3 M613.5,2414.9 L604.4,2323.0 M750.6,2344.1 L612.2,2362.1 M587.6,2309.6 L603.6,2246.5" stroke="#f07a5a" stroke-width="0.6" opacity="0.75" fill="none"/>
<path d="M661.8,2438.8h1M733.4,2304.7h1M679.8,2394.9h1M697.4,2431.9h1M571.7,2344.5h1M665.6,2385.2h1M584.7,2316.0h1M694.9,2250.7h1M605.1,2376.8h1M709.6,2402.0h1M615.8,2254.3h1M576.4,2346.9h1M592.7,2308.4h1M650.3,2385.5h1M691.3,2425.4h1M674.2,2435.4h1M586.1,2377.7h1M607.2,2348.4h1M727.7,2298.0h1M572.4,2317.8h1M711.7,2429.7h1M713.5,2408.5h1M624.3,2235.5h1M683.9,2237.6h1M697.4,2408.0h1M565.9,2363.6h1M655.8,2355.7h1M586.2,2309.3h1M757.2,2297.6h1M661.8,2434.6h1M731.2,2405.7h1M763.1,2378.6h1M617.7,2241.2h1M659.2,2291.3h1M735.4,2270.9h1M742.0,2309.2h1M767.7,2325.6h1M591.9,2366.9h1M700.2,2422.7h1M714.3,2280.0h1M579.3,2322.2h1M699.0,2314.6h1M663.8,2362.4h1M670.9,2251.7h1M750.1,2303.0h1M568.8,2322.8h1M650.4,2427.3h1M735.4,2279.9h1M755.6,2386.5h1M599.4,2320.3h1M575.2,2299.9h1M722.6,2389.6h1M742.1,2392.8h1M699.4,2432.6h1M674.1,2230.0h1M713.0,2424.4h1M667.7,2433.3h1M684.6,2395.5h1M611.5,2245.0h1M680.5,2391.3h1M582.2,2325.0h1M734.8,2264.6h1M609.1,2272.8h1M744.7,2359.8h1M577.3,2328.6h1M640.8,2259.7h1M655.3,2438.1h1M617.1,2426.1h1M742.8,2348.4h1M701.3,2406.4h1M649.6,2431.9h1M683.0,2242.1h1M633.7,2311.2h1M599.4,2259.2h1M722.9,2413.0h1M642.2,2363.2h1M655.6,2256.4h1M714.8,2253.2h1M682.2,2402.1h1M711.9,2247.7h1M637.5,2250.0h1M737.8,2409.2h1M719.8,2245.4h1M674.6,2390.2h1M679.6,2394.9h1M700.8,2262.7h1M589.5,2324.1h1M692.8,2316.3h1M599.0,2255.8h1M616.5,2423.2h1M645.4,2359.4h1M617.8,2237.9h1M644.1,2368.6h1M682.7,2412.3h1M591.7,2352.1h1M659.7,2402.5h1M625.6,2308.2h1M769.0,2301.1h1M725.3,2282.7h1M739.5,2278.5h1M765.2,2334.2h1M636.9,2423.9h1M625.4,2428.7h1M668.4,2248.6h1M742.7,2294.8h1M628.4,2373.0h1M615.9,2394.4h1M762.5,2361.6h1M720.0,2309.7h1M564.6,2324.9h1M768.9,2303.5h1M740.0,2288.5h1M653.0,2254.7h1M698.4,2258.2h1M737.8,2288.9h1M586.2,2380.4h1M660.7,2229.3h1M674.5,2423.0h1M665.9,2390.9h1M682.0,2405.4h1M713.4,2386.6h1M610.8,2419.8h1M662.4,2438.2h1M589.7,2379.8h1M596.9,2401.5h1M650.5,2432.0h1M590.6,2330.3h1M661.5,2380.8h1M570.3,2366.6h1M766.0,2345.5h1M707.6,2259.0h1M567.5,2314.2h1M688.2,2236.3h1M770.6,2313.7h1M718.5,2259.1h1M681.6,2252.2h1M571.0,2286.8h1M703.1,2396.8h1M670.7,2390.9h1M683.5,2424.6h1M638.3,2420.4h1M731.4,2275.3h1M669.8,2429.5h1M649.1,2374.7h1M663.7,2396.7h1M745.7,2348.9h1M626.3,2239.4h1M683.9,2399.4h1M589.0,2319.7h1M751.0,2306.2h1M684.2,2427.5h1M649.9,2364.5h1M705.8,2344.8h1M753.6,2268.3h1M669.0,2385.6h1M757.7,2350.2h1M604.2,2396.7h1M769.7,2333.8h1M767.0,2303.6h1M638.0,2369.8h1M734.3,2353.2h1M753.4,2284.7h1M751.6,2268.8h1M708.5,2233.0h1M752.6,2350.8h1M667.1,2278.3h1M656.7,2411.9h1M645.2,2364.2h1M653.9,2253.7h1M762.5,2373.1h1M650.0,2249.9h1M654.8,2367.7h1M773.6,2337.8h1M639.8,2258.0h1M735.9,2251.2h1M649.8,2361.7h1M748.1,2366.5h1M619.0,2427.0h1M658.2,2436.8h1M561.6,2333.0h1M676.8,2420.6h1M588.3,2303.9h1M717.1,2255.6h1M596.4,2405.5h1M669.4,2419.8h1M745.5,2263.0h1M593.3,2389.1h1M676.9,2407.7h1M723.2,2278.4h1M766.0,2357.4h1M706.0,2427.3h1M737.9,2299.2h1M663.6,2402.8h1M639.6,2312.4h1M605.2,2400.0h1M664.7,2437.6h1M592.9,2305.3h1M595.9,2263.4h1M561.5,2334.9h1M695.6,2238.7h1M579.2,2312.7h1M655.9,2422.4h1M722.8,2264.3h1M586.3,2379.3h1M688.8,2392.4h1M756.2,2335.3h1M702.5,2259.2h1M705.6,2393.3h1M600.1,2249.3h1M610.3,2276.3h1M729.2,2411.9h1M759.8,2285.6h1M703.8,2232.1h1M722.2,2387.3h1M737.5,2356.2h1M733.5,2287.0h1M677.5,2290.7h1M727.3,2246.3h1M684.7,2414.2h1M593.7,2398.7h1M651.3,2227.4h1M593.3,2301.2h1M713.8,2258.0h1M567.2,2299.2h1M587.1,2376.4h1M617.1,2253.1h1M765.4,2346.4h1M676.6,2424.2h1M706.5,2251.0h1M605.1,2409.5h1M626.5,2269.2h1M762.3,2281.8h1M670.8,2390.2h1M692.4,2301.4h1M670.0,2403.7h1M719.5,2419.3h1M651.9,2353.8h1M737.3,2279.3h1M627.9,2331.4h1M661.6,2411.5h1M762.0,2354.1h1M764.7,2291.2h1M677.5,2289.5h1M598.5,2251.9h1M598.8,2294.0h1M749.4,2328.4h1M695.2,2244.0h1M616.6,2393.9h1M706.5,2409.7h1M705.2,2252.7h1M657.8,2354.2h1M593.4,2322.2h1M746.3,2271.7h1M607.5,2245.2h1M602.5,2416.5h1M685.1,2436.8h1M694.6,2422.0h1M729.2,2401.2h1M714.7,2395.7h1M641.5,2376.1h1M683.8,2391.5h1M677.0,2392.0h1M589.1,2316.2h1M761.0,2367.7h1M586.3,2304.9h1M692.6,2406.8h1M609.5,2259.8h1M637.2,2410.8h1M746.7,2266.4h1M713.2,2278.9h1M623.2,2265.6h1M634.5,2289.4h1M763.4,2296.2h1M600.1,2254.1h1M682.4,2395.6h1M637.1,2330.6h1M696.4,2424.9h1M632.5,2361.9h1M723.7,2257.3h1M573.4,2310.0h1M765.6,2335.9h1M706.4,2298.1h1M594.4,2288.2h1M760.5,2351.4h1M706.4,2404.8h1M630.3,2231.9h1M725.1,2277.6h1M742.4,2271.5h1M763.2,2297.3h1M749.0,2400.7h1M604.5,2260.7h1M642.2,2373.8h1M642.7,2379.1h1M646.2,2436.7h1M629.8,2412.1h1M714.2,2269.6h1M588.9,2380.2h1M701.5,2245.4h1M659.7,2385.6h1M644.4,2427.9h1M617.7,2403.3h1M716.1,2400.4h1M599.2,2295.3h1M679.9,2433.9h1M575.4,2337.7h1M728.4,2378.6h1M759.7,2287.8h1M718.9,2264.9h1M753.0,2271.2h1M740.1,2267.6h1M566.0,2311.5h1M714.7,2278.7h1M663.7,2245.9h1M683.4,2227.9h1M576.7,2354.2h1M697.2,2407.9h1M648.3,2362.6h1M565.3,2317.6h1M707.2,2429.8h1M668.6,2395.4h1M730.5,2416.1h1M652.7,2433.3h1M710.2,2294.9h1M727.7,2254.4h1M766.0,2320.2h1M663.4,2434.5h1M672.3,2419.7h1M646.3,2353.5h1M651.7,2352.5h1M632.6,2416.6h1M587.3,2376.6h1M708.2,2408.4h1M709.0,2264.8h1M728.5,2336.0h1M667.7,2366.5h1M585.7,2315.1h1M648.8,2239.8h1M697.3,2244.2h1M636.6,2260.2h1M663.0,2379.6h1M600.3,2394.1h1M760.0,2277.9h1M645.9,2364.0h1M682.9,2407.4h1M688.1,2414.7h1M580.9,2317.0h1M627.5,2283.8h1M648.1,2401.7h1M715.8,2249.8h1M629.0,2370.5h1M708.6,2427.3h1M639.9,2380.2h1M595.1,2260.6h1M654.4,2371.1h1M575.9,2292.4h1M624.6,2395.8h1M596.8,2312.9h1M732.7,2413.0h1M704.3,2241.1h1M590.9,2268.6h1M694.0,2313.5h1M648.4,2382.1h1M699.4,2257.7h1M717.3,2238.2h1M570.9,2341.6h1M581.0,2315.6h1M712.5,2262.7h1M618.4,2247.7h1M595.2,2372.7h1M617.3,2273.0h1M597.1,2273.6h1M728.5,2325.0h1M745.1,2274.2h1M701.9,2412.2h1M568.5,2315.9h1M588.6,2366.2h1M714.0,2244.1h1M600.7,2330.4h1M769.9,2315.9h1M706.7,2253.9h1M699.3,2331.3h1M585.0,2387.6h1M741.1,2391.4h1M675.3,2259.4h1M565.3,2303.1h1M621.6,2242.8h1M697.6,2339.5h1M711.3,2404.3h1M710.2,2282.5h1M663.7,2417.7h1M625.3,2425.1h1M710.5,2274.5h1M705.9,2259.6h1M593.3,2396.1h1M564.3,2348.1h1M606.8,2253.6h1M771.9,2342.2h1M675.9,2386.8h1M565.3,2350.0h1M569.8,2363.4h1M666.9,2267.9h1M673.3,2242.6h1M565.4,2333.2h1M763.7,2364.9h1M747.5,2260.5h1M714.2,2274.8h1M736.7,2359.1h1M574.6,2369.8h1M694.5,2245.7h1M707.5,2267.3h1M670.9,2233.8h1M594.7,2261.6h1M724.0,2272.0h1M719.4,2403.8h1M750.8,2319.6h1M594.1,2404.8h1M585.6,2358.1h1M657.8,2421.3h1M687.1,2241.4h1M747.4,2266.8h1M743.3,2320.3h1M682.4,2247.9h1M574.3,2308.0h1M690.8,2237.5h1M723.1,2352.8h1M644.7,2372.9h1M570.3,2309.4h1M586.9,2392.3h1M716.0,2248.8h1M698.4,2429.3h1M703.9,2233.9h1M603.1,2411.6h1M714.5,2307.4h1M605.1,2346.7h1M772.5,2352.2h1M682.0,2391.6h1M593.0,2298.3h1M723.2,2269.5h1M708.2,2403.7h1M758.5,2384.5h1M741.4,2254.5h1M760.9,2371.7h1M736.1,2395.8h1M596.5,2301.3h1M600.1,2385.9h1M764.1,2311.0h1M742.0,2350.3h1M752.8,2272.6h1M673.2,2309.6h1M704.0,2261.5h1M641.7,2415.1h1M658.4,2388.9h1M595.2,2400.7h1M746.9,2268.5h1M720.2,2411.0h1M606.5,2275.2h1M714.0,2256.8h1M757.3,2377.6h1M675.8,2408.8h1M615.8,2424.3h1M584.2,2358.4h1M716.0,2397.5h1M766.0,2347.8h1M699.5,2243.1h1M568.5,2360.1h1M571.0,2323.8h1M577.9,2311.3h1M699.1,2247.0h1M587.9,2398.1h1M717.1,2245.6h1M618.9,2272.8h1M569.6,2325.3h1M676.2,2402.0h1M650.1,2437.3h1M677.4,2407.9h1M671.6,2381.6h1M724.6,2397.9h1M585.0,2313.5h1M725.1,2254.5h1M648.9,2426.2h1M641.2,2349.1h1M624.0,2257.2h1M771.3,2322.7h1M645.8,2359.4h1M572.4,2322.6h1M705.6,2233.2h1M712.6,2367.8h1M755.0,2346.1h1M671.5,2416.9h1M711.9,2404.8h1M737.4,2380.1h1M756.9,2341.9h1M575.7,2318.6h1M728.9,2266.7h1M731.5,2393.9h1M650.1,2427.3h1M737.1,2412.3h1M631.5,2314.0h1M708.2,2254.3h1M598.8,2369.8h1M601.9,2382.9h1M694.1,2251.8h1M747.3,2324.9h1M573.4,2293.8h1M624.7,2239.8h1M754.0,2338.3h1M620.2,2426.8h1M598.6,2327.7h1M698.7,2253.5h1M655.6,2316.7h1M637.9,2365.5h1M745.1,2406.0h1M771.7,2358.2h1M720.9,2424.0h1M750.8,2273.0h1M764.9,2287.8h1M742.1,2266.9h1M655.9,2411.0h1M649.8,2366.4h1M583.0,2313.8h1M587.7,2343.2h1M625.7,2405.0h1M771.0,2312.1h1M708.8,2319.3h1M655.3,2433.1h1M744.5,2360.6h1M583.9,2265.9h1M672.6,2400.7h1M681.7,2418.9h1M700.5,2406.5h1M586.9,2264.2h1M688.2,2306.4h1M630.6,2291.8h1M718.2,2265.4h1M581.3,2333.2h1M600.4,2370.3h1M608.0,2388.7h1M651.4,2235.1h1M571.5,2297.0h1M691.2,2234.4h1M590.1,2360.6h1M732.3,2414.9h1M748.1,2381.4h1M712.1,2265.6h1M625.1,2353.3h1M744.6,2355.5h1M750.9,2286.6h1M754.3,2331.1h1M629.9,2243.7h1M585.1,2275.9h1M582.0,2318.2h1M581.7,2394.0h1M736.9,2267.1h1M595.8,2360.5h1M607.0,2320.3h1M632.9,2408.9h1M726.3,2380.5h1M682.3,2392.4h1M562.8,2324.3h1M707.8,2420.0h1M695.7,2241.5h1M719.0,2269.4h1M637.9,2416.6h1M627.0,2259.5h1M569.1,2297.6h1M674.2,2396.2h1M713.8,2410.5h1M718.8,2425.2h1M696.9,2254.3h1M681.8,2226.2h1M703.1,2246.6h1M763.1,2371.8h1M729.6,2278.6h1M616.9,2283.9h1M762.0,2288.4h1M734.6,2282.9h1M600.4,2281.2h1M741.9,2307.8h1M647.6,2230.2h1M741.9,2258.4h1M591.6,2317.4h1M742.2,2264.3h1M617.1,2418.0h1M620.3,2265.3h1M734.4,2291.6h1M575.1,2351.5h1M649.5,2431.7h1M703.7,2369.9h1M692.4,2230.2h1M694.4,2240.9h1M689.7,2433.6h1M650.1,2374.0h1M575.7,2360.3h1M640.1,2369.7h1M605.1,2375.2h1M668.4,2235.6h1M721.9,2259.6h1M713.5,2267.9h1M755.7,2384.6h1M636.7,2280.8h1M599.6,2413.1h1M756.6,2370.9h1M739.8,2404.8h1M595.1,2382.6h1M711.7,2400.6h1M704.5,2244.3h1M757.2,2332.0h1M659.5,2364.0h1M588.1,2313.8h1M702.2,2433.2h1M767.3,2357.0h1M704.3,2400.4h1M754.4,2288.4h1M751.3,2296.4h1M655.3,2366.2h1M587.8,2314.0h1M703.4,2242.5h1M666.6,2242.4h1M738.9,2376.9h1M739.0,2298.7h1M691.8,2259.8h1M704.4,2402.3h1M704.2,2402.5h1M584.1,2314.2h1M577.3,2388.2h1M736.4,2411.2h1M588.3,2314.9h1M611.2,2262.5h1M644.5,2245.7h1M603.6,2263.9h1M766.9,2293.7h1M757.6,2320.3h1M690.6,2412.3h1M578.5,2339.5h1M712.9,2369.4h1M628.0,2346.4h1M579.7,2298.6h1M774.0,2318.5h1M711.0,2244.1h1M570.8,2374.6h1M772.7,2337.5h1M654.3,2356.3h1M734.7,2411.3h1M707.1,2405.7h1M718.0,2420.9h1M625.7,2412.9h1M627.4,2376.1h1M714.5,2249.2h1M573.2,2289.6h1M741.7,2282.1h1M589.5,2332.2h1M576.0,2280.6h1M713.7,2408.6h1M571.1,2344.6h1M770.2,2352.8h1M715.1,2391.3h1M642.0,2228.6h1M749.0,2336.5h1M655.7,2255.0h1M701.5,2237.3h1M579.3,2349.6h1M582.2,2373.5h1M723.4,2399.6h1M656.4,2308.8h1M584.2,2291.8h1M621.0,2269.6h1M744.9,2264.3h1M621.7,2235.6h1M615.5,2248.7h1M580.9,2382.5h1M591.9,2390.0h1M749.7,2264.4h1M729.6,2259.6h1M566.4,2312.1h1M570.3,2297.5h1M747.0,2399.9h1M752.3,2378.5h1M575.5,2368.9h1M649.8,2251.7h1M754.9,2326.9h1M710.7,2254.5h1M764.9,2307.1h1M702.4,2408.0h1M764.3,2357.8h1M720.2,2381.3h1M699.3,2329.8h1M653.7,2228.3h1M723.0,2247.1h1M719.2,2271.6h1M703.1,2243.3h1M579.2,2303.9h1M743.9,2293.6h1M699.6,2416.7h1M729.1,2384.9h1M701.5,2230.4h1M641.9,2433.6h1M723.4,2402.8h1M637.7,2256.0h1M661.2,2342.4h1M741.7,2256.5h1M703.2,2409.6h1M726.5,2252.7h1M679.7,2420.9h1M618.0,2391.7h1M733.2,2402.2h1M706.9,2248.2h1M581.4,2349.4h1M627.6,2399.8h1M668.8,2429.3h1M707.7,2398.8h1M768.1,2326.6h1M580.8,2280.9h1M679.7,2395.0h1M573.8,2286.4h1M598.4,2305.3h1M675.5,2242.2h1M610.0,2266.1h1M584.0,2388.4h1M620.6,2427.6h1M616.7,2388.6h1M607.4,2416.3h1M740.9,2255.3h1M578.8,2290.9h1M761.7,2373.5h1M653.0,2230.6h1M722.4,2302.6h1M708.6,2416.6h1M677.7,2269.5h1M640.6,2334.7h1M664.2,2412.6h1M655.9,2438.3h1M596.0,2384.6h1M675.1,2393.3h1M740.1,2371.2h1M708.4,2378.8h1M742.4,2258.0h1M645.4,2375.2h1M709.5,2258.9h1M748.7,2381.2h1M634.8,2368.2h1M634.6,2406.8h1M589.5,2378.4h1M709.6,2336.9h1M724.3,2244.0h1M611.7,2415.9h1M709.2,2327.2h1M598.8,2268.1h1M750.9,2348.7h1M684.0,2395.6h1M764.0,2294.6h1M563.4,2348.1h1M708.3,2251.9h1M595.3,2259.7h1M697.6,2433.7h1M600.3,2278.7h1M728.9,2254.2h1M617.0,2401.4h1M724.7,2263.4h1M590.9,2396.6h1M725.4,2280.5h1M715.3,2260.8h1M754.8,2274.6h1M589.7,2315.7h1M613.7,2402.6h1M649.7,2432.2h1M749.1,2322.5h1M746.3,2297.5h1M655.9,2369.2h1M741.9,2255.4h1M588.2,2265.8h1M741.8,2357.1h1M755.0,2358.0h1M588.8,2366.4h1M697.7,2249.5h1M655.4,2368.6h1M668.8,2235.3h1M584.0,2382.3h1M730.2,2254.4h1M696.0,2228.8h1M578.2,2329.3h1M750.3,2395.7h1M711.1,2290.8h1M737.7,2411.9h1M628.9,2241.1h1M684.9,2396.2h1M697.0,2326.6h1M713.0,2354.0h1M657.4,2420.6h1M742.0,2354.9h1M642.9,2380.7h1M646.6,2436.7h1M769.6,2327.7h1M590.8,2373.2h1M723.5,2409.6h1M744.2,2275.3h1M576.1,2331.4h1M729.0,2265.1h1M602.1,2269.5h1M716.0,2260.8h1M631.3,2415.8h1M666.2,2254.8h1M598.7,2286.6h1M615.7,2276.7h1M647.4,2246.8h1M592.1,2266.9h1M605.7,2266.6h1M595.6,2270.1h1M655.0,2260.3h1M685.3,2426.4h1M591.8,2320.5h1M692.3,2377.7h1M614.5,2266.9h1M763.1,2358.5h1M736.6,2398.9h1M752.2,2395.5h1M594.9,2354.3h1M774.4,2330.0h1M579.2,2344.2h1M711.4,2402.2h1M642.5,2363.7h1M698.5,2427.6h1M709.0,2416.9h1M628.2,2411.2h1M647.0,2307.8h1M594.9,2370.3h1M711.7,2240.5h1M670.0,2231.5h1M607.6,2283.7h1M728.7,2248.2h1M640.1,2366.1h1M671.9,2230.3h1M567.6,2334.1h1M723.8,2279.2h1M712.0,2269.2h1M587.0,2336.4h1M662.8,2245.4h1M625.4,2241.8h1M703.9,2263.2h1M696.7,2349.8h1M750.0,2361.5h1M705.8,2254.6h1M634.9,2353.9h1M699.7,2251.3h1M663.7,2387.3h1M732.6,2252.8h1M584.8,2377.6h1M739.5,2252.7h1M684.0,2383.3h1M593.1,2408.1h1M583.4,2282.8h1M709.4,2309.0h1M630.7,2419.2h1M580.2,2294.1h1M697.1,2234.3h1M641.6,2355.8h1M693.6,2416.5h1M692.4,2360.3h1M742.4,2338.7h1M699.2,2402.2h1M689.9,2419.7h1M740.6,2290.8h1M754.4,2390.9h1M631.0,2274.7h1M717.4,2404.5h1M721.2,2279.9h1M642.7,2240.9h1M663.5,2420.5h1M757.6,2300.1h1M757.6,2317.3h1M642.0,2430.4h1M579.0,2317.6h1M669.5,2389.2h1M617.3,2256.3h1M572.3,2338.1h1M665.6,2392.4h1M672.0,2229.7h1M679.7,2228.0h1M643.2,2408.7h1M762.0,2332.8h1M635.6,2431.6h1M563.6,2344.5h1M746.5,2396.7h1M581.5,2357.1h1M714.2,2406.2h1M764.9,2356.6h1M637.0,2243.3h1M663.9,2303.0h1M622.1,2256.9h1M602.7,2248.0h1M662.1,2415.4h1M728.7,2419.1h1M621.6,2424.2h1M768.1,2359.1h1M615.0,2312.8h1M579.9,2312.4h1M749.8,2396.0h1M648.7,2369.4h1M725.6,2242.5h1M614.1,2278.6h1M745.0,2405.0h1M671.7,2422.8h1M704.3,2253.7h1M624.1,2403.9h1M683.2,2226.8h1M758.8,2384.9h1M703.6,2411.3h1M760.0,2350.9h1M582.5,2325.9h1M712.1,2415.1h1M674.7,2387.6h1M685.8,2236.2h1M666.7,2395.8h1M654.8,2374.8h1M678.3,2258.4h1M634.4,2241.1h1M567.9,2353.6h1M697.9,2406.5h1M724.2,2317.9h1M703.3,2324.9h1M713.2,2259.1h1M567.6,2359.2h1M755.1,2275.3h1M714.7,2260.6h1M706.2,2239.6h1M696.6,2234.0h1M637.1,2426.1h1M569.9,2347.3h1M728.6,2411.0h1M593.2,2390.9h1M617.8,2416.0h1M726.6,2283.3h1M673.2,2431.5h1M719.5,2262.3h1M678.3,2394.9h1M715.9,2270.7h1M650.5,2370.3h1M773.3,2332.2h1M694.0,2265.5h1M751.5,2393.4h1M613.7,2385.1h1M744.8,2371.7h1M757.1,2307.8h1M727.9,2261.6h1M690.1,2272.7h1M586.1,2301.1h1M706.9,2392.2h1M737.7,2413.1h1M633.7,2310.9h1M594.7,2391.0h1M642.3,2370.1h1M585.6,2306.2h1M762.7,2301.2h1M758.6,2317.4h1M698.2,2279.8h1M573.1,2312.4h1M696.6,2256.3h1M562.2,2318.3h1M747.9,2317.5h1M638.1,2251.2h1M615.0,2281.8h1M634.9,2259.9h1M695.1,2234.8h1M755.2,2288.1h1M590.5,2382.4h1M664.0,2353.8h1M717.9,2260.9h1M649.6,2406.8h1M680.3,2240.7h1M619.7,2395.4h1M671.3,2410.7h1M670.5,2225.4h1M700.0,2247.6h1M602.8,2248.3h1M665.0,2381.9h1M697.7,2249.2h1M723.5,2402.1h1M746.9,2293.2h1M625.4,2238.5h1M747.5,2333.6h1M582.1,2370.7h1M713.4,2409.3h1M738.0,2280.0h1M720.1,2263.6h1M653.8,2354.0h1M676.9,2400.6h1M621.3,2238.9h1M648.2,2271.6h1M728.4,2333.3h1M653.5,2423.0h1M567.6,2295.9h1M707.7,2257.0h1M595.1,2254.9h1M575.8,2289.7h1M585.3,2331.4h1M588.7,2314.1h1M757.1,2369.3h1M650.9,2363.6h1M629.0,2264.4h1M611.7,2390.9h1M651.5,2376.3h1M624.6,2235.5h1M619.5,2406.7h1M646.7,2434.7h1M687.8,2397.6h1M648.4,2382.9h1M686.8,2250.6h1M645.9,2357.6h1M736.4,2253.0h1M637.5,2370.4h1M610.3,2406.8h1M702.1,2245.8h1M706.1,2247.2h1M754.0,2326.9h1M713.9,2250.5h1M667.4,2415.0h1M612.4,2248.7h1M654.0,2409.6h1M680.9,2248.5h1M738.3,2278.5h1M743.6,2395.5h1M754.9,2347.2h1M673.9,2301.5h1M757.6,2278.1h1M591.1,2301.8h1M592.5,2315.7h1M691.8,2308.9h1M597.4,2297.6h1M701.4,2252.6h1M642.8,2296.5h1M580.0,2349.0h1M670.9,2383.4h1M774.3,2323.2h1M692.7,2230.9h1M718.4,2287.4h1M565.6,2353.8h1M684.4,2229.6h1M573.8,2281.7h1M570.6,2351.9h1M736.2,2269.8h1M563.5,2312.7h1M575.5,2326.3h1M724.5,2278.3h1M604.4,2246.5h1M587.2,2262.7h1M644.6,2249.7h1M700.2,2260.8h1M710.0,2255.2h1M728.9,2390.8h1M585.6,2371.4h1M621.0,2394.6h1M668.2,2390.4h1M565.8,2335.8h1M701.5,2419.9h1M624.4,2234.8h1M602.9,2389.1h1M687.6,2409.9h1M673.9,2381.9h1M630.7,2251.5h1M727.8,2274.5h1M649.0,2264.2h1M607.9,2416.4h1M572.6,2367.8h1M701.7,2248.9h1M645.7,2372.4h1M576.2,2306.0h1M668.6,2327.6h1M759.3,2381.6h1M730.7,2247.3h1M759.1,2370.9h1M693.4,2434.9h1M594.1,2313.1h1M661.6,2384.4h1M586.7,2369.4h1M605.7,2277.5h1M624.3,2367.8h1M689.4,2308.1h1M647.7,2361.5h1M762.1,2382.2h1M747.0,2371.3h1M649.6,2227.0h1M733.8,2268.5h1M732.4,2285.1h1M634.0,2234.2h1M731.9,2256.0h1M694.7,2426.3h1M670.7,2379.3h1M758.4,2337.6h1M645.3,2296.6h1M714.8,2404.0h1M665.9,2415.5h1M766.4,2372.4h1M761.0,2288.7h1M591.8,2311.3h1M659.5,2227.2h1M615.8,2245.9h1M670.9,2289.0h1M620.9,2268.4h1M704.1,2257.7h1M751.8,2392.5h1M648.0,2430.5h1M743.3,2394.2h1M589.6,2385.5h1M577.7,2377.4h1M657.2,2438.1h1M616.0,2415.7h1M561.8,2342.7h1M728.9,2274.9h1M713.9,2416.2h1M739.3,2373.0h1M659.6,2260.6h1M624.0,2429.0h1M711.9,2249.0h1M570.6,2326.2h1M605.6,2253.0h1M614.4,2259.8h1M706.3,2399.3h1M724.9,2260.8h1M674.5,2376.7h1M674.2,2361.7h1M735.9,2414.6h1M647.0,2361.9h1M599.9,2414.4h1M599.8,2401.3h1M585.4,2312.6h1M751.7,2331.8h1M763.2,2308.3h1M611.7,2417.0h1M604.3,2396.5h1M667.0,2331.2h1M572.3,2292.8h1M673.3,2420.8h1M694.6,2363.0h1M740.6,2269.2h1M720.9,2424.7h1M589.2,2382.8h1M712.8,2400.8h1M742.6,2357.1h1M747.5,2340.8h1M768.5,2310.8h1M587.4,2316.9h1M582.7,2325.1h1M610.1,2243.1h1M765.6,2308.5h1M751.8,2269.1h1M634.4,2243.8h1M598.9,2409.1h1M663.5,2385.8h1M625.5,2411.5h1M625.3,2399.3h1M570.4,2353.5h1M756.8,2387.6h1M605.2,2377.0h1M702.9,2239.4h1M716.8,2401.9h1M586.5,2326.9h1M657.6,2389.1h1M610.8,2416.1h1M700.7,2251.4h1M705.9,2403.9h1M580.4,2303.4h1M580.5,2274.8h1M719.0,2262.1h1M752.0,2368.2h1M658.6,2363.4h1M581.3,2297.3h1M712.1,2404.4h1M753.3,2270.5h1M752.9,2344.9h1M702.0,2432.9h1M611.1,2411.4h1M638.5,2385.3h1M763.2,2372.1h1M694.0,2303.7h1M732.3,2410.9h1M668.8,2237.0h1M644.6,2412.1h1M764.2,2378.9h1M724.3,2411.8h1M584.2,2348.8h1M697.8,2259.0h1M749.6,2397.7h1M663.1,2423.9h1M652.1,2234.1h1M584.3,2315.2h1M699.4,2414.9h1M752.9,2269.1h1M565.0,2356.4h1M639.6,2377.8h1M705.0,2246.1h1M755.5,2291.9h1M694.4,2409.3h1M563.0,2317.9h1M676.6,2398.7h1M713.3,2266.2h1M630.3,2414.4h1M693.2,2242.8h1M751.9,2359.9h1M744.5,2291.5h1M571.8,2295.6h1M717.1,2276.5h1M714.5,2265.3h1M730.6,2277.0h1M640.1,2245.8h1M599.5,2377.7h1M704.4,2234.7h1M737.0,2275.7h1M750.3,2385.4h1M599.9,2390.7h1M706.9,2235.4h1M693.9,2415.0h1M709.4,2267.2h1M664.7,2433.5h1M692.9,2299.7h1M664.6,2230.1h1M579.6,2381.8h1M748.1,2337.3h1M722.9,2272.8h1M631.7,2372.8h1M595.5,2401.6h1M757.4,2274.9h1M646.5,2355.3h1M653.5,2227.6h1M638.3,2287.7h1M630.4,2322.6h1M702.6,2280.3h1M704.6,2317.1h1M720.9,2263.2h1M597.4,2349.3h1M609.9,2401.4h1M748.7,2262.3h1M612.9,2390.7h1M755.7,2362.0h1M650.2,2359.3h1M633.7,2362.1h1M729.8,2269.4h1M587.7,2282.8h1M584.5,2340.4h1M690.6,2415.4h1M765.5,2306.1h1M744.9,2286.1h1M570.6,2376.1h1M742.2,2380.6h1M609.6,2405.8h1M720.2,2286.6h1M612.3,2384.0h1M652.8,2377.1h1M698.2,2402.6h1M608.7,2389.1h1M710.6,2336.7h1M635.7,2317.0h1M561.3,2328.7h1M647.1,2244.9h1M727.0,2418.1h1M571.4,2371.5h1M627.1,2233.2h1M687.5,2423.0h1M681.7,2240.8h1M676.8,2289.8h1M709.7,2246.1h1M740.3,2257.2h1M664.0,2378.3h1M714.9,2256.4h1M742.6,2304.7h1M757.3,2373.8h1M706.7,2405.4h1M580.5,2388.9h1M702.4,2295.0h1M630.8,2425.9h1M725.5,2403.8h1M641.2,2421.7h1M590.2,2281.2h1M571.0,2320.7h1M570.3,2331.9h1M590.7,2401.5h1M657.3,2225.9h1M713.7,2260.4h1M748.8,2353.6h1M582.3,2327.2h1M715.3,2263.4h1M720.9,2273.3h1M588.5,2281.5h1M752.9,2301.3h1M707.2,2418.6h1M761.4,2347.9h1M566.1,2334.8h1M606.6,2319.5h1M704.2,2263.4h1M725.9,2259.4h1M678.2,2306.5h1M739.5,2273.8h1M763.4,2293.7h1M693.2,2429.3h1M635.1,2413.5h1M743.1,2404.3h1M689.4,2359.2h1M723.4,2406.8h1M584.5,2333.6h1M607.5,2267.9h1M730.4,2395.5h1M722.7,2418.7h1M631.4,2231.6h1M750.3,2397.6h1M765.6,2294.2h1M733.2,2250.1h1M571.9,2365.8h1M622.9,2245.8h1M731.0,2281.7h1M709.9,2277.2h1M679.5,2388.9h1M625.3,2402.2h1M752.5,2281.9h1M711.0,2416.4h1M704.2,2274.3h1M605.0,2406.2h1M602.8,2392.8h1M577.9,2343.6h1M701.6,2305.9h1M643.0,2290.3h1M586.7,2287.4h1M676.9,2404.7h1M656.4,2405.1h1M740.1,2298.2h1M674.0,2245.2h1M595.2,2367.8h1M681.4,2254.1h1M748.3,2401.6h1M655.9,2250.9h1M709.1,2249.1h1M617.9,2259.0h1M758.3,2282.3h1M605.7,2301.8h1M697.5,2256.2h1M675.0,2391.1h1M600.1,2281.4h1M701.2,2411.5h1M585.5,2328.7h1M753.8,2380.4h1M628.4,2302.9h1M647.2,2411.1h1M702.0,2394.1h1M695.7,2378.4h1M718.3,2269.3h1M764.7,2370.9h1M726.2,2329.6h1M592.4,2256.7h1M601.0,2370.8h1M758.8,2368.2h1M707.6,2246.6h1M635.9,2259.2h1M714.9,2414.5h1M562.4,2336.5h1M570.6,2297.6h1M713.5,2405.9h1M746.7,2311.7h1M601.3,2294.1h1M594.0,2309.2h1M696.8,2430.0h1M595.2,2255.0h1M611.1,2398.8h1M686.1,2394.2h1M706.4,2429.8h1M647.1,2360.1h1M573.2,2327.5h1M633.2,2252.6h1M648.0,2247.1h1M572.2,2379.7h1M597.7,2299.7h1M755.6,2270.5h1M671.5,2343.6h1M698.7,2318.0h1M634.1,2400.1h1M642.9,2258.7h1M748.6,2399.1h1M720.3,2402.1h1M736.8,2273.6h1M704.3,2406.2h1M606.0,2314.6h1M749.0,2399.3h1M636.9,2411.5h1M573.6,2334.0h1M718.0,2277.6h1M730.9,2283.4h1M695.4,2257.0h1M764.4,2317.1h1M744.0,2326.2h1M760.6,2284.9h1M683.7,2228.5h1M744.7,2373.4h1M683.8,2246.3h1M706.4,2407.1h1M725.0,2262.3h1M663.6,2241.3h1M640.0,2373.1h1M584.8,2315.2h1M620.0,2255.1h1M669.1,2338.2h1M753.1,2384.4h1M661.8,2393.0h1M594.5,2384.9h1M718.2,2406.6h1M774.4,2325.7h1M588.3,2330.8h1M621.1,2246.9h1M720.4,2308.9h1M721.4,2397.6h1M629.8,2242.6h1M756.5,2318.7h1M668.1,2391.2h1M650.0,2226.8h1M694.0,2251.3h1M713.1,2427.2h1M572.1,2376.7h1M662.2,2417.8h1M673.8,2363.6h1M657.4,2360.9h1M582.6,2298.8h1M743.8,2309.5h1M639.0,2403.7h1M703.2,2407.2h1M651.9,2424.3h1M583.7,2379.2h1M579.0,2314.0h1M702.2,2253.2h1M614.4,2385.5h1M641.6,2232.7h1M658.0,2248.2h1M602.5,2413.3h1M671.0,2229.7h1M676.9,2419.6h1M639.3,2366.4h1M602.0,2411.2h1M631.1,2264.7h1M641.7,2375.3h1M702.5,2402.5h1M643.6,2231.7h1M576.4,2368.8h1M765.9,2316.0h1M647.7,2435.0h1M704.4,2283.0h1M696.8,2407.8h1M731.2,2390.9h1M603.6,2380.4h1M760.7,2343.9h1M767.9,2339.0h1M704.5,2246.2h1M590.1,2289.5h1M744.8,2386.6h1M616.9,2341.3h1M634.8,2316.0h1M637.2,2339.9h1M771.8,2327.5h1M678.9,2411.2h1M610.2,2248.3h1M673.9,2431.0h1M580.5,2303.5h1M645.0,2232.2h1M617.4,2248.3h1M712.4,2419.3h1M757.8,2306.7h1M673.8,2227.4h1M631.1,2424.1h1M666.3,2389.3h1M567.4,2327.1h1M671.1,2403.5h1M748.1,2401.8h1M686.9,2433.0h1M591.4,2302.1h1M651.8,2358.2h1M675.4,2394.0h1M715.8,2408.8h1M717.9,2333.2h1M593.6,2317.1h1M715.3,2421.1h1M745.3,2287.5h1M607.6,2391.2h1M601.8,2379.1h1M701.6,2230.6h1M711.6,2416.8h1M645.8,2260.3h1M701.5,2252.3h1M667.5,2391.7h1M600.9,2271.6h1M683.0,2416.8h1M669.6,2252.3h1M767.0,2313.0h1M671.4,2391.9h1M676.8,2391.8h1M707.1,2258.6h1M742.1,2270.9h1M582.0,2314.0h1M734.2,2283.0h1M615.5,2418.9h1M592.2,2257.0h1M640.0,2434.2h1M737.0,2258.6h1M689.7,2258.8h1M657.3,2237.2h1M760.8,2284.8h1M702.7,2407.1h1M757.6,2296.1h1M767.9,2302.1h1M635.0,2422.6h1M568.7,2371.4h1M618.6,2401.9h1M700.5,2247.1h1M724.8,2417.1h1M702.7,2411.5h1M741.1,2306.8h1M585.7,2292.6h1M621.2,2397.6h1M579.7,2273.4h1M697.5,2254.0h1M689.9,2253.0h1M570.5,2291.0h1M705.1,2413.6h1M692.5,2263.8h1M731.0,2378.2h1M726.9,2412.2h1M707.1,2385.1h1M706.7,2429.6h1M577.4,2368.1h1M680.4,2326.2h1M679.5,2228.0h1M687.1,2424.4h1M655.6,2246.9h1M605.9,2248.5h1M760.3,2372.1h1M708.1,2413.0h1M591.6,2294.5h1M690.1,2409.7h1M690.4,2381.5h1M670.3,2382.0h1M670.2,2250.4h1M667.8,2249.6h1M765.2,2346.2h1M627.6,2428.0h1M673.4,2399.7h1M597.4,2359.6h1M699.1,2271.5h1M714.4,2346.8h1M768.6,2329.0h1M629.7,2243.5h1M748.6,2336.5h1M724.6,2418.6h1M577.3,2371.9h1M636.7,2356.9h1M589.1,2404.3h1M678.3,2420.0h1M761.8,2382.8h1M698.1,2229.5h1M743.4,2381.0h1M678.6,2275.1h1M640.7,2364.1h1M569.6,2317.8h1M607.8,2357.9h1M631.5,2284.2h1M670.8,2248.3h1M767.4,2359.0h1M623.6,2349.4h1M717.8,2403.1h1M757.0,2295.8h1M593.0,2301.9h1M574.7,2366.0h1M599.5,2290.8h1M747.1,2291.2h1M645.4,2228.3h1M742.9,2408.4h1M724.8,2411.4h1M755.8,2388.1h1M736.3,2411.4h1M667.0,2416.3h1M666.9,2309.1h1M612.7,2293.0h1M743.8,2364.2h1M651.8,2243.8h1M707.9,2427.0h1M583.2,2281.4h1M603.9,2252.0h1M677.9,2405.9h1M562.0,2329.4h1M592.5,2378.4h1M748.4,2322.4h1M663.4,2434.8h1M593.5,2321.1h1M667.4,2345.1h1M635.1,2249.0h1M704.4,2402.4h1M696.8,2245.3h1M676.8,2394.9h1M609.0,2362.1h1M639.0,2377.8h1M759.4,2301.9h1M666.3,2399.0h1M688.0,2392.2h1M687.0,2252.6h1M601.9,2403.8h1M620.8,2246.8h1M572.3,2288.4h1M751.5,2394.7h1M599.4,2314.1h1M735.2,2370.1h1M687.4,2433.4h1M601.6,2260.1h1M748.8,2303.1h1M585.0,2276.7h1M619.1,2247.1h1M692.6,2435.5h1M772.6,2353.2h1M655.7,2361.0h1M681.2,2401.3h1M622.2,2398.7h1M772.8,2321.3h1M692.4,2237.2h1M629.0,2407.1h1M731.6,2379.5h1M638.0,2361.3h1M584.3,2352.5h1M735.1,2387.3h1M646.6,2283.7h1M721.3,2393.0h1M760.1,2301.7h1M688.3,2258.8h1M758.6,2315.8h1M567.5,2362.9h1M576.9,2388.2h1M713.8,2268.8h1M674.6,2417.8h1M587.1,2394.7h1M627.5,2414.1h1M643.6,2372.9h1M768.6,2368.5h1M754.5,2313.3h1M594.9,2291.6h1M660.2,2438.7h1M578.8,2307.7h1M585.1,2388.8h1M675.1,2394.8h1M673.6,2226.9h1M653.7,2417.2h1M669.6,2432.2h1M641.2,2422.2h1M701.8,2249.2h1M731.8,2277.2h1M710.5,2267.7h1M585.2,2343.5h1M642.3,2243.7h1M634.4,2402.9h1M688.5,2252.8h1M645.8,2379.2h1M687.7,2395.2h1M699.6,2244.8h1M589.7,2363.4h1M628.7,2345.2h1M628.8,2373.3h1M721.1,2273.0h1M588.4,2307.3h1M630.0,2401.6h1M633.2,2431.5h1M732.4,2393.9h1M720.9,2398.7h1M713.8,2313.7h1M752.7,2332.5h1M671.4,2299.1h1M706.5,2244.6h1M713.1,2255.1h1M667.0,2426.4h1M728.5,2258.4h1M641.6,2255.3h1M684.1,2243.0h1M738.7,2382.1h1M703.4,2253.3h1M587.6,2388.9h1M763.8,2288.9h1M715.2,2379.7h1M760.1,2297.8h1M594.4,2387.7h1M571.8,2373.2h1M602.4,2409.2h1M644.1,2345.4h1M573.3,2371.7h1M737.9,2262.6h1M606.7,2272.6h1M766.2,2372.8h1M569.5,2335.4h1M637.7,2236.7h1M701.3,2417.4h1M762.4,2310.4h1M671.1,2389.0h1M642.7,2375.0h1M707.2,2290.8h1M602.2,2276.1h1M665.7,2424.4h1M643.5,2238.4h1M584.9,2312.7h1M579.2,2375.8h1M638.9,2246.4h1M609.2,2263.7h1M690.3,2404.9h1M697.0,2256.1h1M562.6,2319.5h1M761.3,2321.7h1M581.4,2380.9h1M589.5,2310.4h1M628.4,2422.8h1M764.1,2319.4h1M757.3,2363.3h1M689.4,2228.8h1M683.4,2252.3h1M571.5,2311.8h1M615.1,2239.2h1M746.5,2288.3h1M745.0,2366.4h1M590.2,2317.2h1M658.3,2265.5h1M614.4,2343.0h1M703.6,2241.9h1M752.9,2368.8h1M653.0,2433.3h1M609.2,2384.6h1M760.4,2337.5h1M607.6,2265.6h1M577.7,2287.6h1M598.4,2254.4h1M609.5,2406.4h1M688.2,2309.2h1M640.6,2358.1h1M690.4,2415.5h1M671.0,2246.2h1M680.9,2235.8h1M772.3,2332.4h1M704.0,2397.2h1M586.9,2322.3h1M583.5,2394.9h1M760.2,2277.8h1M578.2,2385.9h1M580.8,2277.5h1M672.9,2254.5h1M705.3,2258.5h1M672.6,2403.8h1M585.9,2320.1h1M752.0,2269.5h1M726.7,2337.0h1M687.0,2410.4h1M745.5,2404.4h1M575.4,2282.4h1M570.8,2316.0h1M696.0,2249.1h1M564.6,2332.8h1M664.0,2412.0h1M669.3,2421.8h1M565.4,2316.8h1M696.7,2266.0h1M604.4,2267.2h1M656.9,2287.5h1M746.9,2404.0h1M716.2,2425.9h1M606.8,2272.4h1M684.7,2412.8h1M746.9,2296.1h1M765.9,2305.2h1M698.7,2427.1h1M689.1,2302.5h1M646.8,2354.3h1M569.6,2293.9h1M748.8,2375.2h1M637.0,2433.6h1M658.9,2403.5h1M704.9,2421.2h1M609.3,2419.2h1M654.6,2239.0h1M674.7,2387.2h1M750.6,2289.2h1M707.0,2241.4h1M759.4,2284.3h1M735.4,2410.1h1M588.5,2316.9h1M649.6,2377.9h1M599.5,2370.2h1M700.8,2322.2h1M715.1,2276.2h1M682.9,2246.8h1M736.2,2300.5h1M745.2,2400.3h1M732.8,2377.8h1M701.8,2407.7h1M748.4,2384.7h1M767.5,2362.3h1M564.0,2346.8h1M588.7,2310.4h1M585.0,2302.2h1M715.6,2404.1h1M754.3,2273.1h1M733.2,2391.2h1M581.3,2321.0h1M714.9,2395.1h1M657.3,2421.4h1M573.9,2382.9h1M594.1,2255.0h1M562.2,2319.1h1M661.2,2427.9h1M710.4,2261.4h1M584.2,2277.5h1M768.3,2341.7h1M612.7,2344.3h1M747.6,2268.4h1M665.5,2415.5h1M698.0,2261.4h1M605.6,2402.4h1M687.7,2245.2h1M682.7,2399.4h1M590.5,2289.4h1M731.3,2399.7h1M592.7,2380.5h1M658.6,2384.4h1M643.7,2311.4h1M670.5,2409.1h1M606.5,2283.7h1M592.2,2257.8h1M757.7,2351.4h1M718.4,2425.2h1M676.0,2409.7h1M654.3,2243.0h1M591.5,2313.5h1M691.7,2434.1h1M674.2,2230.5h1M588.7,2392.4h1M728.8,2299.2h1M636.2,2262.1h1M734.3,2407.3h1M642.2,2254.9h1M694.2,2426.4h1M624.2,2236.5h1M644.8,2239.6h1M661.9,2430.7h1M631.5,2401.6h1M648.5,2433.8h1M713.8,2262.5h1M755.7,2357.2h1M564.4,2313.4h1M591.9,2368.0h1M618.1,2409.2h1M698.9,2288.2h1M704.9,2237.6h1M640.7,2352.7h1M756.0,2385.4h1M609.7,2282.3h1M574.9,2371.6h1M708.5,2400.1h1M675.3,2404.1h1M747.4,2347.5h1M734.2,2407.9h1M599.5,2294.2h1M758.2,2386.2h1M683.8,2338.2h1M712.5,2236.9h1M709.2,2395.1h1M674.6,2392.1h1M581.5,2392.8h1M567.6,2298.4h1M697.4,2241.7h1M765.2,2288.7h1M577.7,2311.4h1M731.4,2389.7h1M741.3,2258.9h1M569.0,2307.8h1M721.4,2253.9h1M675.4,2230.2h1M618.4,2406.7h1M695.3,2265.5h1M566.9,2323.6h1M646.1,2273.0h1M581.2,2300.6h1M743.7,2265.3h1M741.4,2375.2h1M675.7,2312.5h1M575.2,2308.5h1M752.0,2385.3h1M719.3,2393.0h1M719.5,2273.5h1M687.3,2226.7h1M681.5,2227.4h1M753.6,2270.4h1M581.3,2343.5h1M628.3,2247.1h1M702.2,2259.6h1M597.5,2262.8h1M611.9,2242.2h1M693.6,2257.9h1M718.5,2237.6h1M766.4,2349.2h1M729.6,2370.3h1M611.8,2249.5h1M579.3,2309.8h1M588.8,2316.7h1M723.3,2254.3h1M598.6,2364.2h1M644.6,2235.3h1M690.2,2415.5h1M611.6,2419.3h1M767.3,2341.5h1M595.7,2392.1h1M642.8,2350.9h1M646.1,2427.2h1M588.4,2260.7h1M728.2,2253.0h1M706.0,2407.5h1M646.8,2360.2h1M585.3,2273.8h1M719.7,2298.5h1M713.7,2422.9h1M703.5,2263.1h1M656.7,2225.9h1M644.1,2356.4h1M741.1,2311.7h1M765.7,2297.7h1M601.8,2411.4h1M741.8,2260.1h1M655.6,2339.2h1M615.2,2390.2h1M643.7,2241.3h1M748.0,2288.1h1M715.7,2253.8h1M696.6,2261.7h1M650.4,2371.2h1M684.0,2249.2h1M648.6,2356.5h1M587.7,2312.9h1M751.1,2287.7h1M584.2,2384.0h1M761.6,2333.7h1M712.7,2406.7h1M704.4,2385.2h1M723.7,2354.1h1M749.3,2395.8h1M678.9,2416.0h1M578.3,2279.2h1M774.0,2328.6h1M699.2,2255.3h1M736.6,2382.8h1M748.3,2286.6h1M704.9,2243.1h1M757.4,2318.8h1M734.4,2256.6h1M715.0,2364.0h1M638.5,2362.4h1M619.4,2349.2h1M592.9,2334.6h1M709.8,2407.3h1M641.5,2403.9h1M703.1,2260.4h1M773.3,2350.1h1M588.7,2310.0h1M607.8,2249.8h1M707.0,2304.7h1M719.6,2256.6h1M709.3,2267.4h1M729.1,2263.9h1M714.2,2257.7h1M645.3,2356.6h1M608.8,2268.4h1M757.8,2283.3h1M616.5,2412.6h1M768.3,2318.1h1M662.0,2335.4h1M664.9,2384.9h1M726.7,2242.5h1M676.1,2415.5h1M630.5,2405.7h1M677.0,2264.4h1M752.8,2325.0h1M758.4,2383.3h1M628.6,2409.9h1M644.1,2342.3h1M645.8,2260.8h1M707.4,2244.6h1M717.4,2345.0h1M681.0,2432.7h1M734.5,2374.9h1M562.2,2341.1h1M639.5,2254.7h1M743.5,2407.7h1M609.0,2276.0h1M612.0,2413.9h1M579.6,2356.3h1M741.8,2314.2h1M675.0,2381.0h1M592.3,2290.5h1M617.5,2262.9h1M657.2,2244.7h1M610.2,2262.0h1M712.4,2402.3h1M708.2,2245.6h1M722.3,2263.1h1M618.9,2425.7h1M630.0,2430.5h1M594.4,2318.8h1M716.5,2387.5h1M746.4,2326.3h1M564.5,2304.6h1M709.2,2264.1h1M727.1,2245.5h1M634.2,2344.3h1M772.1,2311.8h1M686.2,2384.8h1M581.7,2382.0h1M575.8,2379.2h1M730.8,2259.8h1M696.6,2400.2h1M582.8,2313.1h1M731.5,2415.9h1M748.5,2262.3h1M685.6,2421.4h1M760.3,2347.6h1M582.4,2268.9h1M594.2,2313.0h1M658.5,2255.0h1M762.5,2330.5h1M630.6,2250.5h1M765.9,2360.3h1M720.5,2420.1h1M599.8,2345.3h1M687.8,2246.3h1M636.3,2426.3h1M662.2,2254.9h1M753.2,2355.6h1M612.8,2252.4h1M610.2,2335.8h1M737.0,2319.0h1M616.6,2414.8h1M603.0,2266.1h1M730.4,2418.2h1M594.7,2377.2h1M708.0,2323.4h1M628.9,2402.3h1M576.6,2278.7h1M587.8,2279.1h1M637.3,2254.3h1M756.6,2331.9h1M617.1,2361.5h1M571.0,2329.1h1M679.5,2436.0h1M663.6,2234.9h1M716.2,2277.8h1M639.9,2261.1h1M678.4,2229.0h1M685.0,2436.9h1M706.4,2280.4h1M706.7,2261.9h1M578.5,2333.5h1M658.6,2424.7h1M649.7,2226.5h1M719.1,2260.0h1M641.5,2431.4h1M613.8,2269.3h1M638.4,2359.2h1M730.1,2407.9h1M635.9,2414.6h1M769.3,2322.4h1M566.6,2365.0h1M668.7,2393.3h1M724.3,2375.5h1M689.8,2236.3h1M772.4,2321.9h1M666.4,2388.8h1M663.4,2256.1h1M620.7,2427.1h1M671.7,2404.0h1M564.4,2305.8h1M567.8,2367.3h1M732.1,2392.4h1M659.1,2437.8h1M736.7,2253.6h1M705.1,2259.1h1M633.6,2241.2h1M680.3,2225.7h1M681.3,2358.3h1M749.7,2285.1h1M675.3,2438.1h1M683.2,2374.5h1M764.6,2354.7h1M769.1,2364.6h1M658.2,2244.8h1M568.7,2346.8h1M641.3,2340.4h1M685.2,2252.1h1M588.1,2286.7h1M644.5,2232.8h1M626.1,2430.4h1M618.4,2279.3h1M565.4,2325.5h1M677.0,2236.8h1M665.8,2428.7h1M669.3,2434.6h1M730.0,2276.4h1M643.9,2370.1h1M698.4,2258.9h1M770.3,2352.5h1M749.6,2290.0h1M595.9,2324.0h1M762.9,2292.2h1M609.1,2409.2h1M672.1,2394.8h1M587.6,2397.4h1M748.7,2392.1h1M599.4,2394.0h1M726.0,2408.5h1M660.6,2386.8h1M607.8,2254.0h1M585.3,2351.3h1M720.4,2398.6h1M728.1,2283.9h1M702.8,2258.3h1M621.7,2413.9h1M769.1,2362.2h1M708.5,2399.7h1M743.6,2300.0h1M640.4,2239.0h1M731.6,2287.2h1M617.2,2249.4h1M653.8,2419.9h1M591.2,2319.7h1M676.0,2231.5h1M736.9,2263.1h1M744.0,2383.6h1M728.0,2331.8h1M692.7,2257.7h1M761.6,2378.5h1M650.0,2367.1h1M710.9,2270.9h1M737.0,2270.6h1M703.8,2402.4h1M721.8,2414.8h1M649.2,2366.9h1M622.8,2360.4h1M739.6,2260.9h1M581.6,2306.7h1M616.8,2395.6h1M578.1,2333.5h1M618.3,2241.3h1M766.8,2313.3h1M749.7,2394.8h1M567.0,2331.0h1M714.7,2241.7h1M647.7,2358.0h1M723.0,2265.3h1M707.6,2241.8h1M648.4,2360.8h1M588.5,2345.8h1M617.0,2274.1h1M660.5,2225.6h1M708.3,2235.7h1M665.6,2399.0h1M679.9,2401.4h1M644.3,2422.6h1M738.5,2360.8h1M764.8,2300.5h1M729.8,2252.2h1M690.2,2257.1h1M704.9,2260.3h1M588.4,2385.2h1M756.6,2272.3h1M680.3,2400.2h1M716.6,2260.6h1M641.9,2329.8h1M705.3,2250.3h1M709.8,2314.9h1M590.3,2313.8h1M619.1,2276.1h1M580.1,2280.8h1M713.4,2268.1h1M594.2,2268.6h1M592.1,2313.1h1M731.9,2413.7h1M667.3,2422.1h1M724.7,2258.2h1M689.6,2247.2h1M582.4,2394.5h1M727.0,2329.4h1M717.7,2274.1h1M631.6,2368.6h1M706.9,2399.0h1M635.2,2364.9h1M628.0,2426.7h1M615.7,2240.1h1M649.2,2427.1h1M678.8,2233.6h1M719.7,2270.8h1M626.2,2413.3h1M562.6,2316.7h1M701.3,2409.5h1M634.0,2293.9h1M640.3,2228.7h1M572.5,2348.4h1M594.3,2304.4h1M763.6,2358.7h1M621.3,2398.8h1M762.1,2290.4h1M601.5,2281.7h1M760.9,2351.7h1M587.3,2297.1h1M722.9,2423.8h1M673.6,2390.3h1M714.5,2274.3h1M683.1,2403.5h1M580.9,2283.5h1M702.9,2406.4h1M573.1,2283.7h1M601.5,2403.6h1M577.0,2299.2h1M764.0,2371.7h1M564.0,2311.5h1M590.9,2257.8h1M615.9,2355.6h1M589.4,2315.7h1M721.6,2250.1h1M701.5,2369.5h1M718.2,2264.4h1M657.6,2386.2h1M665.3,2381.4h1M576.2,2341.1h1M665.5,2393.5h1M667.6,2249.8h1M721.4,2266.0h1M563.5,2322.7h1M639.6,2415.6h1M596.1,2371.8h1M639.7,2231.7h1M701.4,2256.2h1M649.3,2372.3h1M729.1,2419.4h1M748.0,2353.6h1M715.2,2423.7h1M675.4,2402.2h1M575.4,2320.3h1M580.8,2304.5h1M650.7,2369.2h1M750.4,2380.9h1M581.9,2315.7h1M575.6,2325.6h1M588.4,2317.8h1M716.5,2356.8h1M579.8,2344.5h1M656.9,2247.5h1M692.0,2400.0h1M675.9,2227.7h1M716.4,2270.4h1M738.0,2406.4h1M686.5,2235.2h1M571.7,2335.3h1M614.4,2239.8h1M743.3,2405.8h1M755.5,2345.4h1M766.2,2290.4h1M645.2,2430.3h1M762.8,2295.0h1M676.5,2385.5h1M684.3,2294.4h1M771.2,2336.2h1M682.3,2236.8h1M732.4,2291.5h1M715.2,2407.9h1M717.3,2269.6h1M754.6,2293.1h1M576.6,2321.1h1M637.7,2373.0h1M569.5,2333.4h1M749.1,2400.0h1M701.6,2238.0h1M567.7,2306.3h1M766.6,2296.6h1M697.9,2384.4h1M585.3,2322.7h1M708.6,2394.5h1M757.7,2379.4h1M576.8,2321.3h1M594.3,2362.9h1M645.6,2430.7h1M638.7,2425.7h1M732.9,2399.1h1M573.5,2314.0h1M730.1,2336.2h1M726.6,2272.7h1M699.2,2413.5h1M580.3,2317.0h1M585.9,2286.3h1M730.4,2396.5h1M647.5,2362.1h1M593.1,2304.0h1M647.8,2371.3h1M703.5,2237.2h1M561.5,2324.1h1M761.2,2331.5h1M748.8,2265.9h1M634.4,2251.8h1M745.1,2312.9h1M611.7,2392.7h1M679.0,2244.3h1M745.3,2310.9h1M706.5,2237.7h1M649.7,2420.1h1M685.4,2385.6h1M755.3,2272.0h1M633.1,2431.6h1M561.4,2330.4h1M562.5,2350.1h1M732.5,2395.0h1M741.2,2402.7h1M656.8,2362.6h1M650.1,2377.2h1M603.6,2405.5h1M591.6,2286.8h1M643.3,2369.5h1M735.3,2261.5h1M648.9,2364.6h1M628.3,2304.6h1M659.8,2419.3h1M612.4,2377.2h1M627.6,2324.7h1M710.8,2276.1h1M684.2,2257.7h1M662.9,2422.0h1M566.0,2337.7h1M605.4,2397.7h1M638.9,2301.3h1M723.9,2277.8h1M720.4,2399.0h1M618.0,2400.6h1M726.7,2260.6h1M773.0,2336.6h1M714.2,2425.9h1M612.2,2252.0h1M629.0,2240.5h1M721.7,2245.5h1M663.0,2389.2h1M755.6,2313.3h1M754.5,2361.1h1M770.1,2319.5h1M761.2,2381.6h1M710.1,2406.1h1M761.3,2384.1h1M759.9,2281.5h1M752.2,2316.4h1M590.6,2403.5h1M688.5,2249.6h1M703.4,2243.4h1M659.9,2237.3h1M639.0,2260.3h1M669.5,2395.8h1M663.2,2438.8h1M718.3,2276.0h1M723.3,2283.6h1M635.0,2350.9h1M701.6,2253.4h1M576.4,2387.1h1M686.3,2431.9h1M702.0,2267.4h1M754.7,2393.7h1M738.0,2291.8h1M742.5,2381.0h1M702.1,2407.9h1M718.6,2398.0h1M590.1,2277.7h1M591.8,2295.0h1M677.4,2278.2h1M746.9,2296.7h1M606.4,2376.3h1M740.9,2358.5h1M731.9,2287.6h1M665.7,2386.0h1M657.5,2380.2h1M700.3,2242.4h1M644.3,2364.3h1M611.4,2384.1h1M663.0,2388.4h1M657.0,2366.1h1M762.1,2350.2h1M725.5,2267.8h1M715.8,2272.9h1M760.3,2347.7h1M568.4,2322.3h1M746.1,2344.2h1M639.6,2372.4h1M585.0,2377.2h1M591.6,2329.1h1M601.3,2393.7h1M602.1,2272.3h1M716.5,2427.4h1M729.5,2263.0h1M769.6,2300.9h1M607.0,2284.6h1M699.3,2409.2h1M629.4,2414.8h1M582.8,2396.8h1M763.4,2322.1h1M707.3,2425.3h1M714.7,2255.5h1M584.4,2292.6h1M598.3,2309.5h1M700.2,2260.4h1M718.1,2268.4h1M663.1,2278.0h1M600.7,2369.3h1M719.1,2251.0h1M620.5,2412.8h1M621.5,2405.7h1M577.1,2275.9h1M749.4,2291.8h1M710.6,2274.2h1M678.1,2435.0h1M675.8,2388.8h1M764.9,2338.8h1M616.3,2418.9h1M711.0,2269.2h1M690.2,2272.9h1M703.0,2259.0h1M609.0,2263.8h1M674.7,2396.6h1M711.1,2407.8h1M696.9,2408.5h1M663.9,2371.2h1M745.2,2295.1h1M628.7,2431.5h1M629.8,2258.3h1M758.3,2361.7h1M738.1,2399.5h1M644.0,2358.4h1M704.2,2260.9h1M586.3,2321.8h1M712.8,2346.7h1M673.4,2327.2h1M697.8,2406.8h1M601.5,2286.4h1M717.0,2369.3h1M738.6,2295.1h1M669.7,2390.3h1M750.2,2376.4h1M730.1,2393.8h1M660.7,2426.4h1M671.4,2399.0h1M685.7,2234.7h1M648.4,2253.0h1M626.7,2236.2h1M754.2,2329.3h1M673.7,2243.6h1M738.8,2288.2h1M596.9,2400.7h1M641.7,2424.1h1M654.7,2395.0h1M774.3,2344.3h1M681.3,2425.9h1M761.4,2353.6h1M652.4,2308.8h1M720.0,2250.7h1M743.3,2287.6h1M720.6,2303.4h1M596.8,2390.3h1M713.6,2283.1h1M646.0,2255.0h1M629.7,2237.4h1M598.9,2250.3h1M638.8,2378.5h1M680.0,2428.9h1M766.9,2293.0h1M663.1,2391.7h1M742.1,2366.4h1M673.7,2372.4h1M642.7,2386.5h1M616.9,2239.5h1M678.3,2382.4h1M638.2,2290.9h1M600.1,2351.9h1M680.1,2428.1h1M716.1,2280.1h1M751.6,2371.7h1M726.6,2421.3h1M595.8,2401.2h1M588.3,2317.8h1M721.7,2277.7h1M598.8,2412.0h1M576.1,2382.1h1M597.6,2273.4h1M688.0,2366.3h1M663.8,2382.8h1M772.9,2315.7h1M752.9,2388.7h1M591.8,2285.4h1M685.0,2267.8h1M641.5,2361.6h1M712.5,2274.7h1M700.1,2237.5h1M721.2,2394.8h1M763.6,2336.2h1M763.8,2332.2h1M737.3,2300.4h1M690.5,2227.4h1M701.9,2257.0h1M680.9,2401.8h1M624.1,2239.8h1M598.2,2291.0h1M727.1,2266.1h1M751.5,2305.5h1M670.8,2252.0h1M759.9,2285.9h1M612.9,2397.3h1M573.4,2363.6h1M579.1,2306.3h1M587.8,2351.3h1M694.6,2263.3h1M708.4,2403.8h1M700.5,2253.6h1M692.3,2255.3h1M628.8,2430.7h1M685.9,2437.5h1M706.8,2259.9h1M612.1,2362.8h1M582.2,2384.9h1M750.9,2326.4h1M614.4,2265.3h1M726.5,2259.7h1M582.8,2315.6h1M718.2,2400.7h1M753.2,2358.5h1M646.0,2354.1h1M720.5,2273.3h1M714.8,2258.8h1M746.8,2316.2h1M745.4,2281.0h1M748.7,2336.9h1M585.4,2290.7h1M714.9,2262.5h1M767.4,2355.8h1M563.6,2312.8h1M648.9,2408.4h1M705.1,2237.8h1M565.3,2333.2h1M637.3,2383.5h1M752.0,2391.8h1M672.5,2378.8h1M568.1,2362.2h1M762.1,2292.4h1M741.3,2272.7h1M614.9,2410.3h1M755.2,2382.1h1M701.3,2263.2h1M601.1,2266.8h1M606.9,2263.7h1M590.6,2301.2h1M759.4,2298.3h1M655.5,2242.9h1M685.7,2241.4h1M637.6,2372.1h1M720.8,2256.7h1M667.5,2419.6h1M754.1,2295.9h1M611.0,2399.8h1M683.4,2226.6h1M626.3,2234.5h1M720.6,2265.5h1M727.3,2260.5h1M750.0,2392.9h1M754.2,2361.3h1M687.0,2379.1h1M728.0,2391.6h1M688.7,2422.9h1M746.8,2372.8h1M718.1,2267.2h1M565.6,2305.5h1M765.9,2339.5h1M748.4,2384.1h1M581.3,2394.3h1M722.4,2422.1h1M722.2,2358.3h1M622.4,2269.3h1M735.5,2277.0h1M673.4,2380.8h1M725.4,2251.6h1M766.5,2351.7h1M762.5,2287.1h1M769.0,2315.7h1M738.8,2387.2h1M763.6,2300.0h1M720.6,2348.2h1M687.1,2253.6h1M715.1,2251.3h1M742.2,2304.6h1M639.5,2258.1h1M721.2,2269.4h1M645.0,2394.8h1M606.7,2388.6h1M731.0,2267.5h1M622.8,2397.4h1M759.6,2315.0h1M608.5,2248.6h1M737.7,2296.0h1M637.3,2233.7h1M723.0,2267.4h1M598.2,2377.6h1M756.1,2363.2h1M729.8,2292.8h1M569.5,2303.5h1" stroke="#ee5a36" stroke-width="1" opacity="0.8"/>
<circle cx="668" cy="2332" r="109.7" fill="none" stroke="#3d303d" stroke-width="4.2" stroke-dasharray="80 3"/>
<circle cx="668" cy="2332" r="109.7" fill="none" stroke="#c4aec4" stroke-width="2.2" stroke-dasharray="80 3"/>
<path d="M670,2330 L666.9,2340.5 L673.5,2342.5 L686.3,2324.2 L655.7,2350.5 L668.0,2330.0 L704.8,2338.0 L696.8,2338.2 L687.0,2327.1 L686.7,2351.5 L681.2,2347.2 L688.6,2324.2 L692.9,2342.1 L670.1,2323.1 L698.3,2338.1 L690.9,2351.9 L690.7,2353.3 L674.7,2349.2 L677.2,2353.8 L698.9,2325.3 L661.8,2329.4 L703.3,2336.8 L686.3,2332.2 L680.4,2335.1 L672.5,2341.9 L684.2,2352.7 L689.1,2353.6 L697.8,2355.7 L688.6,2327.5 L698.0,2354.8 L700.2,2341.3 L690.7,2329.2 L696.6,2341.5 L669.2,2324.2 L697.7,2355.7 L659.4,2349.2 L675.5,2327.1 L669.7,2348.1 L698.6,2323.5 L685.7,2323.5 L690.9,2333.3 L699.0,2355.3 L680.3,2355.9 L670.5,2324.6 L685.0,2323.1 L664.9,2335.9 L685.5,2327.3 L657.1,2351.5 L670.7,2354.6 L699.8,2334.8 L678.0,2339.7 L687.2,2342.3 L683.0,2343.1 L702.0,2339.2 L676.6,2346.5 L666.9,2332.2 L703.9,2339.7 L682.4,2322.4 L675.8,2341.7 L656.0,2342.9 L686.6,2324.0" stroke="#8a5a8a" stroke-width="0.6" fill="none" opacity="0.8"/>
<line x1="646.0" y1="2322.0" x2="646.0" y2="2322.0" stroke="#d03a3a" stroke-width="1"/><line x1="644.1" y1="2326.0" x2="648.2" y2="2326.0" stroke="#e0c030" stroke-width="1"/><line x1="642.5" y1="2330.1" x2="649.9" y2="2330.0" stroke="#3a6ad0" stroke-width="1"/><line x1="641.6" y1="2334.3" x2="651.1" y2="2333.8" stroke="#40a040" stroke-width="1"/><line x1="641.7" y1="2338.6" x2="651.6" y2="2337.6" stroke="#a040a0" stroke-width="1"/><line x1="643.0" y1="2342.9" x2="651.5" y2="2341.2" stroke="#d03a3a" stroke-width="1"/><line x1="645.6" y1="2346.9" x2="651.1" y2="2344.9" stroke="#e0c030" stroke-width="1"/><line x1="648.8" y1="2350.1" x2="650.7" y2="2349.3" stroke="#3a6ad0" stroke-width="1"/><line x1="652.5" y1="2352.8" x2="650.7" y2="2353.8" stroke="#40a040" stroke-width="1"/><line x1="656.1" y1="2354.8" x2="651.5" y2="2358.5" stroke="#a040a0" stroke-width="1"/><line x1="659.4" y1="2356.3" x2="653.8" y2="2362.8" stroke="#d03a3a" stroke-width="1"/><line x1="662.4" y1="2357.6" x2="657.3" y2="2366.1" stroke="#e0c030" stroke-width="1"/><line x1="665.4" y1="2359.4" x2="661.4" y2="2368.1" stroke="#3a6ad0" stroke-width="1"/><line x1="668.4" y1="2361.8" x2="665.9" y2="2368.8" stroke="#40a040" stroke-width="1"/><line x1="671.6" y1="2364.6" x2="670.3" y2="2368.5" stroke="#a040a0" stroke-width="1"/><line x1="674.8" y1="2367.7" x2="674.8" y2="2367.7" stroke="#d03a3a" stroke-width="1"/><line x1="678.3" y1="2370.6" x2="679.2" y2="2366.6" stroke="#e0c030" stroke-width="1"/><line x1="682.1" y1="2373.0" x2="683.3" y2="2365.7" stroke="#3a6ad0" stroke-width="1"/><line x1="686.3" y1="2374.6" x2="687.1" y2="2365.1" stroke="#40a040" stroke-width="1"/><line x1="690.8" y1="2374.9" x2="690.6" y2="2365.0" stroke="#a040a0" stroke-width="1"/><line x1="695.4" y1="2373.9" x2="694.0" y2="2365.3" stroke="#d03a3a" stroke-width="1"/><line x1="699.4" y1="2371.6" x2="697.8" y2="2365.9" stroke="#e0c030" stroke-width="1"/><line x1="702.8" y1="2368.4" x2="702.0" y2="2366.5" stroke="#3a6ad0" stroke-width="1"/><line x1="705.6" y1="2364.8" x2="706.6" y2="2366.6" stroke="#40a040" stroke-width="1"/><line x1="708.0" y1="2361.2" x2="711.1" y2="2366.2" stroke="#a040a0" stroke-width="1"/><line x1="710.1" y1="2358.0" x2="715.6" y2="2364.7" stroke="#d03a3a" stroke-width="1"/><line x1="712.0" y1="2355.2" x2="719.4" y2="2361.8" stroke="#e0c030" stroke-width="1"/><line x1="714.3" y1="2352.6" x2="722.1" y2="2358.1" stroke="#3a6ad0" stroke-width="1"/><line x1="717.2" y1="2350.1" x2="723.6" y2="2353.9" stroke="#40a040" stroke-width="1"/><line x1="720.5" y1="2347.5" x2="724.1" y2="2349.4" stroke="#a040a0" stroke-width="1"/><line x1="724.1" y1="2344.8" x2="724.1" y2="2344.8" stroke="#d03a3a" stroke-width="1"/><line x1="727.3" y1="2341.4" x2="723.3" y2="2340.6" stroke="#e0c030" stroke-width="1"/><line x1="729.5" y1="2337.3" x2="722.1" y2="2336.8" stroke="#3a6ad0" stroke-width="1"/><line x1="730.7" y1="2333.3" x2="721.2" y2="2332.7" stroke="#40a040" stroke-width="1"/><path d="M646.0,2322.0 L645.5,2323.0 L645.0,2324.0 L644.6,2325.0 L644.1,2326.0 L643.6,2327.1 L643.2,2328.1 L642.8,2329.1 L642.5,2330.1 L642.2,2331.2 L641.9,2332.2 L641.7,2333.3 L641.6,2334.3 L641.5,2335.4 L641.5,2336.4 L641.6,2337.5 L641.7,2338.6 L641.9,2339.7 L642.2,2340.8 L642.5,2341.9 L643.0,2342.9 L643.5,2344.0 L644.1,2345.0 L644.8,2346.0 L645.6,2346.9 L646.3,2347.7 L647.1,2348.6 L648.0,2349.3 L648.8,2350.1 L649.7,2350.8 L650.6,2351.5 L651.6,2352.2 L652.5,2352.8 L653.4,2353.3 L654.3,2353.9 L655.2,2354.4 L656.1,2354.8 L657.0,2355.2 L657.8,2355.6 L658.7,2355.9 L659.4,2356.3 L660.2,2356.6 L661.0,2356.9 L661.7,2357.3 L662.4,2357.6 L663.1,2358.0 L663.9,2358.5 L664.6,2358.9 L665.4,2359.4 L666.1,2360.0 L666.9,2360.5 L667.7,2361.1 L668.4,2361.8 L669.2,2362.5 L670.0,2363.2 L670.8,2363.9 L671.6,2364.6 L672.4,2365.4 L673.2,2366.1 L674.0,2366.9 L674.8,2367.7 L675.7,2368.4 L676.5,2369.2 L677.4,2369.9 L678.3,2370.6 L679.2,2371.3 L680.2,2371.9 L681.1,2372.5 L682.1,2373.0 L683.1,2373.5 L684.1,2373.9 L685.2,2374.3 L686.3,2374.6 L687.4,2374.8 L688.5,2374.9 L689.7,2375.0 L690.8,2374.9 L692.0,2374.8 L693.1,2374.6 L694.3,2374.3 L695.4,2373.9 L696.5,2373.4 L697.5,2372.9 L698.5,2372.2 L699.4,2371.6 L700.4,2370.8 L701.2,2370.1 L702.0,2369.2 L702.8,2368.4 L703.6,2367.5 L704.3,2366.6 L705.0,2365.7 L705.6,2364.8 L706.2,2363.9 L706.8,2363.0 L707.4,2362.1 L708.0,2361.2 L708.5,2360.4 L709.1,2359.5 L709.6,2358.7 L710.1,2358.0 L710.5,2357.3 L711.0,2356.6 L711.5,2355.9 L712.0,2355.2 L712.5,2354.6 L713.1,2353.9 L713.7,2353.3 L714.3,2352.6 L715.0,2352.0 L715.7,2351.4 L716.4,2350.7 L717.2,2350.1 L718.0,2349.5 L718.8,2348.8 L719.6,2348.2 L720.5,2347.5 L721.4,2346.9 L722.3,2346.2 L723.2,2345.5 L724.1,2344.8 L724.9,2344.1 L725.8,2343.3 L726.5,2342.4 L727.3,2341.4 L727.9,2340.4 L728.5,2339.4 L729.0,2338.3 L729.5,2337.3 L729.9,2336.2 L730.2,2335.1 L730.4,2334.1 L730.7,2333.3 L730.9,2332.4" stroke="#2f6a3a" stroke-width="4.2" fill="none"/><path d="M646.0,2322.0 L645.5,2323.0 L645.0,2324.0 L644.6,2325.0 L644.1,2326.0 L643.6,2327.1 L643.2,2328.1 L642.8,2329.1 L642.5,2330.1 L642.2,2331.2 L641.9,2332.2 L641.7,2333.3 L641.6,2334.3 L641.5,2335.4 L641.5,2336.4 L641.6,2337.5 L641.7,2338.6 L641.9,2339.7 L642.2,2340.8 L642.5,2341.9 L643.0,2342.9 L643.5,2344.0 L644.1,2345.0 L644.8,2346.0 L645.6,2346.9 L646.3,2347.7 L647.1,2348.6 L648.0,2349.3 L648.8,2350.1 L649.7,2350.8 L650.6,2351.5 L651.6,2352.2 L652.5,2352.8 L653.4,2353.3 L654.3,2353.9 L655.2,2354.4 L656.1,2354.8 L657.0,2355.2 L657.8,2355.6 L658.7,2355.9 L659.4,2356.3 L660.2,2356.6 L661.0,2356.9 L661.7,2357.3 L662.4,2357.6 L663.1,2358.0 L663.9,2358.5 L664.6,2358.9 L665.4,2359.4 L666.1,2360.0 L666.9,2360.5 L667.7,2361.1 L668.4,2361.8 L669.2,2362.5 L670.0,2363.2 L670.8,2363.9 L671.6,2364.6 L672.4,2365.4 L673.2,2366.1 L674.0,2366.9 L674.8,2367.7 L675.7,2368.4 L676.5,2369.2 L677.4,2369.9 L678.3,2370.6 L679.2,2371.3 L680.2,2371.9 L681.1,2372.5 L682.1,2373.0 L683.1,2373.5 L684.1,2373.9 L685.2,2374.3 L686.3,2374.6 L687.4,2374.8 L688.5,2374.9 L689.7,2375.0 L690.8,2374.9 L692.0,2374.8 L693.1,2374.6 L694.3,2374.3 L695.4,2373.9 L696.5,2373.4 L697.5,2372.9 L698.5,2372.2 L699.4,2371.6 L700.4,2370.8 L701.2,2370.1 L702.0,2369.2 L702.8,2368.4 L703.6,2367.5 L704.3,2366.6 L705.0,2365.7 L705.6,2364.8 L706.2,2363.9 L706.8,2363.0 L707.4,2362.1 L708.0,2361.2 L708.5,2360.4 L709.1,2359.5 L709.6,2358.7 L710.1,2358.0 L710.5,2357.3 L711.0,2356.6 L711.5,2355.9 L712.0,2355.2 L712.5,2354.6 L713.1,2353.9 L713.7,2353.3 L714.3,2352.6 L715.0,2352.0 L715.7,2351.4 L716.4,2350.7 L717.2,2350.1 L718.0,2349.5 L718.8,2348.8 L719.6,2348.2 L720.5,2347.5 L721.4,2346.9 L722.3,2346.2 L723.2,2345.5 L724.1,2344.8 L724.9,2344.1 L725.8,2343.3 L726.5,2342.4 L727.3,2341.4 L727.9,2340.4 L728.5,2339.4 L729.0,2338.3 L729.5,2337.3 L729.9,2336.2 L730.2,2335.1 L730.4,2334.1 L730.7,2333.3 L730.9,2332.4" stroke="#a8d8a8" stroke-width="2.6" fill="none"/><path d="M646.0,2322.0 L646.6,2323.0 L647.1,2324.0 L647.7,2325.0 L648.2,2326.0 L648.6,2327.0 L649.1,2328.0 L649.5,2329.0 L649.9,2330.0 L650.3,2330.9 L650.6,2331.9 L650.8,2332.9 L651.1,2333.8 L651.3,2334.8 L651.4,2335.7 L651.5,2336.6 L651.6,2337.6 L651.6,2338.5 L651.6,2339.4 L651.5,2340.3 L651.5,2341.2 L651.4,2342.1 L651.3,2343.0 L651.2,2343.9 L651.1,2344.9 L651.0,2346.0 L650.9,2347.1 L650.8,2348.2 L650.7,2349.3 L650.7,2350.4 L650.6,2351.5 L650.6,2352.6 L650.7,2353.8 L650.8,2355.0 L650.9,2356.1 L651.2,2357.3 L651.5,2358.5 L651.9,2359.6 L652.5,2360.7 L653.1,2361.8 L653.8,2362.8 L654.5,2363.7 L655.4,2364.6 L656.3,2365.4 L657.3,2366.1 L658.3,2366.8 L659.3,2367.3 L660.4,2367.7 L661.4,2368.1 L662.5,2368.4 L663.6,2368.5 L664.7,2368.7 L665.9,2368.8 L667.0,2368.8 L668.1,2368.7 L669.2,2368.6 L670.3,2368.5 L671.5,2368.3 L672.6,2368.1 L673.7,2367.9 L674.8,2367.7 L675.9,2367.4 L677.0,2367.1 L678.1,2366.9 L679.2,2366.6 L680.2,2366.4 L681.2,2366.1 L682.3,2365.9 L683.3,2365.7 L684.2,2365.5 L685.2,2365.3 L686.2,2365.2 L687.1,2365.1 L688.0,2365.0 L688.9,2365.0 L689.7,2365.0 L690.6,2365.0 L691.4,2365.1 L692.3,2365.1 L693.2,2365.2 L694.0,2365.3 L694.9,2365.5 L695.9,2365.6 L696.8,2365.8 L697.8,2365.9 L698.8,2366.1 L699.9,2366.2 L701.0,2366.3 L702.0,2366.5 L703.2,2366.6 L704.3,2366.6 L705.4,2366.6 L706.6,2366.6 L707.7,2366.6 L708.9,2366.5 L710.0,2366.3 L711.1,2366.2 L712.3,2365.9 L713.4,2365.6 L714.5,2365.2 L715.6,2364.7 L716.6,2364.1 L717.6,2363.4 L718.6,2362.7 L719.4,2361.8 L720.2,2361.0 L720.9,2360.1 L721.5,2359.1 L722.1,2358.1 L722.6,2357.1 L723.0,2356.0 L723.3,2355.0 L723.6,2353.9 L723.8,2352.8 L723.9,2351.7 L724.0,2350.5 L724.1,2349.4 L724.1,2348.3 L724.1,2347.1 L724.1,2346.0 L724.1,2344.8 L724.0,2343.7 L723.8,2342.7 L723.6,2341.6 L723.3,2340.6 L723.0,2339.6 L722.7,2338.7 L722.4,2337.7 L722.1,2336.8 L721.8,2335.9 L721.5,2334.9 L721.3,2333.9 L721.2,2332.7 L721.1,2331.6" stroke="#2f6a3a" stroke-width="4.2" fill="none"/><path d="M646.0,2322.0 L646.6,2323.0 L647.1,2324.0 L647.7,2325.0 L648.2,2326.0 L648.6,2327.0 L649.1,2328.0 L649.5,2329.0 L649.9,2330.0 L650.3,2330.9 L650.6,2331.9 L650.8,2332.9 L651.1,2333.8 L651.3,2334.8 L651.4,2335.7 L651.5,2336.6 L651.6,2337.6 L651.6,2338.5 L651.6,2339.4 L651.5,2340.3 L651.5,2341.2 L651.4,2342.1 L651.3,2343.0 L651.2,2343.9 L651.1,2344.9 L651.0,2346.0 L650.9,2347.1 L650.8,2348.2 L650.7,2349.3 L650.7,2350.4 L650.6,2351.5 L650.6,2352.6 L650.7,2353.8 L650.8,2355.0 L650.9,2356.1 L651.2,2357.3 L651.5,2358.5 L651.9,2359.6 L652.5,2360.7 L653.1,2361.8 L653.8,2362.8 L654.5,2363.7 L655.4,2364.6 L656.3,2365.4 L657.3,2366.1 L658.3,2366.8 L659.3,2367.3 L660.4,2367.7 L661.4,2368.1 L662.5,2368.4 L663.6,2368.5 L664.7,2368.7 L665.9,2368.8 L667.0,2368.8 L668.1,2368.7 L669.2,2368.6 L670.3,2368.5 L671.5,2368.3 L672.6,2368.1 L673.7,2367.9 L674.8,2367.7 L675.9,2367.4 L677.0,2367.1 L678.1,2366.9 L679.2,2366.6 L680.2,2366.4 L681.2,2366.1 L682.3,2365.9 L683.3,2365.7 L684.2,2365.5 L685.2,2365.3 L686.2,2365.2 L687.1,2365.1 L688.0,2365.0 L688.9,2365.0 L689.7,2365.0 L690.6,2365.0 L691.4,2365.1 L692.3,2365.1 L693.2,2365.2 L694.0,2365.3 L694.9,2365.5 L695.9,2365.6 L696.8,2365.8 L697.8,2365.9 L698.8,2366.1 L699.9,2366.2 L701.0,2366.3 L702.0,2366.5 L703.2,2366.6 L704.3,2366.6 L705.4,2366.6 L706.6,2366.6 L707.7,2366.6 L708.9,2366.5 L710.0,2366.3 L711.1,2366.2 L712.3,2365.9 L713.4,2365.6 L714.5,2365.2 L715.6,2364.7 L716.6,2364.1 L717.6,2363.4 L718.6,2362.7 L719.4,2361.8 L720.2,2361.0 L720.9,2360.1 L721.5,2359.1 L722.1,2358.1 L722.6,2357.1 L723.0,2356.0 L723.3,2355.0 L723.6,2353.9 L723.8,2352.8 L723.9,2351.7 L724.0,2350.5 L724.1,2349.4 L724.1,2348.3 L724.1,2347.1 L724.1,2346.0 L724.1,2344.8 L724.0,2343.7 L723.8,2342.7 L723.6,2341.6 L723.3,2340.6 L723.0,2339.6 L722.7,2338.7 L722.4,2337.7 L722.1,2336.8 L721.8,2335.9 L721.5,2334.9 L721.3,2333.9 L721.2,2332.7 L721.1,2331.6" stroke="#a8d8a8" stroke-width="2.6" fill="none"/>
<line x1="655.0" y1="2341.0" x2="655.0" y2="2341.0" stroke="#d03a3a" stroke-width="1"/><line x1="656.3" y1="2346.5" x2="660.6" y2="2339.8" stroke="#e0c030" stroke-width="1"/><line x1="661.8" y1="2345.3" x2="661.8" y2="2345.3" stroke="#3a6ad0" stroke-width="1"/><line x1="667.3" y1="2344.0" x2="663.1" y2="2350.8" stroke="#40a040" stroke-width="1"/><line x1="668.7" y1="2349.5" x2="668.7" y2="2349.5" stroke="#a040a0" stroke-width="1"/><line x1="670.3" y1="2355.0" x2="674.1" y2="2347.9" stroke="#d03a3a" stroke-width="1"/><line x1="675.8" y1="2353.3" x2="675.8" y2="2353.3" stroke="#e0c030" stroke-width="1"/><line x1="680.9" y1="2351.1" x2="678.2" y2="2358.6" stroke="#3a6ad0" stroke-width="1"/><line x1="683.4" y1="2356.0" x2="683.4" y2="2356.0" stroke="#40a040" stroke-width="1"/><line x1="686.6" y1="2360.7" x2="688.0" y2="2352.9" stroke="#a040a0" stroke-width="1"/><line x1="691.3" y1="2357.4" x2="691.3" y2="2357.4" stroke="#d03a3a" stroke-width="1"/><line x1="695.7" y1="2353.9" x2="694.9" y2="2361.8" stroke="#e0c030" stroke-width="1"/><line x1="699.3" y1="2358.3" x2="699.3" y2="2358.3" stroke="#3a6ad0" stroke-width="1"/><line x1="702.8" y1="2362.7" x2="703.8" y2="2354.8" stroke="#40a040" stroke-width="1"/><line x1="707.3" y1="2359.4" x2="707.3" y2="2359.4" stroke="#a040a0" stroke-width="1"/><line x1="712.3" y1="2356.5" x2="710.1" y2="2364.2" stroke="#d03a3a" stroke-width="1"/><line x1="715.1" y1="2361.5" x2="715.1" y2="2361.5" stroke="#e0c030" stroke-width="1"/><line x1="717.5" y1="2366.5" x2="720.3" y2="2359.0" stroke="#3a6ad0" stroke-width="1"/><line x1="722.6" y1="2364.4" x2="722.6" y2="2364.4" stroke="#40a040" stroke-width="1"/><line x1="728.3" y1="2363.2" x2="723.7" y2="2369.8" stroke="#a040a0" stroke-width="1"/><line x1="729.1" y1="2369.0" x2="729.1" y2="2369.0" stroke="#d03a3a" stroke-width="1"/><line x1="728.9" y1="2374.5" x2="734.9" y2="2369.3" stroke="#e0c030" stroke-width="1"/><line x1="734.4" y1="2375.1" x2="734.4" y2="2375.1" stroke="#3a6ad0" stroke-width="1"/><line x1="740.1" y1="2376.3" x2="733.3" y2="2380.5" stroke="#40a040" stroke-width="1"/><line x1="738.7" y1="2381.9" x2="738.7" y2="2381.9" stroke="#a040a0" stroke-width="1"/><line x1="736.2" y1="2386.5" x2="744.1" y2="2384.8" stroke="#d03a3a" stroke-width="1"/><line x1="740.0" y1="2389.6" x2="740.0" y2="2389.6" stroke="#e0c030" stroke-width="1"/><line x1="741.9" y1="2395.2" x2="734.8" y2="2391.4" stroke="#3a6ad0" stroke-width="1"/><path d="M655.0,2341.0 L655.1,2342.8 L655.2,2344.4 L655.6,2345.7 L656.3,2346.5 L657.3,2346.8 L658.6,2346.6 L660.1,2346.0 L661.8,2345.3 L663.5,2344.5 L665.0,2344.0 L666.3,2343.8 L667.3,2344.0 L668.0,2344.8 L668.4,2346.1 L668.6,2347.7 L668.7,2349.5 L668.8,2351.3 L669.1,2353.0 L669.6,2354.2 L670.3,2355.0 L671.4,2355.2 L672.7,2354.9 L674.2,2354.2 L675.8,2353.3 L677.3,2352.3 L678.7,2351.5 L679.9,2351.0 L680.9,2351.1 L681.6,2351.6 L682.3,2352.7 L682.8,2354.3 L683.4,2356.0 L684.0,2357.7 L684.8,2359.2 L685.6,2360.2 L686.6,2360.7 L687.7,2360.6 L688.9,2359.9 L690.1,2358.8 L691.3,2357.4 L692.5,2356.0 L693.6,2354.8 L694.7,2354.1 L695.7,2353.9 L696.7,2354.3 L697.6,2355.3 L698.5,2356.7 L699.3,2358.3 L700.1,2359.9 L701.0,2361.3 L701.9,2362.3 L702.8,2362.7 L703.8,2362.6 L704.9,2361.8 L706.0,2360.7 L707.3,2359.4 L708.6,2358.1 L709.9,2357.1 L711.2,2356.5 L712.3,2356.5 L713.2,2357.0 L713.9,2358.2 L714.5,2359.7 L715.1,2361.5 L715.6,2363.2 L716.1,2364.7 L716.7,2365.9 L717.5,2366.5 L718.4,2366.5 L719.6,2366.1 L721.0,2365.3 L722.6,2364.4 L724.2,2363.5 L725.8,2363.0 L727.2,2362.8 L728.3,2363.2 L729.0,2364.1 L729.4,2365.5 L729.4,2367.2 L729.1,2369.0 L728.8,2370.8 L728.5,2372.4 L728.5,2373.7 L728.9,2374.5 L729.7,2375.1 L731.0,2375.2 L732.6,2375.2 L734.4,2375.1 L736.3,2375.0 L737.9,2375.1 L739.2,2375.5 L740.1,2376.3 L740.4,2377.4 L740.2,2378.7 L739.6,2380.3 L738.7,2381.9 L737.7,2383.5 L736.9,2384.8 L736.4,2385.8 L736.2,2386.5 L736.6,2386.9 L737.5,2387.5 L738.7,2388.4 L740.0,2389.6 L741.1,2391.1 L741.9,2392.7 L742.1,2394.1 L741.9,2395.2 L741.1,2396.0 L739.9,2396.3 L738.4,2396.6" stroke="#1f5a80" stroke-width="4.2" fill="none"/><path d="M655.0,2341.0 L655.1,2342.8 L655.2,2344.4 L655.6,2345.7 L656.3,2346.5 L657.3,2346.8 L658.6,2346.6 L660.1,2346.0 L661.8,2345.3 L663.5,2344.5 L665.0,2344.0 L666.3,2343.8 L667.3,2344.0 L668.0,2344.8 L668.4,2346.1 L668.6,2347.7 L668.7,2349.5 L668.8,2351.3 L669.1,2353.0 L669.6,2354.2 L670.3,2355.0 L671.4,2355.2 L672.7,2354.9 L674.2,2354.2 L675.8,2353.3 L677.3,2352.3 L678.7,2351.5 L679.9,2351.0 L680.9,2351.1 L681.6,2351.6 L682.3,2352.7 L682.8,2354.3 L683.4,2356.0 L684.0,2357.7 L684.8,2359.2 L685.6,2360.2 L686.6,2360.7 L687.7,2360.6 L688.9,2359.9 L690.1,2358.8 L691.3,2357.4 L692.5,2356.0 L693.6,2354.8 L694.7,2354.1 L695.7,2353.9 L696.7,2354.3 L697.6,2355.3 L698.5,2356.7 L699.3,2358.3 L700.1,2359.9 L701.0,2361.3 L701.9,2362.3 L702.8,2362.7 L703.8,2362.6 L704.9,2361.8 L706.0,2360.7 L707.3,2359.4 L708.6,2358.1 L709.9,2357.1 L711.2,2356.5 L712.3,2356.5 L713.2,2357.0 L713.9,2358.2 L714.5,2359.7 L715.1,2361.5 L715.6,2363.2 L716.1,2364.7 L716.7,2365.9 L717.5,2366.5 L718.4,2366.5 L719.6,2366.1 L721.0,2365.3 L722.6,2364.4 L724.2,2363.5 L725.8,2363.0 L727.2,2362.8 L728.3,2363.2 L729.0,2364.1 L729.4,2365.5 L729.4,2367.2 L729.1,2369.0 L728.8,2370.8 L728.5,2372.4 L728.5,2373.7 L728.9,2374.5 L729.7,2375.1 L731.0,2375.2 L732.6,2375.2 L734.4,2375.1 L736.3,2375.0 L737.9,2375.1 L739.2,2375.5 L740.1,2376.3 L740.4,2377.4 L740.2,2378.7 L739.6,2380.3 L738.7,2381.9 L737.7,2383.5 L736.9,2384.8 L736.4,2385.8 L736.2,2386.5 L736.6,2386.9 L737.5,2387.5 L738.7,2388.4 L740.0,2389.6 L741.1,2391.1 L741.9,2392.7 L742.1,2394.1 L741.9,2395.2 L741.1,2396.0 L739.9,2396.3 L738.4,2396.6" stroke="#8cc8e8" stroke-width="2.6" fill="none"/><path d="M655.0,2341.0 L656.7,2340.2 L658.2,2339.6 L659.6,2339.5 L660.6,2339.8 L661.3,2340.6 L661.7,2341.8 L661.8,2343.5 L661.8,2345.3 L661.8,2347.1 L662.0,2348.8 L662.4,2350.0 L663.1,2350.8 L664.2,2351.1 L665.5,2350.9 L667.0,2350.3 L668.7,2349.5 L670.3,2348.7 L671.8,2348.0 L673.1,2347.7 L674.1,2347.9 L674.8,2348.7 L675.3,2349.9 L675.6,2351.5 L675.8,2353.3 L676.1,2355.1 L676.6,2356.7 L677.3,2357.9 L678.2,2358.6 L679.3,2358.7 L680.6,2358.1 L682.0,2357.2 L683.4,2356.0 L684.7,2354.7 L685.9,2353.6 L687.0,2353.0 L688.0,2352.9 L688.9,2353.3 L689.7,2354.3 L690.5,2355.7 L691.3,2357.4 L692.1,2359.0 L693.0,2360.4 L693.9,2361.4 L694.9,2361.8 L695.9,2361.6 L697.0,2360.9 L698.1,2359.7 L699.3,2358.3 L700.5,2356.9 L701.6,2355.7 L702.8,2355.0 L703.8,2354.8 L704.8,2355.2 L705.7,2356.3 L706.6,2357.7 L707.3,2359.4 L708.0,2361.1 L708.6,2362.6 L709.3,2363.6 L710.1,2364.2 L711.2,2364.2 L712.4,2363.6 L713.7,2362.6 L715.1,2361.5 L716.5,2360.3 L717.9,2359.4 L719.2,2358.9 L720.3,2359.0 L721.2,2359.7 L721.9,2360.9 L722.3,2362.6 L722.6,2364.4 L722.7,2366.2 L722.9,2367.8 L723.1,2369.0 L723.7,2369.8 L724.6,2370.0 L725.8,2369.9 L727.4,2369.5 L729.1,2369.0 L730.9,2368.6 L732.6,2368.5 L734.0,2368.7 L734.9,2369.3 L735.4,2370.3 L735.4,2371.7 L735.0,2373.3 L734.4,2375.1 L733.8,2376.8 L733.3,2378.3 L733.1,2379.6 L733.3,2380.5 L734.1,2381.2 L735.3,2381.5 L736.9,2381.7 L738.7,2381.9 L740.5,2382.2 L742.1,2382.7 L743.4,2383.5 L744.1,2384.8 L744.0,2386.3 L743.1,2387.8 L741.7,2388.9 L740.0,2389.6 L738.2,2390.1 L736.7,2390.4 L735.5,2390.8 L734.8,2391.4 L734.6,2392.4 L734.9,2393.8 L735.6,2395.4" stroke="#1f5a80" stroke-width="4.2" fill="none"/><path d="M655.0,2341.0 L656.7,2340.2 L658.2,2339.6 L659.6,2339.5 L660.6,2339.8 L661.3,2340.6 L661.7,2341.8 L661.8,2343.5 L661.8,2345.3 L661.8,2347.1 L662.0,2348.8 L662.4,2350.0 L663.1,2350.8 L664.2,2351.1 L665.5,2350.9 L667.0,2350.3 L668.7,2349.5 L670.3,2348.7 L671.8,2348.0 L673.1,2347.7 L674.1,2347.9 L674.8,2348.7 L675.3,2349.9 L675.6,2351.5 L675.8,2353.3 L676.1,2355.1 L676.6,2356.7 L677.3,2357.9 L678.2,2358.6 L679.3,2358.7 L680.6,2358.1 L682.0,2357.2 L683.4,2356.0 L684.7,2354.7 L685.9,2353.6 L687.0,2353.0 L688.0,2352.9 L688.9,2353.3 L689.7,2354.3 L690.5,2355.7 L691.3,2357.4 L692.1,2359.0 L693.0,2360.4 L693.9,2361.4 L694.9,2361.8 L695.9,2361.6 L697.0,2360.9 L698.1,2359.7 L699.3,2358.3 L700.5,2356.9 L701.6,2355.7 L702.8,2355.0 L703.8,2354.8 L704.8,2355.2 L705.7,2356.3 L706.6,2357.7 L707.3,2359.4 L708.0,2361.1 L708.6,2362.6 L709.3,2363.6 L710.1,2364.2 L711.2,2364.2 L712.4,2363.6 L713.7,2362.6 L715.1,2361.5 L716.5,2360.3 L717.9,2359.4 L719.2,2358.9 L720.3,2359.0 L721.2,2359.7 L721.9,2360.9 L722.3,2362.6 L722.6,2364.4 L722.7,2366.2 L722.9,2367.8 L723.1,2369.0 L723.7,2369.8 L724.6,2370.0 L725.8,2369.9 L727.4,2369.5 L729.1,2369.0 L730.9,2368.6 L732.6,2368.5 L734.0,2368.7 L734.9,2369.3 L735.4,2370.3 L735.4,2371.7 L735.0,2373.3 L734.4,2375.1 L733.8,2376.8 L733.3,2378.3 L733.1,2379.6 L733.3,2380.5 L734.1,2381.2 L735.3,2381.5 L736.9,2381.7 L738.7,2381.9 L740.5,2382.2 L742.1,2382.7 L743.4,2383.5 L744.1,2384.8 L744.0,2386.3 L743.1,2387.8 L741.7,2388.9 L740.0,2389.6 L738.2,2390.1 L736.7,2390.4 L735.5,2390.8 L734.8,2391.4 L734.6,2392.4 L734.9,2393.8 L735.6,2395.4" stroke="#8cc8e8" stroke-width="2.6" fill="none"/>
<line x1="604.0" y1="2331.0" x2="604.0" y2="2331.0" stroke="#d03a3a" stroke-width="1"/><line x1="608.3" y1="2337.8" x2="607.8" y2="2323.9" stroke="#e0c030" stroke-width="1"/><line x1="612.1" y1="2332.0" x2="612.0" y2="2329.4" stroke="#3a6ad0" stroke-width="1"/><line x1="615.5" y1="2323.7" x2="616.6" y2="2337.1" stroke="#40a040" stroke-width="1"/><line x1="619.7" y1="2327.5" x2="620.4" y2="2332.5" stroke="#a040a0" stroke-width="1"/><line x1="625.2" y1="2335.5" x2="622.9" y2="2323.2" stroke="#d03a3a" stroke-width="1"/><line x1="628.8" y1="2332.2" x2="627.3" y2="2324.9" stroke="#e0c030" stroke-width="1"/><line x1="630.8" y1="2322.2" x2="633.2" y2="2333.2" stroke="#3a6ad0" stroke-width="1"/><line x1="634.9" y1="2322.2" x2="636.9" y2="2331.5" stroke="#40a040" stroke-width="1"/><line x1="640.8" y1="2330.6" x2="638.9" y2="2321.4" stroke="#a040a0" stroke-width="1"/><line x1="645.0" y1="2330.6" x2="642.6" y2="2319.7" stroke="#d03a3a" stroke-width="1"/><line x1="646.9" y1="2320.7" x2="648.6" y2="2327.8" stroke="#e0c030" stroke-width="1"/><line x1="650.4" y1="2317.2" x2="652.9" y2="2329.5" stroke="#3a6ad0" stroke-width="1"/><line x1="656.0" y1="2325.1" x2="655.2" y2="2320.1" stroke="#40a040" stroke-width="1"/><line x1="660.5" y1="2328.7" x2="658.8" y2="2315.4" stroke="#a040a0" stroke-width="1"/><line x1="663.5" y1="2320.3" x2="663.8" y2="2322.9" stroke="#d03a3a" stroke-width="1"/><line x1="667.0" y1="2314.2" x2="668.3" y2="2328.1" stroke="#e0c030" stroke-width="1"/><line x1="671.7" y1="2320.8" x2="671.7" y2="2320.8" stroke="#3a6ad0" stroke-width="1"/><line x1="676.1" y1="2327.5" x2="675.2" y2="2313.6" stroke="#40a040" stroke-width="1"/><line x1="679.8" y1="2321.6" x2="679.6" y2="2319.0" stroke="#a040a0" stroke-width="1"/><line x1="683.5" y1="2313.4" x2="684.0" y2="2326.8" stroke="#d03a3a" stroke-width="1"/><line x1="687.7" y1="2317.5" x2="687.8" y2="2322.5" stroke="#e0c030" stroke-width="1"/><line x1="691.6" y1="2326.3" x2="692.0" y2="2313.8" stroke="#3a6ad0" stroke-width="1"/><line x1="695.5" y1="2323.9" x2="696.1" y2="2316.6" stroke="#40a040" stroke-width="1"/><line x1="700.4" y1="2315.1" x2="699.3" y2="2326.2" stroke="#a040a0" stroke-width="1"/><line x1="704.4" y1="2316.4" x2="703.3" y2="2325.8" stroke="#d03a3a" stroke-width="1"/><line x1="707.4" y1="2326.2" x2="708.3" y2="2316.8" stroke="#e0c030" stroke-width="1"/><line x1="711.4" y1="2327.5" x2="712.3" y2="2316.3" stroke="#3a6ad0" stroke-width="1"/><line x1="715.9" y1="2318.4" x2="715.8" y2="2325.8" stroke="#40a040" stroke-width="1"/><line x1="719.5" y1="2315.8" x2="720.4" y2="2328.3" stroke="#a040a0" stroke-width="1"/><line x1="724.4" y1="2323.9" x2="723.4" y2="2319.0" stroke="#d03a3a" stroke-width="1"/><line x1="729.6" y1="2327.0" x2="726.0" y2="2314.0" stroke="#e0c030" stroke-width="1"/><line x1="731.3" y1="2318.1" x2="732.1" y2="2320.6" stroke="#3a6ad0" stroke-width="1"/><line x1="733.4" y1="2311.5" x2="737.7" y2="2324.8" stroke="#40a040" stroke-width="1"/><line x1="739.4" y1="2317.0" x2="739.4" y2="2317.0" stroke="#a040a0" stroke-width="1"/><line x1="744.2" y1="2323.1" x2="742.5" y2="2309.2" stroke="#d03a3a" stroke-width="1"/><line x1="747.3" y1="2317.3" x2="747.4" y2="2314.7" stroke="#e0c030" stroke-width="1"/><line x1="752.6" y1="2309.9" x2="750.2" y2="2323.2" stroke="#3a6ad0" stroke-width="1"/><line x1="756.0" y1="2315.0" x2="754.6" y2="2319.9" stroke="#40a040" stroke-width="1"/><line x1="757.3" y1="2324.5" x2="761.0" y2="2312.6" stroke="#a040a0" stroke-width="1"/><line x1="762.0" y1="2323.3" x2="764.0" y2="2316.2" stroke="#d03a3a" stroke-width="1"/><path d="M604.0,2331.0 L605.1,2333.5 L606.2,2335.6 L607.2,2337.1 L608.3,2337.8 L609.3,2337.5 L610.3,2336.4 L611.2,2334.4 L612.1,2332.0 L613.0,2329.3 L613.8,2326.9 L614.7,2324.9 L615.5,2323.7 L616.4,2323.4 L617.4,2324.0 L618.5,2325.4 L619.7,2327.5 L621.1,2329.8 L622.5,2332.2 L623.9,2334.2 L625.2,2335.5 L626.4,2336.0 L627.4,2335.6 L628.1,2334.2 L628.8,2332.2 L629.3,2329.6 L629.7,2326.9 L630.2,2324.3 L630.8,2322.2 L631.5,2320.9 L632.5,2320.5 L633.6,2320.9 L634.9,2322.2 L636.4,2324.2 L637.9,2326.4 L639.4,2328.7 L640.8,2330.6 L642.1,2332.0 L643.3,2332.4 L644.3,2332.0 L645.0,2330.6 L645.6,2328.5 L646.1,2326.0 L646.5,2323.2 L646.9,2320.7 L647.5,2318.6 L648.2,2317.2 L649.2,2316.8 L650.4,2317.2 L651.7,2318.5 L653.2,2320.5 L654.6,2322.8 L656.0,2325.1 L657.4,2327.1 L658.5,2328.5 L659.5,2329.1 L660.5,2328.7 L661.3,2327.5 L662.0,2325.5 L662.8,2323.0 L663.5,2320.3 L664.2,2317.8 L665.1,2315.8 L666.0,2314.6 L667.0,2314.2 L668.1,2314.9 L669.2,2316.3 L670.4,2318.4 L671.7,2320.8 L672.9,2323.3 L674.0,2325.4 L675.1,2326.9 L676.1,2327.5 L677.1,2327.2 L678.0,2326.0 L678.9,2324.0 L679.8,2321.6 L680.6,2319.0 L681.6,2316.5 L682.5,2314.6 L683.5,2313.4 L684.5,2313.1 L685.6,2313.8 L686.7,2315.3 L687.7,2317.5 L688.8,2320.0 L689.8,2322.5 L690.7,2324.7 L691.6,2326.3 L692.5,2327.0 L693.4,2326.8 L694.4,2325.8 L695.5,2323.9 L696.7,2321.6 L697.9,2319.1 L699.2,2316.9 L700.4,2315.1 L701.6,2314.0 L702.6,2313.9 L703.5,2314.7 L704.4,2316.4 L705.1,2318.7 L705.8,2321.3 L706.6,2323.9 L707.4,2326.2 L708.2,2327.9 L709.2,2328.7 L710.3,2328.5 L711.4,2327.5 L712.6,2325.6 L713.8,2323.3 L714.9,2320.8 L715.9,2318.4 L716.9,2316.5 L717.7,2315.4 L718.6,2315.1 L719.5,2315.8 L720.4,2317.2 L721.6,2319.3 L722.9,2321.6 L724.4,2323.9 L725.9,2325.9 L727.3,2327.1 L728.6,2327.5 L729.6,2327.0 L730.4,2325.6 L730.9,2323.5 L731.1,2320.9 L731.3,2318.1 L731.5,2315.5 L731.9,2313.4 L732.5,2312.0 L733.4,2311.5 L734.6,2311.8 L736.1,2313.0 L737.7,2314.8 L739.4,2317.0 L741.0,2319.2 L742.3,2321.1 L743.4,2322.5 L744.2,2323.1 L744.9,2322.8 L745.5,2321.6 L746.3,2319.7 L747.3,2317.3 L748.5,2314.8 L749.8,2312.6 L751.2,2310.8 L752.6,2309.9 L753.8,2309.9 L754.7,2310.8 L755.5,2312.6 L756.0,2315.0 L756.3,2317.7 L756.5,2320.4 L756.8,2322.8 L757.3,2324.5 L758.0,2325.5 L759.1,2325.6 L760.4,2324.8 L762.0,2323.3 L763.7,2321.2" stroke="#2f7a3a" stroke-width="4.2" fill="none"/><path d="M604.0,2331.0 L605.1,2333.5 L606.2,2335.6 L607.2,2337.1 L608.3,2337.8 L609.3,2337.5 L610.3,2336.4 L611.2,2334.4 L612.1,2332.0 L613.0,2329.3 L613.8,2326.9 L614.7,2324.9 L615.5,2323.7 L616.4,2323.4 L617.4,2324.0 L618.5,2325.4 L619.7,2327.5 L621.1,2329.8 L622.5,2332.2 L623.9,2334.2 L625.2,2335.5 L626.4,2336.0 L627.4,2335.6 L628.1,2334.2 L628.8,2332.2 L629.3,2329.6 L629.7,2326.9 L630.2,2324.3 L630.8,2322.2 L631.5,2320.9 L632.5,2320.5 L633.6,2320.9 L634.9,2322.2 L636.4,2324.2 L637.9,2326.4 L639.4,2328.7 L640.8,2330.6 L642.1,2332.0 L643.3,2332.4 L644.3,2332.0 L645.0,2330.6 L645.6,2328.5 L646.1,2326.0 L646.5,2323.2 L646.9,2320.7 L647.5,2318.6 L648.2,2317.2 L649.2,2316.8 L650.4,2317.2 L651.7,2318.5 L653.2,2320.5 L654.6,2322.8 L656.0,2325.1 L657.4,2327.1 L658.5,2328.5 L659.5,2329.1 L660.5,2328.7 L661.3,2327.5 L662.0,2325.5 L662.8,2323.0 L663.5,2320.3 L664.2,2317.8 L665.1,2315.8 L666.0,2314.6 L667.0,2314.2 L668.1,2314.9 L669.2,2316.3 L670.4,2318.4 L671.7,2320.8 L672.9,2323.3 L674.0,2325.4 L675.1,2326.9 L676.1,2327.5 L677.1,2327.2 L678.0,2326.0 L678.9,2324.0 L679.8,2321.6 L680.6,2319.0 L681.6,2316.5 L682.5,2314.6 L683.5,2313.4 L684.5,2313.1 L685.6,2313.8 L686.7,2315.3 L687.7,2317.5 L688.8,2320.0 L689.8,2322.5 L690.7,2324.7 L691.6,2326.3 L692.5,2327.0 L693.4,2326.8 L694.4,2325.8 L695.5,2323.9 L696.7,2321.6 L697.9,2319.1 L699.2,2316.9 L700.4,2315.1 L701.6,2314.0 L702.6,2313.9 L703.5,2314.7 L704.4,2316.4 L705.1,2318.7 L705.8,2321.3 L706.6,2323.9 L707.4,2326.2 L708.2,2327.9 L709.2,2328.7 L710.3,2328.5 L711.4,2327.5 L712.6,2325.6 L713.8,2323.3 L714.9,2320.8 L715.9,2318.4 L716.9,2316.5 L717.7,2315.4 L718.6,2315.1 L719.5,2315.8 L720.4,2317.2 L721.6,2319.3 L722.9,2321.6 L724.4,2323.9 L725.9,2325.9 L727.3,2327.1 L728.6,2327.5 L729.6,2327.0 L730.4,2325.6 L730.9,2323.5 L731.1,2320.9 L731.3,2318.1 L731.5,2315.5 L731.9,2313.4 L732.5,2312.0 L733.4,2311.5 L734.6,2311.8 L736.1,2313.0 L737.7,2314.8 L739.4,2317.0 L741.0,2319.2 L742.3,2321.1 L743.4,2322.5 L744.2,2323.1 L744.9,2322.8 L745.5,2321.6 L746.3,2319.7 L747.3,2317.3 L748.5,2314.8 L749.8,2312.6 L751.2,2310.8 L752.6,2309.9 L753.8,2309.9 L754.7,2310.8 L755.5,2312.6 L756.0,2315.0 L756.3,2317.7 L756.5,2320.4 L756.8,2322.8 L757.3,2324.5 L758.0,2325.5 L759.1,2325.6 L760.4,2324.8 L762.0,2323.3 L763.7,2321.2" stroke="#8fd08f" stroke-width="2.6" fill="none"/><path d="M604.0,2331.0 L604.9,2328.4 L605.9,2326.2 L606.8,2324.6 L607.8,2323.9 L608.8,2324.1 L609.8,2325.2 L610.9,2327.1 L612.0,2329.4 L613.1,2331.9 L614.3,2334.2 L615.5,2336.1 L616.6,2337.1 L617.7,2337.3 L618.8,2336.5 L619.7,2334.8 L620.4,2332.5 L621.1,2329.8 L621.7,2327.2 L622.3,2324.9 L622.9,2323.2 L623.8,2322.3 L624.7,2322.3 L625.9,2323.3 L627.3,2324.9 L628.7,2327.1 L630.3,2329.4 L631.8,2331.5 L633.2,2333.2 L634.4,2334.1 L635.4,2334.1 L636.3,2333.2 L636.9,2331.5 L637.4,2329.1 L637.9,2326.4 L638.4,2323.8 L638.9,2321.4 L639.6,2319.7 L640.4,2318.8 L641.3,2318.8 L642.6,2319.7 L643.9,2321.4 L645.5,2323.5 L647.0,2325.7 L648.6,2327.8 L650.0,2329.5 L651.2,2330.4 L652.2,2330.4 L652.9,2329.5 L653.6,2327.8 L654.1,2325.5 L654.6,2322.8 L655.2,2320.1 L655.9,2317.8 L656.7,2316.1 L657.7,2315.3 L658.8,2315.4 L660.0,2316.4 L661.2,2318.2 L662.5,2320.4 L663.8,2322.9 L665.0,2325.1 L666.2,2326.9 L667.3,2328.0 L668.3,2328.1 L669.2,2327.3 L670.1,2325.7 L670.9,2323.4 L671.7,2320.8 L672.5,2318.2 L673.3,2316.0 L674.2,2314.4 L675.2,2313.6 L676.3,2313.8 L677.4,2314.8 L678.5,2316.7 L679.6,2319.0 L680.8,2321.5 L681.9,2323.9 L682.9,2325.7 L684.0,2326.8 L684.9,2327.1 L685.9,2326.3 L686.8,2324.8 L687.8,2322.5 L688.8,2320.0 L689.8,2317.5 L690.9,2315.3 L692.0,2313.8 L693.1,2313.1 L694.2,2313.4 L695.2,2314.6 L696.1,2316.6 L696.9,2319.1 L697.7,2321.7 L698.5,2324.2 L699.3,2326.2 L700.1,2327.4 L701.1,2327.8 L702.1,2327.2 L703.3,2325.8 L704.6,2323.7 L705.8,2321.3 L707.1,2318.9 L708.3,2316.8 L709.5,2315.4 L710.5,2314.8 L711.4,2315.1 L712.3,2316.3 L713.1,2318.3 L713.9,2320.7 L714.8,2323.3 L715.8,2325.8 L716.9,2327.7 L718.1,2328.8 L719.2,2329.0 L720.4,2328.3 L721.4,2326.6 L722.3,2324.3 L722.9,2321.6 L723.4,2319.0 L723.9,2316.6 L724.4,2314.9 L725.1,2314.0 L726.0,2314.0 L727.3,2314.9 L728.7,2316.4 L730.4,2318.4 L732.1,2320.6 L733.8,2322.6 L735.4,2324.0 L736.7,2324.8 L737.7,2324.8 L738.4,2323.8 L738.8,2322.0 L739.1,2319.7 L739.4,2317.0 L739.8,2314.3 L740.4,2311.9 L741.3,2310.1 L742.5,2309.2 L743.8,2309.3 L745.2,2310.4 L746.4,2312.3 L747.4,2314.7 L748.3,2317.4 L748.9,2319.9 L749.5,2321.9 L750.2,2323.2 L751.0,2323.5 L752.0,2323.0 L753.2,2321.7 L754.6,2319.9 L756.3,2317.7 L758.0,2315.5 L759.6,2313.7 L761.0,2312.6 L762.2,2312.2 L763.1,2312.7 L763.7,2314.1 L764.0,2316.2 L764.3,2318.8" stroke="#2f7a3a" stroke-width="4.2" fill="none"/><path d="M604.0,2331.0 L604.9,2328.4 L605.9,2326.2 L606.8,2324.6 L607.8,2323.9 L608.8,2324.1 L609.8,2325.2 L610.9,2327.1 L612.0,2329.4 L613.1,2331.9 L614.3,2334.2 L615.5,2336.1 L616.6,2337.1 L617.7,2337.3 L618.8,2336.5 L619.7,2334.8 L620.4,2332.5 L621.1,2329.8 L621.7,2327.2 L622.3,2324.9 L622.9,2323.2 L623.8,2322.3 L624.7,2322.3 L625.9,2323.3 L627.3,2324.9 L628.7,2327.1 L630.3,2329.4 L631.8,2331.5 L633.2,2333.2 L634.4,2334.1 L635.4,2334.1 L636.3,2333.2 L636.9,2331.5 L637.4,2329.1 L637.9,2326.4 L638.4,2323.8 L638.9,2321.4 L639.6,2319.7 L640.4,2318.8 L641.3,2318.8 L642.6,2319.7 L643.9,2321.4 L645.5,2323.5 L647.0,2325.7 L648.6,2327.8 L650.0,2329.5 L651.2,2330.4 L652.2,2330.4 L652.9,2329.5 L653.6,2327.8 L654.1,2325.5 L654.6,2322.8 L655.2,2320.1 L655.9,2317.8 L656.7,2316.1 L657.7,2315.3 L658.8,2315.4 L660.0,2316.4 L661.2,2318.2 L662.5,2320.4 L663.8,2322.9 L665.0,2325.1 L666.2,2326.9 L667.3,2328.0 L668.3,2328.1 L669.2,2327.3 L670.1,2325.7 L670.9,2323.4 L671.7,2320.8 L672.5,2318.2 L673.3,2316.0 L674.2,2314.4 L675.2,2313.6 L676.3,2313.8 L677.4,2314.8 L678.5,2316.7 L679.6,2319.0 L680.8,2321.5 L681.9,2323.9 L682.9,2325.7 L684.0,2326.8 L684.9,2327.1 L685.9,2326.3 L686.8,2324.8 L687.8,2322.5 L688.8,2320.0 L689.8,2317.5 L690.9,2315.3 L692.0,2313.8 L693.1,2313.1 L694.2,2313.4 L695.2,2314.6 L696.1,2316.6 L696.9,2319.1 L697.7,2321.7 L698.5,2324.2 L699.3,2326.2 L700.1,2327.4 L701.1,2327.8 L702.1,2327.2 L703.3,2325.8 L704.6,2323.7 L705.8,2321.3 L707.1,2318.9 L708.3,2316.8 L709.5,2315.4 L710.5,2314.8 L711.4,2315.1 L712.3,2316.3 L713.1,2318.3 L713.9,2320.7 L714.8,2323.3 L715.8,2325.8 L716.9,2327.7 L718.1,2328.8 L719.2,2329.0 L720.4,2328.3 L721.4,2326.6 L722.3,2324.3 L722.9,2321.6 L723.4,2319.0 L723.9,2316.6 L724.4,2314.9 L725.1,2314.0 L726.0,2314.0 L727.3,2314.9 L728.7,2316.4 L730.4,2318.4 L732.1,2320.6 L733.8,2322.6 L735.4,2324.0 L736.7,2324.8 L737.7,2324.8 L738.4,2323.8 L738.8,2322.0 L739.1,2319.7 L739.4,2317.0 L739.8,2314.3 L740.4,2311.9 L741.3,2310.1 L742.5,2309.2 L743.8,2309.3 L745.2,2310.4 L746.4,2312.3 L747.4,2314.7 L748.3,2317.4 L748.9,2319.9 L749.5,2321.9 L750.2,2323.2 L751.0,2323.5 L752.0,2323.0 L753.2,2321.7 L754.6,2319.9 L756.3,2317.7 L758.0,2315.5 L759.6,2313.7 L761.0,2312.6 L762.2,2312.2 L763.1,2312.7 L763.7,2314.1 L764.0,2316.2 L764.3,2318.8" stroke="#8fd08f" stroke-width="2.6" fill="none"/>
<path d="M599.0,2318.5 L599.2,2317.5 L599.5,2316.4 L599.7,2315.3 L599.9,2314.3 L600.3,2313.2 L600.6,2312.3 L601.1,2311.4 L601.7,2310.7 L602.4,2310.2 L603.4,2309.9 L604.4,2309.8 L605.5,2309.8 L606.6,2309.7 L607.6,2309.4 L608.6,2309.0 L609.4,2308.2 L610.1,2307.1 L610.8,2305.7 L611.4,2304.1 L611.9,2302.3 L612.4,2300.5 L612.8,2298.7 L613.1,2296.9 L613.3,2295.2 L613.4,2293.6 L613.2,2291.9 L613.0,2290.2 L612.6,2288.5 L612.3,2286.8 L612.1,2285.2 L611.9,2283.7 L612.0,2282.3 L612.2,2281.0 L612.5,2279.7 L612.9,2278.4 L613.3,2277.2 L613.8,2276.1 L614.4,2275.1 L615.1,2274.2 L615.9,2273.3 L616.8,2272.6 L617.8,2271.9 L618.8,2271.3 L620.0,2270.9 L621.2,2270.4 L622.4,2270.1 L623.7,2269.7 L624.9,2269.4 L626.1,2269.1 L627.4,2268.8 L628.7,2268.5 L630.0,2268.3 L631.3,2268.1 L632.6,2268.0 L633.9,2268.0 L635.2,2268.1 L636.4,2268.4 L637.6,2269.0 L638.7,2269.6 L639.9,2270.4 L641.1,2271.1 L642.3,2271.6 L643.6,2272.0 L645.0,2272.0 L646.5,2271.6 L648.1,2270.9 L649.8,2270.0 L651.6,2268.9 L653.3,2267.8 L655.1,2266.8 L656.8,2266.0 L658.5,2265.5 L660.1,2265.3 L661.8,2265.2 L663.4,2265.2 L665.0,2265.3 L666.6,2265.6 L668.2,2265.9 L669.8,2266.3 L671.4,2266.8 L673.1,2267.3 L674.8,2267.9 L676.5,2268.6 L678.2,2269.4 L679.9,2270.3 L681.5,2271.2 L683.0,2272.2 L684.3,2273.3 L685.4,2274.5 L686.5,2275.8 L687.4,2277.2 L688.2,2278.7 L688.9,2280.2 L689.6,2281.8 L690.2,2283.4 L690.8,2284.9 L691.3,2286.5 L691.8,2288.1 L692.3,2289.7 L692.7,2291.3 L693.0,2293.0 L693.2,2294.6 L693.4,2296.2 L693.4,2297.8 L693.4,2299.4 L693.3,2300.9 L693.1,2302.5 L692.8,2304.1 L692.5,2305.6 L692.0,2307.0 L691.5,2308.3 L690.8,2309.5 L690.0,2310.6 L689.1,2311.6 L688.1,2312.5 L687.1,2313.3 L685.9,2314.0 L684.6,2314.7 L683.2,2315.3 L681.7,2315.9 L680.1,2316.4 L678.2,2316.8 L676.3,2317.2 L674.3,2317.4 L672.2,2317.7 L670.1,2317.9 L668.1,2318.2 L666.2,2318.5 L664.3,2318.8 L662.4,2319.0 L660.4,2319.1 L658.5,2319.3 L656.7,2319.6 L655.0,2319.9 L653.4,2320.4 L652.0,2321.1 L650.9,2322.0 L649.9,2323.2 L649.2,2324.5 L648.6,2325.9 L648.0,2327.4 L647.3,2328.8 L646.5,2330.2 L645.6,2331.4 L644.5,2332.5 L643.3,2333.6 L642.1,2334.6 L640.8,2335.6 L639.5,2336.6 L638.1,2337.5 L636.6,2338.4 L635.2,2339.2 L633.7,2340.0 L632.1,2340.8 L630.4,2341.6 L628.7,2342.3 L627.1,2343.0 L625.4,2343.5 L623.8,2344.0 L622.3,2344.3 L620.9,2344.5 L619.5,2344.5 L618.2,2344.5 L616.9,2344.4 L615.7,2344.1 L614.4,2343.8 L613.2,2343.5 L612.0,2343.0 L610.8,2342.5 L609.6,2341.9 L608.4,2341.1 L607.2,2340.4 L606.0,2339.5 L605.0,2338.6 L603.9,2337.6 L603.0,2336.6 L602.1,2335.5 L601.3,2334.2 L600.5,2332.9 L599.8,2331.5 L599.1,2330.1 L598.6,2328.7 L598.1,2327.4 L597.8,2326.2 L597.6,2325.1 L597.6,2324.1 L597.7,2323.1 L597.9,2322.2 L598.2,2321.3 L598.4,2320.4 L598.7,2319.4 Z" fill="url(#smadg)" stroke="#111" stroke-width="1.6"/>
<path d="M619.8,2274.5 C614.8,2278.5 612.8,2285.5 612.8,2293.5" stroke="#dff4fc" stroke-width="2.5" fill="none" stroke-linecap="round" opacity="0.85"/>
<text x="619.7" y="2304.5" font-size="17.5" font-weight="bold" fill="#000" stroke="#000" stroke-width="0.9" textLength="67.2" lengthAdjust="spacingAndGlyphs">SMAD3</text>
<circle cx="645.6" cy="2266.8" r="9.8" fill="#f20d0d" stroke="#1a0000" stroke-width="1.3"/><text x="645.6" y="2271.4" font-size="13.2" font-weight="bold" text-anchor="middle" fill="#000" stroke="#000" stroke-width="0.4">P</text>
<path d="M495.6,2144.6 L496.2,2144.0 L496.8,2143.5 L497.6,2142.9 L498.4,2142.4 L499.2,2141.9 L500.1,2141.5 L501.0,2141.1 L502.0,2140.7 L503.0,2140.4 L504.1,2140.1 L505.3,2139.9 L506.5,2139.6 L507.7,2139.5 L508.9,2139.4 L510.0,2139.4 L511.0,2139.4 L511.9,2139.5 L512.7,2139.7 L513.4,2140.0 L514.2,2140.4 L514.9,2140.8 L515.7,2141.2 L516.5,2141.6 L517.5,2142.0 L518.6,2142.5 L519.8,2143.2 L521.1,2143.9 L522.4,2144.7 L523.8,2145.3 L525.2,2145.8 L526.6,2146.1 L528.0,2146.0 L529.4,2145.5 L530.9,2144.7 L532.4,2143.6 L533.9,2142.4 L535.4,2141.1 L536.9,2139.9 L538.2,2138.8 L539.5,2138.0 L540.6,2137.4 L541.7,2136.9 L542.6,2136.5 L543.5,2136.2 L544.4,2136.0 L545.3,2135.8 L546.2,2135.7 L547.3,2135.5 L548.5,2135.3 L549.7,2135.2 L551.0,2135.1 L552.3,2135.0 L553.6,2135.0 L555.0,2135.1 L556.3,2135.2 L557.6,2135.5 L558.9,2135.9 L560.3,2136.3 L561.7,2136.9 L563.0,2137.5 L564.4,2138.2 L565.7,2139.0 L566.9,2139.8 L568.0,2140.7 L569.0,2141.6 L570.0,2142.6 L570.8,2143.6 L571.6,2144.7 L572.4,2145.9 L573.1,2147.1 L573.8,2148.4 L574.4,2149.7 L575.0,2151.1 L575.6,2152.7 L576.1,2154.3 L576.6,2156.0 L577.0,2157.7 L577.3,2159.4 L577.6,2161.1 L577.7,2162.7 L577.7,2164.4 L577.6,2166.1 L577.5,2167.8 L577.2,2169.5 L576.9,2171.1 L576.5,2172.7 L576.1,2174.2 L575.7,2175.6 L575.3,2176.8 L574.8,2177.9 L574.3,2179.0 L573.8,2179.9 L573.2,2180.8 L572.4,2181.7 L571.5,2182.5 L570.5,2183.3 L569.3,2184.1 L567.8,2184.8 L566.2,2185.6 L564.5,2186.2 L562.8,2186.9 L561.0,2187.4 L559.3,2188.0 L557.6,2188.5 L556.0,2188.9 L554.3,2189.3 L552.7,2189.5 L551.0,2189.8 L549.4,2190.0 L547.7,2190.2 L546.2,2190.6 L544.7,2191.0 L543.3,2191.5 L541.9,2192.0 L540.6,2192.5 L539.3,2193.1 L538.1,2193.8 L536.8,2194.5 L535.6,2195.3 L534.3,2196.2 L533.0,2197.3 L531.8,2198.5 L530.5,2199.8 L529.3,2201.2 L528.1,2202.7 L526.8,2204.1 L525.4,2205.4 L524.0,2206.6 L522.5,2207.7 L520.9,2208.9 L519.2,2210.0 L517.5,2211.0 L515.8,2212.0 L514.1,2212.9 L512.5,2213.7 L511.0,2214.3 L509.6,2214.8 L508.2,2215.2 L506.9,2215.5 L505.7,2215.8 L504.4,2215.9 L503.2,2215.9 L502.0,2215.8 L500.7,2215.6 L499.4,2215.3 L498.1,2214.9 L496.7,2214.3 L495.4,2213.7 L494.1,2213.0 L492.8,2212.2 L491.6,2211.4 L490.4,2210.5 L489.3,2209.6 L488.2,2208.5 L487.1,2207.4 L486.1,2206.3 L485.1,2205.1 L484.2,2203.9 L483.4,2202.6 L482.7,2201.4 L482.0,2200.1 L481.5,2198.8 L480.9,2197.5 L480.5,2196.1 L480.1,2194.8 L479.8,2193.4 L479.7,2192.2 L479.6,2191.0 L479.7,2189.9 L479.9,2188.7 L480.2,2187.6 L480.6,2186.6 L481.1,2185.6 L481.6,2184.7 L482.2,2183.9 L482.7,2183.3 L483.3,2182.9 L483.9,2182.6 L484.6,2182.5 L485.3,2182.5 L486.0,2182.5 L486.7,2182.4 L487.3,2182.3 L487.8,2182.0 L488.2,2181.5 L488.6,2181.0 L488.9,2180.3 L489.2,2179.6 L489.4,2178.9 L489.7,2178.2 L490.0,2177.5 L490.4,2176.9 L490.9,2176.4 L491.4,2175.9 L492.0,2175.5 L492.6,2175.1 L493.2,2174.7 L493.7,2174.2 L494.1,2173.7 L494.3,2173.0 L494.4,2172.2 L494.3,2171.3 L494.2,2170.4 L493.9,2169.4 L493.7,2168.4 L493.4,2167.3 L493.2,2166.3 L493.0,2165.3 L492.9,2164.3 L492.8,2163.4 L492.7,2162.4 L492.6,2161.4 L492.5,2160.4 L492.5,2159.5 L492.5,2158.5 L492.5,2157.5 L492.5,2156.5 L492.6,2155.5 L492.7,2154.5 L492.8,2153.4 L493.0,2152.4 L493.1,2151.5 L493.3,2150.5 L493.5,2149.7 L493.7,2148.9 L493.8,2148.2 L494.0,2147.5 L494.2,2146.9 L494.4,2146.3 L494.7,2145.7 L495.1,2145.2 Z" fill="url(#smadg)" stroke="#111" stroke-width="1.6"/>
<path d="M501.6,2144.5 C496.6,2148.5 494.6,2155.5 494.6,2163.5" stroke="#dff4fc" stroke-width="2.5" fill="none" stroke-linecap="round" opacity="0.85"/>
<text x="502" y="2174.3" font-size="18" font-weight="bold" fill="#000" stroke="#000" stroke-width="0.9" textLength="68.5" lengthAdjust="spacingAndGlyphs">SMAD3</text>
<circle cx="527.9" cy="2136.3" r="10.3" fill="#f20d0d" stroke="#1a0000" stroke-width="1.3"/><text x="527.9" y="2141.1" font-size="13.9" font-weight="bold" text-anchor="middle" fill="#000" stroke="#000" stroke-width="0.4">P</text>
<path d="M326.9,1961.0 L326.6,1960.1 L326.1,1959.0 L325.6,1957.6 L325.0,1956.1 L324.5,1954.5 L324.0,1952.9 L323.6,1951.4 L323.5,1950.0 L323.6,1948.7 L324.0,1947.4 L324.5,1946.1 L325.0,1944.9 L325.6,1943.6 L326.1,1942.4 L326.4,1941.2 L326.5,1940.0 L326.3,1938.8 L325.9,1937.6 L325.4,1936.4 L324.8,1935.2 L324.1,1934.1 L323.5,1933.0 L322.9,1932.0 L322.5,1931.0 L322.2,1930.1 L321.8,1929.2 L321.6,1928.4 L321.3,1927.7 L321.1,1926.9 L321.0,1926.3 L321.0,1925.6 L321.0,1925.0 L321.2,1924.4 L321.4,1923.9 L321.8,1923.3 L322.2,1922.8 L322.6,1922.4 L323.1,1922.0 L323.6,1921.7 L324.0,1921.5 L324.4,1921.4 L324.9,1921.4 L325.4,1921.4 L325.9,1921.5 L326.4,1921.7 L326.9,1921.8 L327.2,1921.9 L327.5,1922.0 M336.6,2022.0 L336.6,2022.8 L336.5,2023.9 L336.5,2025.3 L336.4,2026.8 L336.4,2028.2 L336.5,2029.7 L336.7,2031.0 L337.0,2032.0 L337.5,2032.8 L338.0,2033.5 L338.7,2034.1 L339.5,2034.6 L340.3,2035.0 L341.2,2035.4 L342.1,2035.7 L343.0,2036.0 L344.0,2036.3 L345.1,2036.6 L346.3,2036.9 L347.5,2037.1 L348.7,2037.2 L349.9,2037.2 L351.0,2037.2 L352.0,2037.0 L352.9,2036.7 L353.9,2036.3 L354.8,2035.9 L355.6,2035.3 L356.4,2034.7 L357.0,2033.9 L357.6,2033.0 L358.0,2032.0 L358.2,2030.8 L358.3,2029.2 L358.3,2027.5 L358.1,2025.7 L357.9,2023.9 L357.7,2022.3 L357.6,2021.0 L357.5,2020.0 M347.9,1958.0 L347.8,1957.3 L347.5,1956.2 L347.2,1955.0 L346.9,1953.6 L346.7,1952.3 L346.6,1951.0 L346.7,1949.9 L347.0,1949.0 L347.6,1948.4 L348.4,1948.0 L349.4,1947.7 L350.5,1947.5 L351.7,1947.4 L352.9,1947.3 L354.0,1947.2 L355.0,1947.0 L355.9,1946.8 L356.9,1946.6 L357.8,1946.4 L358.8,1946.2 L359.6,1946.0 L360.5,1945.9 L361.3,1945.9 L362.0,1946.0 L362.7,1946.2 L363.3,1946.4 L363.8,1946.7 L364.4,1947.1 L364.8,1947.5 L365.3,1947.9 L365.7,1948.5 L366.0,1949.0 L366.3,1949.6 L366.5,1950.4 L366.7,1951.3 L366.9,1952.2 L367.0,1953.1 L367.1,1953.9 L367.1,1954.5 L367.2,1955.0 M376.9,2014.0 L376.7,2015.0 L376.4,2016.3 L376.0,2017.9 L375.6,2019.7 L375.2,2021.5 L375.0,2023.2 L374.9,2024.8 L375.0,2026.0 L375.3,2027.0 L375.8,2027.8 L376.5,2028.5 L377.2,2029.1 L378.0,2029.7 L379.0,2030.1 L380.0,2030.6 L381.0,2031.0 L382.2,2031.4 L383.5,2031.8 L384.9,2032.2 L386.4,2032.5 L387.9,2032.7 L389.3,2032.9 L390.7,2033.0 L392.0,2033.0 L393.2,2033.0 L394.5,2032.9 L395.7,2032.9 L396.9,2032.7 L398.0,2032.4 L398.9,2031.9 L399.6,2031.1 L400.0,2030.0 L400.1,2028.4 L399.8,2026.3 L399.3,2023.9 L398.6,2021.3 L397.9,2018.7 L397.2,2016.4 L396.7,2014.4 L396.3,2013.0 M388.2,1952.0 L388.4,1951.5 L388.7,1950.9 L389.0,1950.2 L389.3,1949.4 L389.7,1948.5 L389.9,1947.6 L390.0,1946.8 L390.0,1946.0 L389.8,1945.2 L389.4,1944.5 L389.0,1943.7 L388.5,1942.9 L387.9,1942.1 L387.2,1941.4 L386.6,1940.7 L386.0,1940.0 L385.4,1939.4 L384.6,1939.0 L383.9,1938.6 L383.1,1938.2 L382.3,1937.8 L381.6,1937.3 L381.0,1936.7 L380.5,1936.0 L380.1,1935.1 L379.8,1933.9 L379.6,1932.6 L379.5,1931.2 L379.4,1929.9 L379.3,1928.7 L379.3,1927.7 L379.2,1927.0 M407.6,1948.0 L407.5,1947.5 L407.4,1946.8 L407.3,1946.0 L407.1,1945.1 L406.9,1944.2 L406.7,1943.1 L406.4,1942.1 L406.0,1941.0 L405.5,1939.9 L405.0,1938.7 L404.4,1937.5 L403.8,1936.2 L403.1,1934.9 L402.4,1933.6 L401.7,1932.3 L401.0,1931.0 L400.3,1929.7 L399.4,1928.3 L398.6,1926.8 L397.7,1925.4 L396.9,1924.0 L396.2,1922.8 L395.6,1921.8 L395.1,1921.0 M415.7,2010.0 L415.8,2011.0 L415.8,2012.3 L415.8,2013.9 L415.9,2015.6 L416.0,2017.4 L416.2,2019.1 L416.6,2020.7 L417.0,2022.0 L417.6,2023.1 L418.3,2024.1 L419.2,2025.1 L420.1,2025.9 L421.1,2026.7 L422.0,2027.3 L423.0,2027.7 L424.0,2028.0 L425.0,2028.2 L426.0,2028.2 L427.1,2028.2 L428.2,2028.0 L429.3,2027.6 L430.3,2027.0 L431.2,2026.2 L432.0,2025.0 L432.6,2023.3 L433.2,2021.1 L433.6,2018.6 L434.0,2015.8 L434.3,2013.1 L434.6,2010.6 L434.8,2008.5 L435.0,2007.0 M427.6,1947.0 L427.4,1946.2 L427.1,1945.1 L426.8,1943.7 L426.4,1942.2 L426.1,1940.8 L425.9,1939.3 L425.8,1938.0 L426.0,1937.0 L426.4,1936.2 L427.0,1935.6 L427.7,1935.2 L428.5,1934.8 L429.4,1934.5 L430.3,1934.1 L431.2,1933.6 L432.0,1933.0 L432.7,1932.2 L433.5,1931.2 L434.2,1930.2 L434.9,1929.1 L435.7,1928.0 L436.4,1927.1 L437.2,1926.4 L438.0,1926.0 L438.9,1925.8 L439.8,1925.8 L440.8,1926.0 L441.8,1926.2 L442.7,1926.7 L443.6,1927.3 L444.4,1928.1 L445.0,1929.0 L445.5,1930.2 L445.9,1931.9 L446.2,1933.7 L446.4,1935.7 L446.6,1937.6 L446.8,1939.4 L446.9,1940.9 L447.0,1942.0 M456.0,2003.0 L456.5,2003.8 L457.3,2004.7 L458.2,2005.9 L459.2,2007.2 L460.1,2008.6 L461.0,2010.1 L461.6,2011.5 L462.0,2013.0 L462.1,2014.5 L461.9,2016.1 L461.5,2017.7 L461.1,2019.4 L460.5,2021.1 L460.0,2022.8 L459.4,2024.4 L459.0,2026.0 L458.6,2027.6 L458.0,2029.2 L457.5,2030.7 L456.9,2032.3 L456.5,2033.8 L456.1,2035.3 L455.9,2036.7 L456.0,2038.0 L456.3,2039.2 L456.8,2040.4 L457.5,2041.5 L458.4,2042.5 L459.3,2043.5 L460.2,2044.4 L461.1,2045.2 L462.0,2046.0 L462.9,2046.7 L463.8,2047.4 L464.9,2048.0 L465.9,2048.5 L466.8,2049.0 L467.7,2049.4 L468.5,2049.7 L469.0,2050.0 " stroke="#174f72" stroke-width="3.6" fill="none" stroke-linecap="round"/>
<path d="M326.9,1961.0 L326.6,1960.1 L326.1,1959.0 L325.6,1957.6 L325.0,1956.1 L324.5,1954.5 L324.0,1952.9 L323.6,1951.4 L323.5,1950.0 L323.6,1948.7 L324.0,1947.4 L324.5,1946.1 L325.0,1944.9 L325.6,1943.6 L326.1,1942.4 L326.4,1941.2 L326.5,1940.0 L326.3,1938.8 L325.9,1937.6 L325.4,1936.4 L324.8,1935.2 L324.1,1934.1 L323.5,1933.0 L322.9,1932.0 L322.5,1931.0 L322.2,1930.1 L321.8,1929.2 L321.6,1928.4 L321.3,1927.7 L321.1,1926.9 L321.0,1926.3 L321.0,1925.6 L321.0,1925.0 L321.2,1924.4 L321.4,1923.9 L321.8,1923.3 L322.2,1922.8 L322.6,1922.4 L323.1,1922.0 L323.6,1921.7 L324.0,1921.5 L324.4,1921.4 L324.9,1921.4 L325.4,1921.4 L325.9,1921.5 L326.4,1921.7 L326.9,1921.8 L327.2,1921.9 L327.5,1922.0 M336.6,2022.0 L336.6,2022.8 L336.5,2023.9 L336.5,2025.3 L336.4,2026.8 L336.4,2028.2 L336.5,2029.7 L336.7,2031.0 L337.0,2032.0 L337.5,2032.8 L338.0,2033.5 L338.7,2034.1 L339.5,2034.6 L340.3,2035.0 L341.2,2035.4 L342.1,2035.7 L343.0,2036.0 L344.0,2036.3 L345.1,2036.6 L346.3,2036.9 L347.5,2037.1 L348.7,2037.2 L349.9,2037.2 L351.0,2037.2 L352.0,2037.0 L352.9,2036.7 L353.9,2036.3 L354.8,2035.9 L355.6,2035.3 L356.4,2034.7 L357.0,2033.9 L357.6,2033.0 L358.0,2032.0 L358.2,2030.8 L358.3,2029.2 L358.3,2027.5 L358.1,2025.7 L357.9,2023.9 L357.7,2022.3 L357.6,2021.0 L357.5,2020.0 M347.9,1958.0 L347.8,1957.3 L347.5,1956.2 L347.2,1955.0 L346.9,1953.6 L346.7,1952.3 L346.6,1951.0 L346.7,1949.9 L347.0,1949.0 L347.6,1948.4 L348.4,1948.0 L349.4,1947.7 L350.5,1947.5 L351.7,1947.4 L352.9,1947.3 L354.0,1947.2 L355.0,1947.0 L355.9,1946.8 L356.9,1946.6 L357.8,1946.4 L358.8,1946.2 L359.6,1946.0 L360.5,1945.9 L361.3,1945.9 L362.0,1946.0 L362.7,1946.2 L363.3,1946.4 L363.8,1946.7 L364.4,1947.1 L364.8,1947.5 L365.3,1947.9 L365.7,1948.5 L366.0,1949.0 L366.3,1949.6 L366.5,1950.4 L366.7,1951.3 L366.9,1952.2 L367.0,1953.1 L367.1,1953.9 L367.1,1954.5 L367.2,1955.0 M376.9,2014.0 L376.7,2015.0 L376.4,2016.3 L376.0,2017.9 L375.6,2019.7 L375.2,2021.5 L375.0,2023.2 L374.9,2024.8 L375.0,2026.0 L375.3,2027.0 L375.8,2027.8 L376.5,2028.5 L377.2,2029.1 L378.0,2029.7 L379.0,2030.1 L380.0,2030.6 L381.0,2031.0 L382.2,2031.4 L383.5,2031.8 L384.9,2032.2 L386.4,2032.5 L387.9,2032.7 L389.3,2032.9 L390.7,2033.0 L392.0,2033.0 L393.2,2033.0 L394.5,2032.9 L395.7,2032.9 L396.9,2032.7 L398.0,2032.4 L398.9,2031.9 L399.6,2031.1 L400.0,2030.0 L400.1,2028.4 L399.8,2026.3 L399.3,2023.9 L398.6,2021.3 L397.9,2018.7 L397.2,2016.4 L396.7,2014.4 L396.3,2013.0 M388.2,1952.0 L388.4,1951.5 L388.7,1950.9 L389.0,1950.2 L389.3,1949.4 L389.7,1948.5 L389.9,1947.6 L390.0,1946.8 L390.0,1946.0 L389.8,1945.2 L389.4,1944.5 L389.0,1943.7 L388.5,1942.9 L387.9,1942.1 L387.2,1941.4 L386.6,1940.7 L386.0,1940.0 L385.4,1939.4 L384.6,1939.0 L383.9,1938.6 L383.1,1938.2 L382.3,1937.8 L381.6,1937.3 L381.0,1936.7 L380.5,1936.0 L380.1,1935.1 L379.8,1933.9 L379.6,1932.6 L379.5,1931.2 L379.4,1929.9 L379.3,1928.7 L379.3,1927.7 L379.2,1927.0 M407.6,1948.0 L407.5,1947.5 L407.4,1946.8 L407.3,1946.0 L407.1,1945.1 L406.9,1944.2 L406.7,1943.1 L406.4,1942.1 L406.0,1941.0 L405.5,1939.9 L405.0,1938.7 L404.4,1937.5 L403.8,1936.2 L403.1,1934.9 L402.4,1933.6 L401.7,1932.3 L401.0,1931.0 L400.3,1929.7 L399.4,1928.3 L398.6,1926.8 L397.7,1925.4 L396.9,1924.0 L396.2,1922.8 L395.6,1921.8 L395.1,1921.0 M415.7,2010.0 L415.8,2011.0 L415.8,2012.3 L415.8,2013.9 L415.9,2015.6 L416.0,2017.4 L416.2,2019.1 L416.6,2020.7 L417.0,2022.0 L417.6,2023.1 L418.3,2024.1 L419.2,2025.1 L420.1,2025.9 L421.1,2026.7 L422.0,2027.3 L423.0,2027.7 L424.0,2028.0 L425.0,2028.2 L426.0,2028.2 L427.1,2028.2 L428.2,2028.0 L429.3,2027.6 L430.3,2027.0 L431.2,2026.2 L432.0,2025.0 L432.6,2023.3 L433.2,2021.1 L433.6,2018.6 L434.0,2015.8 L434.3,2013.1 L434.6,2010.6 L434.8,2008.5 L435.0,2007.0 M427.6,1947.0 L427.4,1946.2 L427.1,1945.1 L426.8,1943.7 L426.4,1942.2 L426.1,1940.8 L425.9,1939.3 L425.8,1938.0 L426.0,1937.0 L426.4,1936.2 L427.0,1935.6 L427.7,1935.2 L428.5,1934.8 L429.4,1934.5 L430.3,1934.1 L431.2,1933.6 L432.0,1933.0 L432.7,1932.2 L433.5,1931.2 L434.2,1930.2 L434.9,1929.1 L435.7,1928.0 L436.4,1927.1 L437.2,1926.4 L438.0,1926.0 L438.9,1925.8 L439.8,1925.8 L440.8,1926.0 L441.8,1926.2 L442.7,1926.7 L443.6,1927.3 L444.4,1928.1 L445.0,1929.0 L445.5,1930.2 L445.9,1931.9 L446.2,1933.7 L446.4,1935.7 L446.6,1937.6 L446.8,1939.4 L446.9,1940.9 L447.0,1942.0 M456.0,2003.0 L456.5,2003.8 L457.3,2004.7 L458.2,2005.9 L459.2,2007.2 L460.1,2008.6 L461.0,2010.1 L461.6,2011.5 L462.0,2013.0 L462.1,2014.5 L461.9,2016.1 L461.5,2017.7 L461.1,2019.4 L460.5,2021.1 L460.0,2022.8 L459.4,2024.4 L459.0,2026.0 L458.6,2027.6 L458.0,2029.2 L457.5,2030.7 L456.9,2032.3 L456.5,2033.8 L456.1,2035.3 L455.9,2036.7 L456.0,2038.0 L456.3,2039.2 L456.8,2040.4 L457.5,2041.5 L458.4,2042.5 L459.3,2043.5 L460.2,2044.4 L461.1,2045.2 L462.0,2046.0 L462.9,2046.7 L463.8,2047.4 L464.9,2048.0 L465.9,2048.5 L466.8,2049.0 L467.7,2049.4 L468.5,2049.7 L469.0,2050.0 " stroke="#2a87ba" stroke-width="2" fill="none" stroke-linecap="round"/>
<rect x="-6" y="-34.1" width="12" height="68.2" rx="6" ry="6" fill="#2a87ba" stroke="#174f72" stroke-width="1.2" transform="translate(331.8,1992.0) rotate(-9.0)"/>
<rect x="-6" y="-34.1" width="12" height="68.2" rx="6" ry="6" fill="#2a87ba" stroke="#174f72" stroke-width="1.2" transform="translate(352.7,1988.8) rotate(-8.9)"/>
<rect x="-6" y="-33.2" width="12" height="66.5" rx="6" ry="6" fill="#2a87ba" stroke="#174f72" stroke-width="1.2" transform="translate(372.0,1984.8) rotate(-9.2)"/>
<rect x="-6" y="-33.9" width="12" height="67.8" rx="6" ry="6" fill="#2a87ba" stroke="#174f72" stroke-width="1.2" transform="translate(392.2,1982.3) rotate(-7.5)"/>
<rect x="-6" y="-34.0" width="12" height="67.9" rx="6" ry="6" fill="#2a87ba" stroke="#174f72" stroke-width="1.2" transform="translate(411.6,1979.1) rotate(-7.5)"/>
<rect x="-6" y="-33.1" width="12" height="66.3" rx="6" ry="6" fill="#2a87ba" stroke="#174f72" stroke-width="1.2" transform="translate(431.3,1976.7) rotate(-7.1)"/>
<rect x="-6" y="-34.0" width="12" height="68.0" rx="6" ry="6" fill="#2a87ba" stroke="#174f72" stroke-width="1.2" transform="translate(451.5,1972.7) rotate(-8.4)"/>
<ellipse cx="377.7" cy="1904" rx="23.6" ry="25" fill="url(#ballg)" stroke="#3a2a20" stroke-width="1"/>
<path d="M520.5,1870.5 L525.8,1870.5 L529,1882.3 L536,1882.3 L539.2,1870.5 L543.6,1870.5 L541.5,1892 L533.8,1994.4 L526.2,1994.4 Z" fill="#7c7c7c" stroke="#333" stroke-width="0.9"/>
<path d="M560.5,1880 L582.5,1885 L570.4,1998.7 L563.5,1998.7 Z" fill="#7c7c7c" stroke="#333" stroke-width="0.9"/>
<rect x="542" y="1889" width="14" height="164" rx="7" ry="7" fill="#bdbdbd" stroke="#555" stroke-width="0.9"/>
<rect x="-7.1" y="-81" width="14.2" height="162" rx="7" ry="7" fill="#c0c0c0" stroke="#4a4a4a" stroke-width="1" transform="translate(541.0,1970.5) rotate(1.14)"/>
<rect x="-7.1" y="-81" width="14.2" height="162" rx="7" ry="7" fill="#c0c0c0" stroke="#4a4a4a" stroke-width="1" transform="translate(555.0,1970.5) rotate(1.14)"/>
<polygon points="573.2,1858.7 585.0,1867.0 583.8,1881.4 570.6,1887.5 558.8,1879.2 560.0,1864.8" fill="#14ad4e" stroke="#0a0a0a" stroke-width="2"/>
<circle cx="527.4" cy="2031.8" r="10.6" fill="#f20d0d" stroke="#1a0000" stroke-width="1.3"/><text x="527.4" y="2036.8" font-size="14.3" font-weight="bold" text-anchor="middle" fill="#000" stroke="#000" stroke-width="0.4">P</text>
<line x1="417" y1="2050" x2="498.4" y2="2108.4" stroke="#2b87bd" stroke-width="4.2"/><path d="M509,2116 L491.9,2114.2 L499.2,2109.0 L501.8,2100.3 Z" fill="#2b87bd"/>
<line x1="541" y1="2060" x2="533.2" y2="2104.2" stroke="#bdbdbd" stroke-width="4.2"/><path d="M531,2117 L525.2,2100.8 L533.1,2105.2 L542.0,2103.7 Z" fill="#bdbdbd"/>
<line x1="550" y1="2205" x2="592.8" y2="2257.9" stroke="#1bafe6" stroke-width="4.2"/><path d="M601,2268 L585.0,2261.7 L593.4,2258.7 L598.2,2251.0 Z" fill="#1bafe6"/>
<text x="270" y="1878.9" font-size="22" font-weight="bold" fill="#f07b2c" stroke="#f07b2c" stroke-width="1.2" text-anchor="start" textLength="89.5" lengthAdjust="spacingAndGlyphs">CTHRC1</text>
<text x="409.5" y="1907.9" font-size="21" font-weight="bold" fill="#2d86bd" stroke="#2d86bd" stroke-width="1.2" text-anchor="start" textLength="86.5" lengthAdjust="spacingAndGlyphs">GPR180</text>
<text x="591" y="1856.5" font-size="21" font-weight="bold" fill="#1aa64c" stroke="#1aa64c" stroke-width="1.2" text-anchor="start" textLength="57" lengthAdjust="spacingAndGlyphs">TGF&#946;</text>
<text x="581" y="1963.5" font-size="22" font-weight="bold" fill="#5c5c5c" stroke="#5c5c5c" stroke-width="1.2" text-anchor="start" textLength="88.5" lengthAdjust="spacingAndGlyphs">TGF&#946;R2</text>
<text x="568" y="2045.8" font-size="21" font-weight="bold" fill="#a9a9a9" stroke="#a9a9a9" stroke-width="1.2" text-anchor="start" textLength="86.5" lengthAdjust="spacingAndGlyphs">TGF&#946;R1</text>
<text x="0" y="0" font-size="15.5" font-weight="bold" transform="translate(319.5,1968.5) rotate(-90)" textLength="47.5" lengthAdjust="spacingAndGlyphs">COOH</text>
<text x="0" y="0" font-size="15.5" font-weight="bold" transform="translate(482.5,2046.5) rotate(-90)">NH<tspan font-size="10" dy="3">2</tspan></text>
<text x="348.5" y="2225.2" font-size="17" font-weight="bold" fill="#000" stroke="#000" stroke-width="0.7" text-anchor="start" textLength="49" lengthAdjust="spacingAndGlyphs">UCP1</text>
<line x1="339.7" y1="2228.4" x2="339.7" y2="2214" stroke="#3a3030" stroke-width="1.6"/><path d="M335.7,2216.5 L339.7,2208.5 L343.7,2216.5 Z" fill="#3a3030"/>
<g class="ch">
<text x="1" y="23.6" font-size="31.5" text-anchor="start" font-weight="bold" font-style="normal" fill="#000" >a</text>
<line x1="105.8" y1="23.700000000000003" x2="105.8" y2="342.5" stroke="#1a1a1a" stroke-width="1.8" />
<line x1="100.8" y1="24.6" x2="105.8" y2="24.6" stroke="#1a1a1a" stroke-width="1.8" />
<text x="99.6" y="30.8" font-size="17.8" text-anchor="end">3×10<tspan font-size="11.7" dy="-6.4">-5</tspan></text>
<line x1="100.8" y1="130.6" x2="105.8" y2="130.6" stroke="#1a1a1a" stroke-width="1.8" />
<text x="99.6" y="136.79999999999998" font-size="17.8" text-anchor="end">2×10<tspan font-size="11.7" dy="-6.4">-5</tspan></text>
<line x1="100.8" y1="236.6" x2="105.8" y2="236.6" stroke="#1a1a1a" stroke-width="1.8" />
<text x="99.6" y="242.79999999999998" font-size="17.8" text-anchor="end">1×10<tspan font-size="11.7" dy="-6.4">-5</tspan></text>
<line x1="100.8" y1="342.5" x2="105.8" y2="342.5" stroke="#1a1a1a" stroke-width="1.8" />
<text x="98.3" y="348.7" font-size="17.8" text-anchor="end" font-weight="normal" font-style="normal" fill="#000" >0</text>
<line x1="104.89999999999999" y1="342.5" x2="424" y2="342.5" stroke="#1a1a1a" stroke-width="1.8" />
<line x1="155" y1="342.5" x2="155" y2="347.5" stroke="#1a1a1a" stroke-width="1.8" />
<line x1="228" y1="342.5" x2="228" y2="347.5" stroke="#1a1a1a" stroke-width="1.8" />
<line x1="301" y1="342.5" x2="301" y2="347.5" stroke="#1a1a1a" stroke-width="1.8" />
<line x1="374" y1="342.5" x2="374" y2="347.5" stroke="#1a1a1a" stroke-width="1.8" />
<text x="0" y="0" font-size="17.85" text-anchor="middle" transform="translate(36.6,177.4) rotate(-90)"><tspan font-style="italic">GPR180</tspan> mRNA levels - qPCR (arb.u.)</text>
<circle cx="155" cy="37" r="1.6" fill="none" stroke="#5cd6ec" stroke-width="1.15"/>
<circle cx="155" cy="110" r="1.6" fill="none" stroke="#5cd6ec" stroke-width="1.15"/>
<circle cx="155" cy="115.5" r="1.6" fill="none" stroke="#5cd6ec" stroke-width="1.15"/>
<circle cx="155" cy="169.5" r="1.6" fill="none" stroke="#5cd6ec" stroke-width="1.15"/>
<circle cx="155" cy="225.8" r="1.6" fill="none" stroke="#5cd6ec" stroke-width="1.15"/>
<circle cx="155" cy="238.6" r="1.6" fill="none" stroke="#5cd6ec" stroke-width="1.15"/>
<circle cx="151.2" cy="293.5" r="1.6" fill="none" stroke="#5cd6ec" stroke-width="1.15"/>
<circle cx="155" cy="290.5" r="1.6" fill="none" stroke="#5cd6ec" stroke-width="1.15"/>
<circle cx="158.5" cy="293.5" r="1.6" fill="none" stroke="#5cd6ec" stroke-width="1.15"/>
<circle cx="155" cy="308.5" r="1.6" fill="none" stroke="#5cd6ec" stroke-width="1.15"/>
<circle cx="155" cy="325.3" r="1.6" fill="none" stroke="#5cd6ec" stroke-width="1.15"/>
<line x1="130.4" y1="218.8" x2="178.7" y2="218.8" stroke="#5cd6ec" stroke-width="1.5" />
<line x1="155" y1="189.5" x2="155" y2="248.1" stroke="#5cd6ec" stroke-width="1.5" />
<line x1="142.5" y1="189.5" x2="166.6" y2="189.5" stroke="#5cd6ec" stroke-width="1.5" />
<line x1="142.5" y1="248.1" x2="166.6" y2="248.1" stroke="#5cd6ec" stroke-width="1.5" />
<circle cx="228" cy="213" r="1.6" fill="none" stroke="#6cc3d6" stroke-width="1.15"/>
<circle cx="228" cy="243" r="1.6" fill="none" stroke="#6cc3d6" stroke-width="1.15"/>
<circle cx="228" cy="247.7" r="1.6" fill="none" stroke="#6cc3d6" stroke-width="1.15"/>
<circle cx="228" cy="252.5" r="1.6" fill="none" stroke="#6cc3d6" stroke-width="1.15"/>
<circle cx="228" cy="265.3" r="1.6" fill="none" stroke="#6cc3d6" stroke-width="1.15"/>
<circle cx="221.5" cy="293.8" r="1.6" fill="none" stroke="#6cc3d6" stroke-width="1.15"/>
<circle cx="228" cy="297.5" r="1.6" fill="none" stroke="#6cc3d6" stroke-width="1.15"/>
<circle cx="235" cy="299.3" r="1.6" fill="none" stroke="#6cc3d6" stroke-width="1.15"/>
<circle cx="228" cy="309.2" r="1.6" fill="none" stroke="#6cc3d6" stroke-width="1.15"/>
<circle cx="235" cy="315.8" r="1.6" fill="none" stroke="#6cc3d6" stroke-width="1.15"/>
<circle cx="228" cy="317.6" r="1.6" fill="none" stroke="#6cc3d6" stroke-width="1.15"/>
<circle cx="228" cy="322.8" r="1.6" fill="none" stroke="#6cc3d6" stroke-width="1.15"/>
<circle cx="228" cy="330" r="1.6" fill="none" stroke="#6cc3d6" stroke-width="1.15"/>
<circle cx="235" cy="330.8" r="1.6" fill="none" stroke="#6cc3d6" stroke-width="1.15"/>
<circle cx="221.5" cy="333" r="1.6" fill="none" stroke="#6cc3d6" stroke-width="1.15"/>
<line x1="203.6" y1="292" x2="253" y2="292" stroke="#6cc3d6" stroke-width="1.5" />
<line x1="228" y1="282.9" x2="228" y2="301.2" stroke="#6cc3d6" stroke-width="1.5" />
<line x1="216" y1="282.9" x2="241" y2="282.9" stroke="#6cc3d6" stroke-width="1.5" />
<line x1="216" y1="301.2" x2="241" y2="301.2" stroke="#6cc3d6" stroke-width="1.5" />
<text x="228" y="212" font-size="24" text-anchor="middle" font-weight="bold" font-style="normal" fill="#000" >**</text>
<circle cx="301" cy="239.3" r="1.6" fill="none" stroke="#3d9db4" stroke-width="1.15"/>
<circle cx="301" cy="251" r="1.6" fill="none" stroke="#3d9db4" stroke-width="1.15"/>
<circle cx="301" cy="259.8" r="1.6" fill="none" stroke="#3d9db4" stroke-width="1.15"/>
<circle cx="301" cy="267.9" r="1.6" fill="none" stroke="#3d9db4" stroke-width="1.15"/>
<circle cx="301" cy="290.2" r="1.6" fill="none" stroke="#3d9db4" stroke-width="1.15"/>
<circle cx="301.3" cy="304.4" r="1.6" fill="none" stroke="#3d9db4" stroke-width="1.15"/>
<circle cx="298.1" cy="308.6" r="1.6" fill="none" stroke="#3d9db4" stroke-width="1.15"/>
<circle cx="304.5" cy="308.4" r="1.6" fill="none" stroke="#3d9db4" stroke-width="1.15"/>
<circle cx="307.8" cy="311.8" r="1.6" fill="none" stroke="#3d9db4" stroke-width="1.15"/>
<circle cx="294.8" cy="313.9" r="1.6" fill="none" stroke="#3d9db4" stroke-width="1.15"/>
<circle cx="301.3" cy="313.9" r="1.6" fill="none" stroke="#3d9db4" stroke-width="1.15"/>
<circle cx="294.8" cy="318.2" r="1.6" fill="none" stroke="#3d9db4" stroke-width="1.15"/>
<circle cx="307.8" cy="318.1" r="1.6" fill="none" stroke="#3d9db4" stroke-width="1.15"/>
<circle cx="301.3" cy="320" r="1.6" fill="none" stroke="#3d9db4" stroke-width="1.15"/>
<circle cx="301.3" cy="325.5" r="1.6" fill="none" stroke="#3d9db4" stroke-width="1.15"/>
<circle cx="301.3" cy="331.8" r="1.6" fill="none" stroke="#3d9db4" stroke-width="1.15"/>
<circle cx="307.8" cy="332.9" r="1.6" fill="none" stroke="#3d9db4" stroke-width="1.15"/>
<circle cx="294.8" cy="335" r="1.6" fill="none" stroke="#3d9db4" stroke-width="1.15"/>
<line x1="277" y1="302.6" x2="325.5" y2="302.6" stroke="#3d9db4" stroke-width="1.5" />
<line x1="301" y1="296" x2="301" y2="309.2" stroke="#3d9db4" stroke-width="1.5" />
<line x1="288.9" y1="296" x2="313.4" y2="296" stroke="#3d9db4" stroke-width="1.5" />
<line x1="288.9" y1="309.2" x2="313.4" y2="309.2" stroke="#3d9db4" stroke-width="1.5" />
<text x="301" y="237" font-size="24" text-anchor="middle" font-weight="bold" font-style="normal" fill="#000" >***</text>
<circle cx="374" cy="188.4" r="1.6" fill="none" stroke="#2b7384" stroke-width="1.15"/>
<circle cx="374" cy="263.8" r="1.6" fill="none" stroke="#2b7384" stroke-width="1.15"/>
<circle cx="374" cy="276.6" r="1.6" fill="none" stroke="#2b7384" stroke-width="1.15"/>
<circle cx="370.8" cy="311" r="1.6" fill="none" stroke="#2b7384" stroke-width="1.15"/>
<circle cx="377.3" cy="311" r="1.6" fill="none" stroke="#2b7384" stroke-width="1.15"/>
<circle cx="364.5" cy="318" r="1.6" fill="none" stroke="#2b7384" stroke-width="1.15"/>
<circle cx="370.8" cy="318" r="1.6" fill="none" stroke="#2b7384" stroke-width="1.15"/>
<circle cx="377.3" cy="318" r="1.6" fill="none" stroke="#2b7384" stroke-width="1.15"/>
<circle cx="383.8" cy="319" r="1.6" fill="none" stroke="#2b7384" stroke-width="1.15"/>
<circle cx="370.8" cy="325" r="1.6" fill="none" stroke="#2b7384" stroke-width="1.15"/>
<circle cx="377.3" cy="325" r="1.6" fill="none" stroke="#2b7384" stroke-width="1.15"/>
<circle cx="374" cy="331.2" r="1.6" fill="none" stroke="#2b7384" stroke-width="1.15"/>
<line x1="350" y1="300.4" x2="399" y2="300.4" stroke="#2b7384" stroke-width="1.5" />
<line x1="374" y1="288.7" x2="374" y2="312" stroke="#2b7384" stroke-width="1.5" />
<line x1="362" y1="288.7" x2="386.6" y2="288.7" stroke="#2b7384" stroke-width="1.5" />
<line x1="362" y1="312" x2="386.6" y2="312" stroke="#2b7384" stroke-width="1.5" />
<text x="374" y="188" font-size="24" text-anchor="middle" font-weight="bold" font-style="normal" fill="#000" >**</text>
<text font-size="17.8" text-anchor="end" transform="translate(160.5,365.9) rotate(-45)"><tspan x="0" y="0">normal weight</tspan></text>
<text font-size="17.8" text-anchor="end" transform="translate(233.5,365.9) rotate(-45)"><tspan x="0" y="-6.5">obesity-</tspan><tspan x="0" y="19.5">NGT</tspan></text>
<text font-size="17.8" text-anchor="end" transform="translate(306.5,365.9) rotate(-45)"><tspan x="0" y="-6.5">obesity-</tspan><tspan x="0" y="19.5">prediabetes</tspan></text>
<text font-size="17.8" text-anchor="end" transform="translate(379.5,365.9) rotate(-45)"><tspan x="0" y="-6.5">obesity-</tspan><tspan x="0" y="19.5">diabetes</tspan></text>
<text x="462" y="23.6" font-size="31.5" text-anchor="start" font-weight="bold" font-style="normal" fill="#000" >b</text>
<line x1="554.5" y1="22.6" x2="554.5" y2="340" stroke="#1a1a1a" stroke-width="1.8" />
<line x1="549.5" y1="23.5" x2="554.5" y2="23.5" stroke="#1a1a1a" stroke-width="1.8" />
<text x="548.3" y="29.7" font-size="17.8" text-anchor="end">6×10<tspan font-size="11.7" dy="-6.4">-5</tspan></text>
<line x1="549.5" y1="129" x2="554.5" y2="129" stroke="#1a1a1a" stroke-width="1.8" />
<text x="548.3" y="135.2" font-size="17.8" text-anchor="end">4×10<tspan font-size="11.7" dy="-6.4">-5</tspan></text>
<line x1="549.5" y1="234.5" x2="554.5" y2="234.5" stroke="#1a1a1a" stroke-width="1.8" />
<text x="548.3" y="240.7" font-size="17.8" text-anchor="end">2×10<tspan font-size="11.7" dy="-6.4">-5</tspan></text>
<line x1="549.5" y1="340" x2="554.5" y2="340" stroke="#1a1a1a" stroke-width="1.8" />
<text x="547.0" y="346.2" font-size="17.8" text-anchor="end" font-weight="normal" font-style="normal" fill="#000" >0</text>
<rect x="600" y="310.9" width="88.5" height="29.100000000000023" fill="#fff" stroke="#1a1a1a" stroke-width="1.8"/>
<rect x="735.6" y="264" width="88.3" height="76" fill="#fff" stroke="#1a1a1a" stroke-width="1.8"/>
<line x1="553.6" y1="340" x2="870" y2="340" stroke="#1a1a1a" stroke-width="1.8" />
<line x1="644" y1="340" x2="644" y2="345" stroke="#1a1a1a" stroke-width="1.8" />
<line x1="780" y1="340" x2="780" y2="345" stroke="#1a1a1a" stroke-width="1.8" />
<line x1="622" y1="303.6" x2="667" y2="303.6" stroke="#555" stroke-width="1.5" />
<line x1="644" y1="303.6" x2="644" y2="310.9" stroke="#555" stroke-width="1.5" />
<line x1="757" y1="246.6" x2="802" y2="246.6" stroke="#555" stroke-width="1.5" />
<line x1="779.7" y1="246.6" x2="779.7" y2="264" stroke="#555" stroke-width="1.5" />
<circle cx="644.1" cy="227.2" r="1.6" fill="none" stroke="#111" stroke-width="1.15"/>
<circle cx="644.1" cy="254.1" r="1.6" fill="none" stroke="#111" stroke-width="1.15"/>
<circle cx="644.1" cy="276.4" r="1.6" fill="none" stroke="#111" stroke-width="1.15"/>
<circle cx="640.9" cy="291" r="1.6" fill="none" stroke="#111" stroke-width="1.15"/>
<circle cx="647.3" cy="288.8" r="1.6" fill="none" stroke="#111" stroke-width="1.15"/>
<circle cx="640.9" cy="303.1" r="1.6" fill="none" stroke="#111" stroke-width="1.15"/>
<circle cx="647.3" cy="301.2" r="1.6" fill="none" stroke="#111" stroke-width="1.15"/>
<circle cx="644.1" cy="307.4" r="1.6" fill="none" stroke="#111" stroke-width="1.15"/>
<circle cx="640.9" cy="320" r="1.6" fill="none" stroke="#111" stroke-width="1.15"/>
<circle cx="647.3" cy="321.1" r="1.6" fill="none" stroke="#111" stroke-width="1.15"/>
<circle cx="640.9" cy="323.8" r="1.6" fill="none" stroke="#111" stroke-width="1.15"/>
<circle cx="621.8" cy="330.8" r="1.6" fill="none" stroke="#111" stroke-width="1.15"/>
<circle cx="628.2" cy="328.1" r="1.6" fill="none" stroke="#111" stroke-width="1.15"/>
<circle cx="634.7" cy="329.2" r="1.6" fill="none" stroke="#111" stroke-width="1.15"/>
<circle cx="640.9" cy="328.4" r="1.6" fill="none" stroke="#111" stroke-width="1.15"/>
<circle cx="647.3" cy="328.6" r="1.6" fill="none" stroke="#111" stroke-width="1.15"/>
<circle cx="653.8" cy="331" r="1.6" fill="none" stroke="#111" stroke-width="1.15"/>
<circle cx="660.2" cy="328.1" r="1.6" fill="none" stroke="#111" stroke-width="1.15"/>
<circle cx="666.7" cy="328.4" r="1.6" fill="none" stroke="#111" stroke-width="1.15"/>
<circle cx="634.7" cy="334.3" r="1.6" fill="none" stroke="#111" stroke-width="1.15"/>
<circle cx="647.3" cy="333.7" r="1.6" fill="none" stroke="#111" stroke-width="1.15"/>
<circle cx="779.7" cy="65.5" r="1.6" fill="none" stroke="#111" stroke-width="1.15"/>
<circle cx="779.7" cy="81" r="1.6" fill="none" stroke="#111" stroke-width="1.15"/>
<circle cx="779.7" cy="181" r="1.6" fill="none" stroke="#111" stroke-width="1.15"/>
<circle cx="779.7" cy="203.8" r="1.6" fill="none" stroke="#111" stroke-width="1.15"/>
<circle cx="779.7" cy="233.6" r="1.6" fill="none" stroke="#111" stroke-width="1.15"/>
<circle cx="779.7" cy="242" r="1.6" fill="none" stroke="#111" stroke-width="1.15"/>
<circle cx="779.7" cy="247.9" r="1.6" fill="none" stroke="#111" stroke-width="1.15"/>
<circle cx="779.7" cy="254.1" r="1.6" fill="none" stroke="#111" stroke-width="1.15"/>
<circle cx="779.7" cy="260" r="1.6" fill="none" stroke="#111" stroke-width="1.15"/>
<circle cx="779.7" cy="283.7" r="1.6" fill="none" stroke="#111" stroke-width="1.15"/>
<circle cx="779.7" cy="294.7" r="1.6" fill="none" stroke="#111" stroke-width="1.15"/>
<circle cx="779.7" cy="298.5" r="1.6" fill="none" stroke="#111" stroke-width="1.15"/>
<circle cx="779.7" cy="310.9" r="1.6" fill="none" stroke="#111" stroke-width="1.15"/>
<circle cx="779.7" cy="314.6" r="1.6" fill="none" stroke="#111" stroke-width="1.15"/>
<circle cx="776.2" cy="317.9" r="1.6" fill="none" stroke="#111" stroke-width="1.15"/>
<circle cx="782.7" cy="317.9" r="1.6" fill="none" stroke="#111" stroke-width="1.15"/>
<circle cx="779.7" cy="321.1" r="1.6" fill="none" stroke="#111" stroke-width="1.15"/>
<circle cx="773.3" cy="322.2" r="1.6" fill="none" stroke="#111" stroke-width="1.15"/>
<circle cx="786.2" cy="323.8" r="1.6" fill="none" stroke="#111" stroke-width="1.15"/>
<circle cx="779.7" cy="326.7" r="1.6" fill="none" stroke="#111" stroke-width="1.15"/>
<circle cx="779.7" cy="331.9" r="1.6" fill="none" stroke="#111" stroke-width="1.15"/>
<text x="781.5" y="55" font-size="24" text-anchor="middle" font-weight="bold" font-style="normal" fill="#000" >**</text>
<text x="643.5" y="372.5" font-size="17.6" text-anchor="middle" font-weight="normal" font-style="normal" fill="#000" >SAT</text>
<text x="780" y="372.5" font-size="17.6" text-anchor="middle" font-weight="normal" font-style="normal" fill="#000" >adipocytes</text>
<text x="0" y="0" font-size="17.71" text-anchor="middle" transform="translate(491.5,175.9) rotate(-90)"><tspan font-style="italic">GPR180</tspan> mRNA levels - qPCR (arb.u.)</text>
<text x="0" y="490.3" font-size="31.5" text-anchor="start" font-weight="bold" font-style="normal" fill="#000" >c</text>
<line x1="104.9" y1="482.6" x2="104.9" y2="798.5" stroke="#1a1a1a" stroke-width="1.8" />
<line x1="99.9" y1="483.5" x2="104.9" y2="483.5" stroke="#1a1a1a" stroke-width="1.8" />
<text x="98.7" y="489.5" font-size="17.8" text-anchor="end" font-weight="normal" font-style="normal" fill="#000" >150</text>
<line x1="99.9" y1="588.5" x2="104.9" y2="588.5" stroke="#1a1a1a" stroke-width="1.8" />
<text x="98.7" y="594.5" font-size="17.8" text-anchor="end" font-weight="normal" font-style="normal" fill="#000" >120</text>
<line x1="99.9" y1="693.5" x2="104.9" y2="693.5" stroke="#1a1a1a" stroke-width="1.8" />
<text x="98.7" y="699.5" font-size="17.8" text-anchor="end" font-weight="normal" font-style="normal" fill="#000" >90</text>
<line x1="99.9" y1="798.5" x2="104.9" y2="798.5" stroke="#1a1a1a" stroke-width="1.8" />
<text x="98.7" y="804.5" font-size="17.8" text-anchor="end" font-weight="normal" font-style="normal" fill="#000" >60</text>
<line x1="104.0" y1="798.5" x2="419" y2="798.5" stroke="#1a1a1a" stroke-width="1.8" />
<line x1="105" y1="798.5" x2="105" y2="803.5" stroke="#1a1a1a" stroke-width="1.8" />
<text x="105" y="821.9" font-size="17.8" text-anchor="middle" font-weight="normal" font-style="normal" fill="#000" >-6.5</text>
<line x1="184" y1="798.5" x2="184" y2="803.5" stroke="#1a1a1a" stroke-width="1.8" />
<text x="184" y="821.9" font-size="17.8" text-anchor="middle" font-weight="normal" font-style="normal" fill="#000" >-6.0</text>
<line x1="262.5" y1="798.5" x2="262.5" y2="803.5" stroke="#1a1a1a" stroke-width="1.8" />
<text x="262.5" y="821.9" font-size="17.8" text-anchor="middle" font-weight="normal" font-style="normal" fill="#000" >-5.5</text>
<line x1="341" y1="798.5" x2="341" y2="803.5" stroke="#1a1a1a" stroke-width="1.8" />
<text x="341" y="821.9" font-size="17.8" text-anchor="middle" font-weight="normal" font-style="normal" fill="#000" >-5.0</text>
<line x1="419" y1="798.5" x2="419" y2="803.5" stroke="#1a1a1a" stroke-width="1.8" />
<text x="419" y="821.9" font-size="17.8" text-anchor="middle" font-weight="normal" font-style="normal" fill="#000" >-4.5</text>
<circle cx="161.5" cy="514.5" r="1.5" fill="none" stroke="#111" stroke-width="1.15"/>
<circle cx="190" cy="500" r="1.5" fill="none" stroke="#111" stroke-width="1.15"/>
<circle cx="178.5" cy="558" r="1.5" fill="none" stroke="#111" stroke-width="1.15"/>
<circle cx="183" cy="612" r="1.5" fill="none" stroke="#111" stroke-width="1.15"/>
<circle cx="173.5" cy="650.5" r="1.5" fill="none" stroke="#111" stroke-width="1.15"/>
<circle cx="184.5" cy="726.5" r="1.5" fill="none" stroke="#111" stroke-width="1.15"/>
<circle cx="198" cy="617.5" r="1.5" fill="none" stroke="#111" stroke-width="1.15"/>
<circle cx="213.5" cy="610.5" r="1.5" fill="none" stroke="#111" stroke-width="1.15"/>
<circle cx="220.5" cy="629" r="1.5" fill="none" stroke="#111" stroke-width="1.15"/>
<circle cx="222.5" cy="653" r="1.5" fill="none" stroke="#111" stroke-width="1.15"/>
<circle cx="232.5" cy="526.5" r="1.5" fill="none" stroke="#111" stroke-width="1.15"/>
<circle cx="236" cy="515.5" r="1.5" fill="none" stroke="#111" stroke-width="1.15"/>
<circle cx="239.5" cy="514" r="1.5" fill="none" stroke="#111" stroke-width="1.15"/>
<circle cx="240" cy="533.5" r="1.5" fill="none" stroke="#111" stroke-width="1.15"/>
<circle cx="236.5" cy="539.5" r="1.5" fill="none" stroke="#111" stroke-width="1.15"/>
<circle cx="232" cy="582" r="1.5" fill="none" stroke="#111" stroke-width="1.15"/>
<circle cx="239.5" cy="585.5" r="1.5" fill="none" stroke="#111" stroke-width="1.15"/>
<circle cx="241.5" cy="601" r="1.5" fill="none" stroke="#111" stroke-width="1.15"/>
<circle cx="245.5" cy="605.5" r="1.5" fill="none" stroke="#111" stroke-width="1.15"/>
<circle cx="251.5" cy="532" r="1.5" fill="none" stroke="#111" stroke-width="1.15"/>
<circle cx="251.5" cy="599.5" r="1.5" fill="none" stroke="#111" stroke-width="1.15"/>
<circle cx="259.5" cy="582" r="1.5" fill="none" stroke="#111" stroke-width="1.15"/>
<circle cx="261.5" cy="609.5" r="1.5" fill="none" stroke="#111" stroke-width="1.15"/>
<circle cx="257.5" cy="638.5" r="1.5" fill="none" stroke="#111" stroke-width="1.15"/>
<circle cx="255.5" cy="648.5" r="1.5" fill="none" stroke="#111" stroke-width="1.15"/>
<circle cx="255.5" cy="650.5" r="1.5" fill="none" stroke="#111" stroke-width="1.15"/>
<circle cx="270.5" cy="595" r="1.5" fill="none" stroke="#111" stroke-width="1.15"/>
<circle cx="274" cy="602.5" r="1.5" fill="none" stroke="#111" stroke-width="1.15"/>
<circle cx="281" cy="552.5" r="1.5" fill="none" stroke="#111" stroke-width="1.15"/>
<circle cx="286.5" cy="589.5" r="1.5" fill="none" stroke="#111" stroke-width="1.15"/>
<circle cx="278" cy="665" r="1.5" fill="none" stroke="#111" stroke-width="1.15"/>
<circle cx="286" cy="662" r="1.5" fill="none" stroke="#111" stroke-width="1.15"/>
<circle cx="292.5" cy="562" r="1.5" fill="none" stroke="#111" stroke-width="1.15"/>
<circle cx="292.5" cy="677" r="1.5" fill="none" stroke="#111" stroke-width="1.15"/>
<circle cx="262" cy="690.5" r="1.5" fill="none" stroke="#111" stroke-width="1.15"/>
<circle cx="287.5" cy="711" r="1.5" fill="none" stroke="#111" stroke-width="1.15"/>
<circle cx="262.5" cy="775" r="1.5" fill="none" stroke="#111" stroke-width="1.15"/>
<circle cx="308" cy="591.5" r="1.5" fill="none" stroke="#111" stroke-width="1.15"/>
<circle cx="320.5" cy="529" r="1.5" fill="none" stroke="#111" stroke-width="1.15"/>
<circle cx="318.5" cy="534.5" r="1.5" fill="none" stroke="#111" stroke-width="1.15"/>
<circle cx="323.5" cy="573" r="1.5" fill="none" stroke="#111" stroke-width="1.15"/>
<circle cx="316" cy="627.5" r="1.5" fill="none" stroke="#111" stroke-width="1.15"/>
<circle cx="330" cy="608" r="1.5" fill="none" stroke="#111" stroke-width="1.15"/>
<circle cx="336" cy="641.5" r="1.5" fill="none" stroke="#111" stroke-width="1.15"/>
<circle cx="332" cy="651" r="1.5" fill="none" stroke="#111" stroke-width="1.15"/>
<circle cx="339.5" cy="689" r="1.5" fill="none" stroke="#111" stroke-width="1.15"/>
<circle cx="338.5" cy="711" r="1.5" fill="none" stroke="#111" stroke-width="1.15"/>
<circle cx="347" cy="713" r="1.5" fill="none" stroke="#111" stroke-width="1.15"/>
<circle cx="354" cy="554" r="1.5" fill="none" stroke="#111" stroke-width="1.15"/>
<circle cx="380" cy="608.5" r="1.5" fill="none" stroke="#111" stroke-width="1.15"/>
<circle cx="374" cy="724.5" r="1.5" fill="none" stroke="#111" stroke-width="1.15"/>
<circle cx="392.5" cy="589.5" r="1.5" fill="none" stroke="#111" stroke-width="1.15"/>
<circle cx="394.5" cy="695.5" r="1.5" fill="none" stroke="#111" stroke-width="1.15"/>
<circle cx="413" cy="631.5" r="1.5" fill="none" stroke="#111" stroke-width="1.15"/>
<line x1="161.5" y1="580" x2="413" y2="652.5" stroke="#111" stroke-width="1.3" />
<text x="345" y="506" font-size="17.8" text-anchor="start" font-weight="normal" font-style="normal" fill="#000" >r = -0.2726</text>
<text x="345" y="526.5" font-size="17.8" text-anchor="start" font-weight="normal" font-style="normal" fill="#000" >p = 0.046</text>
<text x="0" y="0" font-size="17.61" text-anchor="middle" transform="translate(61.4,636.3) rotate(-90)">Adipocyte size (µm)</text>
<text x="262.5" y="850.5" font-size="17.98" text-anchor="middle">log <tspan font-style="italic">GPR180</tspan> mRNA (arb.u.)</text>
<text x="459.3" y="490.3" font-size="31.5" text-anchor="start" font-weight="bold" font-style="normal" fill="#000" >d</text>
<line x1="554.1" y1="482.6" x2="554.1" y2="799" stroke="#1a1a1a" stroke-width="1.8" />
<line x1="549.1" y1="483.5" x2="554.1" y2="483.5" stroke="#1a1a1a" stroke-width="1.8" />
<text x="547.9" y="489.5" font-size="17.8" text-anchor="end" font-weight="normal" font-style="normal" fill="#000" >0.5</text>
<line x1="549.1" y1="546.5" x2="554.1" y2="546.5" stroke="#1a1a1a" stroke-width="1.8" />
<text x="547.9" y="552.5" font-size="17.8" text-anchor="end" font-weight="normal" font-style="normal" fill="#000" >0.4</text>
<line x1="549.1" y1="609.5" x2="554.1" y2="609.5" stroke="#1a1a1a" stroke-width="1.8" />
<text x="547.9" y="615.5" font-size="17.8" text-anchor="end" font-weight="normal" font-style="normal" fill="#000" >0.3</text>
<line x1="549.1" y1="672.5" x2="554.1" y2="672.5" stroke="#1a1a1a" stroke-width="1.8" />
<text x="547.9" y="678.5" font-size="17.8" text-anchor="end" font-weight="normal" font-style="normal" fill="#000" >0.2</text>
<line x1="549.1" y1="735.5" x2="554.1" y2="735.5" stroke="#1a1a1a" stroke-width="1.8" />
<text x="547.9" y="741.5" font-size="17.8" text-anchor="end" font-weight="normal" font-style="normal" fill="#000" >0.1</text>
<line x1="549.1" y1="799" x2="554.1" y2="799" stroke="#1a1a1a" stroke-width="1.8" />
<text x="547.9" y="805.0" font-size="17.8" text-anchor="end" font-weight="normal" font-style="normal" fill="#000" >0.0</text>
<line x1="553.2" y1="799" x2="868" y2="799" stroke="#1a1a1a" stroke-width="1.8" />
<line x1="554" y1="799" x2="554" y2="804" stroke="#1a1a1a" stroke-width="1.8" />
<text x="554" y="822.4" font-size="17.8" text-anchor="middle" font-weight="normal" font-style="normal" fill="#000" >-6.5</text>
<line x1="633" y1="799" x2="633" y2="804" stroke="#1a1a1a" stroke-width="1.8" />
<text x="633" y="822.4" font-size="17.8" text-anchor="middle" font-weight="normal" font-style="normal" fill="#000" >-6.0</text>
<line x1="711.5" y1="799" x2="711.5" y2="804" stroke="#1a1a1a" stroke-width="1.8" />
<text x="711.5" y="822.4" font-size="17.8" text-anchor="middle" font-weight="normal" font-style="normal" fill="#000" >-5.5</text>
<line x1="790" y1="799" x2="790" y2="804" stroke="#1a1a1a" stroke-width="1.8" />
<text x="790" y="822.4" font-size="17.8" text-anchor="middle" font-weight="normal" font-style="normal" fill="#000" >-5.0</text>
<line x1="868" y1="799" x2="868" y2="804" stroke="#1a1a1a" stroke-width="1.8" />
<text x="868" y="822.4" font-size="17.8" text-anchor="middle" font-weight="normal" font-style="normal" fill="#000" >-4.5</text>
<circle cx="611.5" cy="503" r="1.5" fill="none" stroke="#111" stroke-width="1.15"/>
<circle cx="634" cy="597" r="1.5" fill="none" stroke="#111" stroke-width="1.15"/>
<circle cx="623.5" cy="685.5" r="1.5" fill="none" stroke="#111" stroke-width="1.15"/>
<circle cx="632.5" cy="717" r="1.5" fill="none" stroke="#111" stroke-width="1.15"/>
<circle cx="640" cy="717" r="1.5" fill="none" stroke="#111" stroke-width="1.15"/>
<circle cx="647.5" cy="704.5" r="1.5" fill="none" stroke="#111" stroke-width="1.15"/>
<circle cx="663.5" cy="717" r="1.5" fill="none" stroke="#111" stroke-width="1.15"/>
<circle cx="663.5" cy="735.5" r="1.5" fill="none" stroke="#111" stroke-width="1.15"/>
<circle cx="670" cy="748.5" r="1.5" fill="none" stroke="#111" stroke-width="1.15"/>
<circle cx="672" cy="698" r="1.5" fill="none" stroke="#111" stroke-width="1.15"/>
<circle cx="682.5" cy="710.5" r="1.5" fill="none" stroke="#111" stroke-width="1.15"/>
<circle cx="681.5" cy="729.5" r="1.5" fill="none" stroke="#111" stroke-width="1.15"/>
<circle cx="685.5" cy="584.5" r="1.5" fill="none" stroke="#111" stroke-width="1.15"/>
<circle cx="689" cy="603.5" r="1.5" fill="none" stroke="#111" stroke-width="1.15"/>
<circle cx="689" cy="609.5" r="1.5" fill="none" stroke="#111" stroke-width="1.15"/>
<circle cx="685.5" cy="635" r="1.5" fill="none" stroke="#111" stroke-width="1.15"/>
<circle cx="689" cy="704.5" r="1.5" fill="none" stroke="#111" stroke-width="1.15"/>
<circle cx="691.5" cy="717" r="1.5" fill="none" stroke="#111" stroke-width="1.15"/>
<circle cx="695" cy="717" r="1.5" fill="none" stroke="#111" stroke-width="1.15"/>
<circle cx="701.5" cy="704.5" r="1.5" fill="none" stroke="#111" stroke-width="1.15"/>
<circle cx="701.5" cy="735.5" r="1.5" fill="none" stroke="#111" stroke-width="1.15"/>
<circle cx="705" cy="723" r="1.5" fill="none" stroke="#111" stroke-width="1.15"/>
<circle cx="707" cy="742" r="1.5" fill="none" stroke="#111" stroke-width="1.15"/>
<circle cx="709" cy="729.5" r="1.5" fill="none" stroke="#111" stroke-width="1.15"/>
<circle cx="711" cy="717" r="1.5" fill="none" stroke="#111" stroke-width="1.15"/>
<circle cx="712" cy="723" r="1.5" fill="none" stroke="#111" stroke-width="1.15"/>
<circle cx="705" cy="780" r="1.5" fill="none" stroke="#111" stroke-width="1.15"/>
<circle cx="720.5" cy="641.5" r="1.5" fill="none" stroke="#111" stroke-width="1.15"/>
<circle cx="723.5" cy="692" r="1.5" fill="none" stroke="#111" stroke-width="1.15"/>
<circle cx="727.5" cy="717" r="1.5" fill="none" stroke="#111" stroke-width="1.15"/>
<circle cx="731" cy="622.5" r="1.5" fill="none" stroke="#111" stroke-width="1.15"/>
<circle cx="735.5" cy="710.5" r="1.5" fill="none" stroke="#111" stroke-width="1.15"/>
<circle cx="736.5" cy="597" r="1.5" fill="none" stroke="#111" stroke-width="1.15"/>
<circle cx="742" cy="729.5" r="1.5" fill="none" stroke="#111" stroke-width="1.15"/>
<circle cx="757.5" cy="641.5" r="1.5" fill="none" stroke="#111" stroke-width="1.15"/>
<circle cx="765.5" cy="723" r="1.5" fill="none" stroke="#111" stroke-width="1.15"/>
<circle cx="768" cy="679" r="1.5" fill="none" stroke="#111" stroke-width="1.15"/>
<circle cx="769.5" cy="735.5" r="1.5" fill="none" stroke="#111" stroke-width="1.15"/>
<circle cx="773.5" cy="710.5" r="1.5" fill="none" stroke="#111" stroke-width="1.15"/>
<circle cx="778.5" cy="729.5" r="1.5" fill="none" stroke="#111" stroke-width="1.15"/>
<circle cx="780" cy="698" r="1.5" fill="none" stroke="#111" stroke-width="1.15"/>
<circle cx="781.5" cy="710.5" r="1.5" fill="none" stroke="#111" stroke-width="1.15"/>
<circle cx="785.5" cy="735.5" r="1.5" fill="none" stroke="#111" stroke-width="1.15"/>
<circle cx="788" cy="723" r="1.5" fill="none" stroke="#111" stroke-width="1.15"/>
<circle cx="789.5" cy="735.5" r="1.5" fill="none" stroke="#111" stroke-width="1.15"/>
<circle cx="796.5" cy="735.5" r="1.5" fill="none" stroke="#111" stroke-width="1.15"/>
<circle cx="803.5" cy="735.5" r="1.5" fill="none" stroke="#111" stroke-width="1.15"/>
<circle cx="816" cy="773.5" r="1.5" fill="none" stroke="#111" stroke-width="1.15"/>
<circle cx="823" cy="786.5" r="1.5" fill="none" stroke="#111" stroke-width="1.15"/>
<circle cx="842" cy="742" r="1.5" fill="none" stroke="#111" stroke-width="1.15"/>
<circle cx="844" cy="723" r="1.5" fill="none" stroke="#111" stroke-width="1.15"/>
<circle cx="862.5" cy="710.5" r="1.5" fill="none" stroke="#111" stroke-width="1.15"/>
<line x1="611.5" y1="661" x2="862.5" y2="750.5" stroke="#111" stroke-width="1.3" />
<text x="794" y="506" font-size="17.8" text-anchor="start" font-weight="normal" font-style="normal" fill="#000" >r = - 0.398</text>
<text x="794" y="526.5" font-size="17.8" text-anchor="start" font-weight="normal" font-style="normal" fill="#000" >p = 0.003</text>
<text x="0" y="0" font-size="17.75" text-anchor="middle" transform="translate(516.6,638.4) rotate(-90)">FFA supressed during EHC (mmol/l)</text>
<text x="711.5" y="850.5" font-size="17.98" text-anchor="middle">log <tspan font-style="italic">GPR180</tspan> mRNA (arb.u.)</text>
<text x="1" y="937.3" font-size="31.5" text-anchor="start" font-weight="bold" font-style="normal" fill="#000" >e</text>
<line x1="105.6" y1="963.6" x2="105.6" y2="1279.5" stroke="#1a1a1a" stroke-width="1.8" />
<line x1="100.6" y1="964.5" x2="105.6" y2="964.5" stroke="#1a1a1a" stroke-width="1.8" />
<text x="99.39999999999999" y="970.5" font-size="17.8" text-anchor="end" font-weight="normal" font-style="normal" fill="#000" >35</text>
<line x1="100.6" y1="1027.5" x2="105.6" y2="1027.5" stroke="#1a1a1a" stroke-width="1.8" />
<text x="99.39999999999999" y="1033.5" font-size="17.8" text-anchor="end" font-weight="normal" font-style="normal" fill="#000" >30</text>
<line x1="100.6" y1="1090.5" x2="105.6" y2="1090.5" stroke="#1a1a1a" stroke-width="1.8" />
<text x="99.39999999999999" y="1096.5" font-size="17.8" text-anchor="end" font-weight="normal" font-style="normal" fill="#000" >25</text>
<line x1="100.6" y1="1153.5" x2="105.6" y2="1153.5" stroke="#1a1a1a" stroke-width="1.8" />
<text x="99.39999999999999" y="1159.5" font-size="17.8" text-anchor="end" font-weight="normal" font-style="normal" fill="#000" >20</text>
<line x1="100.6" y1="1216.5" x2="105.6" y2="1216.5" stroke="#1a1a1a" stroke-width="1.8" />
<text x="99.39999999999999" y="1222.5" font-size="17.8" text-anchor="end" font-weight="normal" font-style="normal" fill="#000" >15</text>
<line x1="100.6" y1="1279.5" x2="105.6" y2="1279.5" stroke="#1a1a1a" stroke-width="1.8" />
<text x="99.39999999999999" y="1285.5" font-size="17.8" text-anchor="end" font-weight="normal" font-style="normal" fill="#000" >10</text>
<line x1="104.69999999999999" y1="1279.5" x2="420" y2="1279.5" stroke="#1a1a1a" stroke-width="1.8" />
<line x1="105" y1="1279.5" x2="105" y2="1284.5" stroke="#1a1a1a" stroke-width="1.8" />
<text x="105" y="1302.9" font-size="17.8" text-anchor="middle" font-weight="normal" font-style="normal" fill="#000" >-6.5</text>
<line x1="184" y1="1279.5" x2="184" y2="1284.5" stroke="#1a1a1a" stroke-width="1.8" />
<text x="184" y="1302.9" font-size="17.8" text-anchor="middle" font-weight="normal" font-style="normal" fill="#000" >-6.0</text>
<line x1="263" y1="1279.5" x2="263" y2="1284.5" stroke="#1a1a1a" stroke-width="1.8" />
<text x="263" y="1302.9" font-size="17.8" text-anchor="middle" font-weight="normal" font-style="normal" fill="#000" >-5.5</text>
<line x1="341.5" y1="1279.5" x2="341.5" y2="1284.5" stroke="#1a1a1a" stroke-width="1.8" />
<text x="341.5" y="1302.9" font-size="17.8" text-anchor="middle" font-weight="normal" font-style="normal" fill="#000" >-5.0</text>
<line x1="420" y1="1279.5" x2="420" y2="1284.5" stroke="#1a1a1a" stroke-width="1.8" />
<text x="420" y="1302.9" font-size="17.8" text-anchor="middle" font-weight="normal" font-style="normal" fill="#000" >-4.5</text>
<circle cx="179.5" cy="1132.5" r="1.5" fill="none" stroke="#111" stroke-width="1.15"/>
<circle cx="191.5" cy="1146.5" r="1.5" fill="none" stroke="#111" stroke-width="1.15"/>
<circle cx="199" cy="1107.5" r="1.5" fill="none" stroke="#111" stroke-width="1.15"/>
<circle cx="214" cy="1105.5" r="1.5" fill="none" stroke="#111" stroke-width="1.15"/>
<circle cx="215.5" cy="1170" r="1.5" fill="none" stroke="#111" stroke-width="1.15"/>
<circle cx="221.5" cy="1194.5" r="1.5" fill="none" stroke="#111" stroke-width="1.15"/>
<circle cx="233" cy="1200.5" r="1.5" fill="none" stroke="#111" stroke-width="1.15"/>
<circle cx="234" cy="1148" r="1.5" fill="none" stroke="#111" stroke-width="1.15"/>
<circle cx="237.5" cy="1137.5" r="1.5" fill="none" stroke="#111" stroke-width="1.15"/>
<circle cx="241" cy="1098.5" r="1.5" fill="none" stroke="#111" stroke-width="1.15"/>
<circle cx="241" cy="1130" r="1.5" fill="none" stroke="#111" stroke-width="1.15"/>
<circle cx="242.5" cy="1147" r="1.5" fill="none" stroke="#111" stroke-width="1.15"/>
<circle cx="240.5" cy="1225" r="1.5" fill="none" stroke="#111" stroke-width="1.15"/>
<circle cx="253" cy="1122" r="1.5" fill="none" stroke="#111" stroke-width="1.15"/>
<circle cx="256.5" cy="1143.5" r="1.5" fill="none" stroke="#111" stroke-width="1.15"/>
<circle cx="256.5" cy="1171" r="1.5" fill="none" stroke="#111" stroke-width="1.15"/>
<circle cx="260.5" cy="1158.5" r="1.5" fill="none" stroke="#111" stroke-width="1.15"/>
<circle cx="272" cy="1119.5" r="1.5" fill="none" stroke="#111" stroke-width="1.15"/>
<circle cx="282.5" cy="1126" r="1.5" fill="none" stroke="#111" stroke-width="1.15"/>
<circle cx="293.5" cy="1100" r="1.5" fill="none" stroke="#111" stroke-width="1.15"/>
<circle cx="293.5" cy="1167.5" r="1.5" fill="none" stroke="#111" stroke-width="1.15"/>
<circle cx="308.5" cy="1157.5" r="1.5" fill="none" stroke="#111" stroke-width="1.15"/>
<circle cx="317" cy="1146" r="1.5" fill="none" stroke="#111" stroke-width="1.15"/>
<circle cx="321.5" cy="1111" r="1.5" fill="none" stroke="#111" stroke-width="1.15"/>
<circle cx="329" cy="1131" r="1.5" fill="none" stroke="#111" stroke-width="1.15"/>
<circle cx="337" cy="1095.5" r="1.5" fill="none" stroke="#111" stroke-width="1.15"/>
<circle cx="354.5" cy="1168.5" r="1.5" fill="none" stroke="#111" stroke-width="1.15"/>
<circle cx="367" cy="1114" r="1.5" fill="none" stroke="#111" stroke-width="1.15"/>
<circle cx="375" cy="1074.5" r="1.5" fill="none" stroke="#111" stroke-width="1.15"/>
<circle cx="393.5" cy="997" r="1.5" fill="none" stroke="#111" stroke-width="1.15"/>
<circle cx="414" cy="1156" r="1.5" fill="none" stroke="#111" stroke-width="1.15"/>
<line x1="179.5" y1="1161" x2="414" y2="1099" stroke="#111" stroke-width="1.3" />
<text x="116" y="985" font-size="17.8" text-anchor="start" font-weight="normal" font-style="normal" fill="#000" >r = 0.385</text>
<text x="116" y="1005.5" font-size="17.8" text-anchor="start" font-weight="normal" font-style="normal" fill="#000" >p = 0.032</text>
<text x="0" y="0" font-size="18.39" text-anchor="middle" transform="translate(72.6,1121) rotate(-90)">REE basal (kcal/24h/LBM)</text>
<text x="263" y="1331" font-size="17.98" text-anchor="middle">log <tspan font-style="italic">GPR180</tspan> mRNA (arb.u.)</text>
<text x="-0.5" y="1444.6" font-size="31.5" text-anchor="start" font-weight="bold" font-style="normal" fill="#000" >g</text>
<line x1="105.6" y1="1442.1" x2="105.6" y2="1758.5" stroke="#1a1a1a" stroke-width="1.8" />
<line x1="100.6" y1="1443" x2="105.6" y2="1443" stroke="#1a1a1a" stroke-width="1.8" />
<text x="99.39999999999999" y="1449.0" font-size="17.8" text-anchor="end" font-weight="normal" font-style="normal" fill="#000" >50</text>
<line x1="100.6" y1="1522" x2="105.6" y2="1522" stroke="#1a1a1a" stroke-width="1.8" />
<text x="99.39999999999999" y="1528.0" font-size="17.8" text-anchor="end" font-weight="normal" font-style="normal" fill="#000" >40</text>
<line x1="100.6" y1="1600.5" x2="105.6" y2="1600.5" stroke="#1a1a1a" stroke-width="1.8" />
<text x="99.39999999999999" y="1606.5" font-size="17.8" text-anchor="end" font-weight="normal" font-style="normal" fill="#000" >30</text>
<line x1="100.6" y1="1679.5" x2="105.6" y2="1679.5" stroke="#1a1a1a" stroke-width="1.8" />
<text x="99.39999999999999" y="1685.5" font-size="17.8" text-anchor="end" font-weight="normal" font-style="normal" fill="#000" >20</text>
<line x1="100.6" y1="1758.5" x2="105.6" y2="1758.5" stroke="#1a1a1a" stroke-width="1.8" />
<text x="99.39999999999999" y="1764.5" font-size="17.8" text-anchor="end" font-weight="normal" font-style="normal" fill="#000" >10</text>
<line x1="104.69999999999999" y1="1758.5" x2="421" y2="1758.5" stroke="#1a1a1a" stroke-width="1.8" />
<line x1="105" y1="1758.5" x2="105" y2="1763.5" stroke="#1a1a1a" stroke-width="1.8" />
<text x="105" y="1781.9" font-size="17.8" text-anchor="middle" font-weight="normal" font-style="normal" fill="#000" >0</text>
<line x1="168.5" y1="1758.5" x2="168.5" y2="1763.5" stroke="#1a1a1a" stroke-width="1.8" />
<text x="168.5" y="1781.9" font-size="17.8" text-anchor="middle" font-weight="normal" font-style="normal" fill="#000" >1</text>
<line x1="231.5" y1="1758.5" x2="231.5" y2="1763.5" stroke="#1a1a1a" stroke-width="1.8" />
<text x="231.5" y="1781.9" font-size="17.8" text-anchor="middle" font-weight="normal" font-style="normal" fill="#000" >2</text>
<line x1="295" y1="1758.5" x2="295" y2="1763.5" stroke="#1a1a1a" stroke-width="1.8" />
<text x="295" y="1781.9" font-size="17.8" text-anchor="middle" font-weight="normal" font-style="normal" fill="#000" >3</text>
<line x1="358" y1="1758.5" x2="358" y2="1763.5" stroke="#1a1a1a" stroke-width="1.8" />
<text x="358" y="1781.9" font-size="17.8" text-anchor="middle" font-weight="normal" font-style="normal" fill="#000" >4</text>
<line x1="421" y1="1758.5" x2="421" y2="1763.5" stroke="#1a1a1a" stroke-width="1.8" />
<text x="421" y="1781.9" font-size="17.8" text-anchor="middle" font-weight="normal" font-style="normal" fill="#000" >5</text>
<circle cx="107.5" cy="1708.5" r="1.5" fill="none" stroke="#111" stroke-width="1.15"/>
<circle cx="109.5" cy="1681" r="1.5" fill="none" stroke="#111" stroke-width="1.15"/>
<circle cx="114.5" cy="1662.5" r="1.5" fill="none" stroke="#111" stroke-width="1.15"/>
<circle cx="123" cy="1581.5" r="1.5" fill="none" stroke="#111" stroke-width="1.15"/>
<circle cx="127.5" cy="1690.5" r="1.5" fill="none" stroke="#111" stroke-width="1.15"/>
<circle cx="134" cy="1671.5" r="1.5" fill="none" stroke="#111" stroke-width="1.15"/>
<circle cx="134.5" cy="1635.5" r="1.5" fill="none" stroke="#111" stroke-width="1.15"/>
<circle cx="147" cy="1697" r="1.5" fill="none" stroke="#111" stroke-width="1.15"/>
<circle cx="173" cy="1633" r="1.5" fill="none" stroke="#111" stroke-width="1.15"/>
<circle cx="180" cy="1674.5" r="1.5" fill="none" stroke="#111" stroke-width="1.15"/>
<circle cx="182.5" cy="1688" r="1.5" fill="none" stroke="#111" stroke-width="1.15"/>
<circle cx="197.5" cy="1630.5" r="1.5" fill="none" stroke="#111" stroke-width="1.15"/>
<circle cx="201.5" cy="1655" r="1.5" fill="none" stroke="#111" stroke-width="1.15"/>
<circle cx="225.5" cy="1722" r="1.5" fill="none" stroke="#111" stroke-width="1.15"/>
<circle cx="278.5" cy="1635.5" r="1.5" fill="none" stroke="#111" stroke-width="1.15"/>
<circle cx="327" cy="1705.5" r="1.5" fill="none" stroke="#111" stroke-width="1.15"/>
<circle cx="332" cy="1646" r="1.5" fill="none" stroke="#111" stroke-width="1.15"/>
<circle cx="373" cy="1460.5" r="1.5" fill="none" stroke="#111" stroke-width="1.15"/>
<circle cx="394.5" cy="1643.5" r="1.5" fill="none" stroke="#111" stroke-width="1.15"/>
<line x1="106" y1="1677" x2="394.5" y2="1607" stroke="#111" stroke-width="1.3" />
<text x="121.5" y="1469" font-size="17.8" text-anchor="start" font-weight="normal" font-style="normal" fill="#000" >r = 0.398</text>
<text x="121.5" y="1489.5" font-size="17.8" text-anchor="start" font-weight="normal" font-style="normal" fill="#000" >p = 0.082</text>
<text x="0" y="0" font-size="18.25" text-anchor="middle" transform="translate(72.6,1598.9) rotate(-90)">Basal REE (kcal/24h/LBM)</text>
<text x="263.7" y="1810.8" font-size="17.92" text-anchor="middle">CTHRC1 (ng/ml)</text>
<text x="461" y="1444.2" font-size="31.5" text-anchor="start" font-weight="bold" font-style="normal" fill="#000" >h</text>
<line x1="551.8" y1="1442.1" x2="551.8" y2="1758" stroke="#1a1a1a" stroke-width="1.8" />
<line x1="546.8" y1="1443" x2="551.8" y2="1443" stroke="#1a1a1a" stroke-width="1.8" />
<text x="545.5999999999999" y="1449.0" font-size="17.8" text-anchor="end" font-weight="normal" font-style="normal" fill="#000" >50</text>
<line x1="546.8" y1="1521.5" x2="551.8" y2="1521.5" stroke="#1a1a1a" stroke-width="1.8" />
<text x="545.5999999999999" y="1527.5" font-size="17.8" text-anchor="end" font-weight="normal" font-style="normal" fill="#000" >40</text>
<line x1="546.8" y1="1600.5" x2="551.8" y2="1600.5" stroke="#1a1a1a" stroke-width="1.8" />
<text x="545.5999999999999" y="1606.5" font-size="17.8" text-anchor="end" font-weight="normal" font-style="normal" fill="#000" >30</text>
<line x1="546.8" y1="1679.5" x2="551.8" y2="1679.5" stroke="#1a1a1a" stroke-width="1.8" />
<text x="545.5999999999999" y="1685.5" font-size="17.8" text-anchor="end" font-weight="normal" font-style="normal" fill="#000" >20</text>
<line x1="546.8" y1="1758" x2="551.8" y2="1758" stroke="#1a1a1a" stroke-width="1.8" />
<text x="545.5999999999999" y="1764.0" font-size="17.8" text-anchor="end" font-weight="normal" font-style="normal" fill="#000" >10</text>
<line x1="550.9" y1="1758" x2="867" y2="1758" stroke="#1a1a1a" stroke-width="1.8" />
<line x1="552" y1="1758" x2="552" y2="1763" stroke="#1a1a1a" stroke-width="1.8" />
<text x="552" y="1781.4" font-size="17.8" text-anchor="middle" font-weight="normal" font-style="normal" fill="#000" >0</text>
<line x1="615" y1="1758" x2="615" y2="1763" stroke="#1a1a1a" stroke-width="1.8" />
<text x="615" y="1781.4" font-size="17.8" text-anchor="middle" font-weight="normal" font-style="normal" fill="#000" >1</text>
<line x1="678" y1="1758" x2="678" y2="1763" stroke="#1a1a1a" stroke-width="1.8" />
<text x="678" y="1781.4" font-size="17.8" text-anchor="middle" font-weight="normal" font-style="normal" fill="#000" >2</text>
<line x1="741" y1="1758" x2="741" y2="1763" stroke="#1a1a1a" stroke-width="1.8" />
<text x="741" y="1781.4" font-size="17.8" text-anchor="middle" font-weight="normal" font-style="normal" fill="#000" >3</text>
<line x1="804" y1="1758" x2="804" y2="1763" stroke="#1a1a1a" stroke-width="1.8" />
<text x="804" y="1781.4" font-size="17.8" text-anchor="middle" font-weight="normal" font-style="normal" fill="#000" >4</text>
<line x1="867" y1="1758" x2="867" y2="1763" stroke="#1a1a1a" stroke-width="1.8" />
<text x="867" y="1781.4" font-size="17.8" text-anchor="middle" font-weight="normal" font-style="normal" fill="#000" >5</text>
<circle cx="553.5" cy="1636.5" r="1.5" fill="none" stroke="#111" stroke-width="1.15"/>
<circle cx="554.5" cy="1676" r="1.5" fill="none" stroke="#111" stroke-width="1.15"/>
<circle cx="556.5" cy="1664" r="1.5" fill="none" stroke="#111" stroke-width="1.15"/>
<circle cx="569.5" cy="1623" r="1.5" fill="none" stroke="#111" stroke-width="1.15"/>
<circle cx="574.5" cy="1665" r="1.5" fill="none" stroke="#111" stroke-width="1.15"/>
<circle cx="581" cy="1615" r="1.5" fill="none" stroke="#111" stroke-width="1.15"/>
<circle cx="581" cy="1662.5" r="1.5" fill="none" stroke="#111" stroke-width="1.15"/>
<circle cx="594" cy="1690.5" r="1.5" fill="none" stroke="#111" stroke-width="1.15"/>
<circle cx="619.5" cy="1648" r="1.5" fill="none" stroke="#111" stroke-width="1.15"/>
<circle cx="626.5" cy="1656.5" r="1.5" fill="none" stroke="#111" stroke-width="1.15"/>
<circle cx="629" cy="1673" r="1.5" fill="none" stroke="#111" stroke-width="1.15"/>
<circle cx="644" cy="1633" r="1.5" fill="none" stroke="#111" stroke-width="1.15"/>
<circle cx="647.5" cy="1626" r="1.5" fill="none" stroke="#111" stroke-width="1.15"/>
<circle cx="672" cy="1674" r="1.5" fill="none" stroke="#111" stroke-width="1.15"/>
<circle cx="724.5" cy="1608.5" r="1.5" fill="none" stroke="#111" stroke-width="1.15"/>
<circle cx="773" cy="1659" r="1.5" fill="none" stroke="#111" stroke-width="1.15"/>
<circle cx="778" cy="1607.5" r="1.5" fill="none" stroke="#111" stroke-width="1.15"/>
<circle cx="819" cy="1515.5" r="1.5" fill="none" stroke="#111" stroke-width="1.15"/>
<circle cx="840" cy="1626" r="1.5" fill="none" stroke="#111" stroke-width="1.15"/>
<line x1="553.5" y1="1662" x2="840" y2="1595" stroke="#111" stroke-width="1.3" />
<text x="809" y="1456" font-size="17.8" text-anchor="start" font-weight="normal" font-style="normal" fill="#000" >r = 0.565</text>
<text x="809" y="1476.5" font-size="17.8" text-anchor="start" font-weight="normal" font-style="normal" fill="#000" >p = 0.012</text>
<text x="0" y="0" font-size="17.64" text-anchor="middle" transform="translate(518.7,1595.3) rotate(-90)">REE during EHC&#160;&#160;(kcal/24h/LBM)</text>
<text x="709" y="1810.8" font-size="17.92" text-anchor="middle">CTHRC1 (ng/ml)</text>
<text x="461.5" y="937" font-size="31.5" text-anchor="start" font-weight="bold" font-style="normal" fill="#000" >f</text>
<rect x="575" y="965" width="48" height="105.5" fill="#a3a3a8" stroke="#1a1a1a" stroke-width="1.6"/>
<rect x="575" y="1070.5" width="48" height="208.0" fill="#ff8200" stroke="#1a1a1a" stroke-width="1.6"/>
<rect x="649" y="965" width="47.5" height="187.5" fill="#a3a3a8" stroke="#1a1a1a" stroke-width="1.6"/>
<rect x="649" y="1152.5" width="47.5" height="126.0" fill="#ff8200" stroke="#1a1a1a" stroke-width="1.6"/>
<rect x="722" y="965" width="47.5" height="197.5" fill="#a3a3a8" stroke="#1a1a1a" stroke-width="1.6"/>
<rect x="722" y="1162.5" width="47.5" height="116.0" fill="#ff8200" stroke="#1a1a1a" stroke-width="1.6"/>
<rect x="795.5" y="965" width="47.0" height="248" fill="#a3a3a8" stroke="#1a1a1a" stroke-width="1.6"/>
<rect x="795.5" y="1213" width="47.0" height="65.5" fill="#ff8200" stroke="#1a1a1a" stroke-width="1.6"/>
<line x1="550.8" y1="961.6" x2="550.8" y2="1278.5" stroke="#1a1a1a" stroke-width="1.8" />
<line x1="546.3" y1="962.5" x2="550.8" y2="962.5" stroke="#1a1a1a" stroke-width="1.8" />
<text x="544.5999999999999" y="968.5" font-size="17.8" text-anchor="end" font-weight="normal" font-style="normal" fill="#000" >100</text>
<line x1="546.3" y1="1120.5" x2="550.8" y2="1120.5" stroke="#1a1a1a" stroke-width="1.8" />
<text x="544.5999999999999" y="1126.5" font-size="17.8" text-anchor="end" font-weight="normal" font-style="normal" fill="#000" >50</text>
<line x1="546.3" y1="1278.5" x2="550.8" y2="1278.5" stroke="#1a1a1a" stroke-width="1.8" />
<text x="544.5999999999999" y="1284.5" font-size="17.8" text-anchor="end" font-weight="normal" font-style="normal" fill="#000" >0</text>
<line x1="547.8" y1="978.3" x2="550.8" y2="978.3" stroke="#1a1a1a" stroke-width="1.5" />
<line x1="547.8" y1="994.1" x2="550.8" y2="994.1" stroke="#1a1a1a" stroke-width="1.5" />
<line x1="547.8" y1="1009.9" x2="550.8" y2="1009.9" stroke="#1a1a1a" stroke-width="1.5" />
<line x1="547.8" y1="1025.7" x2="550.8" y2="1025.7" stroke="#1a1a1a" stroke-width="1.5" />
<line x1="547.8" y1="1041.5" x2="550.8" y2="1041.5" stroke="#1a1a1a" stroke-width="1.5" />
<line x1="547.8" y1="1057.3" x2="550.8" y2="1057.3" stroke="#1a1a1a" stroke-width="1.5" />
<line x1="547.8" y1="1073.1" x2="550.8" y2="1073.1" stroke="#1a1a1a" stroke-width="1.5" />
<line x1="547.8" y1="1088.9" x2="550.8" y2="1088.9" stroke="#1a1a1a" stroke-width="1.5" />
<line x1="547.8" y1="1104.7" x2="550.8" y2="1104.7" stroke="#1a1a1a" stroke-width="1.5" />
<line x1="547.8" y1="1136.3" x2="550.8" y2="1136.3" stroke="#1a1a1a" stroke-width="1.5" />
<line x1="547.8" y1="1152.1" x2="550.8" y2="1152.1" stroke="#1a1a1a" stroke-width="1.5" />
<line x1="547.8" y1="1167.9" x2="550.8" y2="1167.9" stroke="#1a1a1a" stroke-width="1.5" />
<line x1="547.8" y1="1183.7" x2="550.8" y2="1183.7" stroke="#1a1a1a" stroke-width="1.5" />
<line x1="547.8" y1="1199.5" x2="550.8" y2="1199.5" stroke="#1a1a1a" stroke-width="1.5" />
<line x1="547.8" y1="1215.3" x2="550.8" y2="1215.3" stroke="#1a1a1a" stroke-width="1.5" />
<line x1="547.8" y1="1231.1" x2="550.8" y2="1231.1" stroke="#1a1a1a" stroke-width="1.5" />
<line x1="547.8" y1="1246.9" x2="550.8" y2="1246.9" stroke="#1a1a1a" stroke-width="1.5" />
<line x1="547.8" y1="1262.7" x2="550.8" y2="1262.7" stroke="#1a1a1a" stroke-width="1.5" />
<line x1="549.9" y1="1278.5" x2="868" y2="1278.5" stroke="#1a1a1a" stroke-width="1.8" />
<line x1="599" y1="1278.5" x2="599" y2="1283.5" stroke="#1a1a1a" stroke-width="1.8" />
<line x1="672.7" y1="1278.5" x2="672.7" y2="1283.5" stroke="#1a1a1a" stroke-width="1.8" />
<line x1="745.7" y1="1278.5" x2="745.7" y2="1283.5" stroke="#1a1a1a" stroke-width="1.8" />
<line x1="819" y1="1278.5" x2="819" y2="1283.5" stroke="#1a1a1a" stroke-width="1.8" />
<text x="819.5" y="1201" font-size="24" text-anchor="middle" font-weight="bold" font-style="normal" fill="#000" >*</text>
<rect x="825.5" y="904" width="11" height="15" fill="#a3a3a8" stroke="#1a1a1a" stroke-width="1.3"/>
<rect x="825.5" y="929" width="11" height="15" fill="#ff8200" stroke="#1a1a1a" stroke-width="1.3"/>
<text x="843" y="917.5" font-size="17.3" text-anchor="start" font-weight="normal" font-style="normal" fill="#000" >undetected</text>
<text x="843" y="942.5" font-size="17.3" text-anchor="start" font-weight="normal" font-style="normal" fill="#000" >detected</text>
<text x="0" y="0" font-size="17.71" text-anchor="middle" transform="translate(508,1114.8) rotate(-90)">plasma CTHRC1 (% of incidence)</text>
<text font-size="17.8" text-anchor="end" transform="translate(604.5,1301.9) rotate(-45)"><tspan x="0" y="0">normal weight</tspan></text>
<text font-size="17.8" text-anchor="end" transform="translate(678.2,1301.9) rotate(-45)"><tspan x="0" y="-6.5">obesity-</tspan><tspan x="0" y="19.5">NGT</tspan></text>
<text font-size="17.8" text-anchor="end" transform="translate(751.2,1301.9) rotate(-45)"><tspan x="0" y="-6.5">obesity-</tspan><tspan x="0" y="19.5">prediabetes</tspan></text>
<text font-size="17.8" text-anchor="end" transform="translate(824.5,1301.9) rotate(-45)"><tspan x="0" y="-6.5">obesity-</tspan><tspan x="0" y="19.5">diabetes</tspan></text>
<text x="19" y="1910.4" font-size="32" text-anchor="start" font-weight="bold" font-style="normal" fill="#000" >i</text>
</g>
</svg>
</body></html>
